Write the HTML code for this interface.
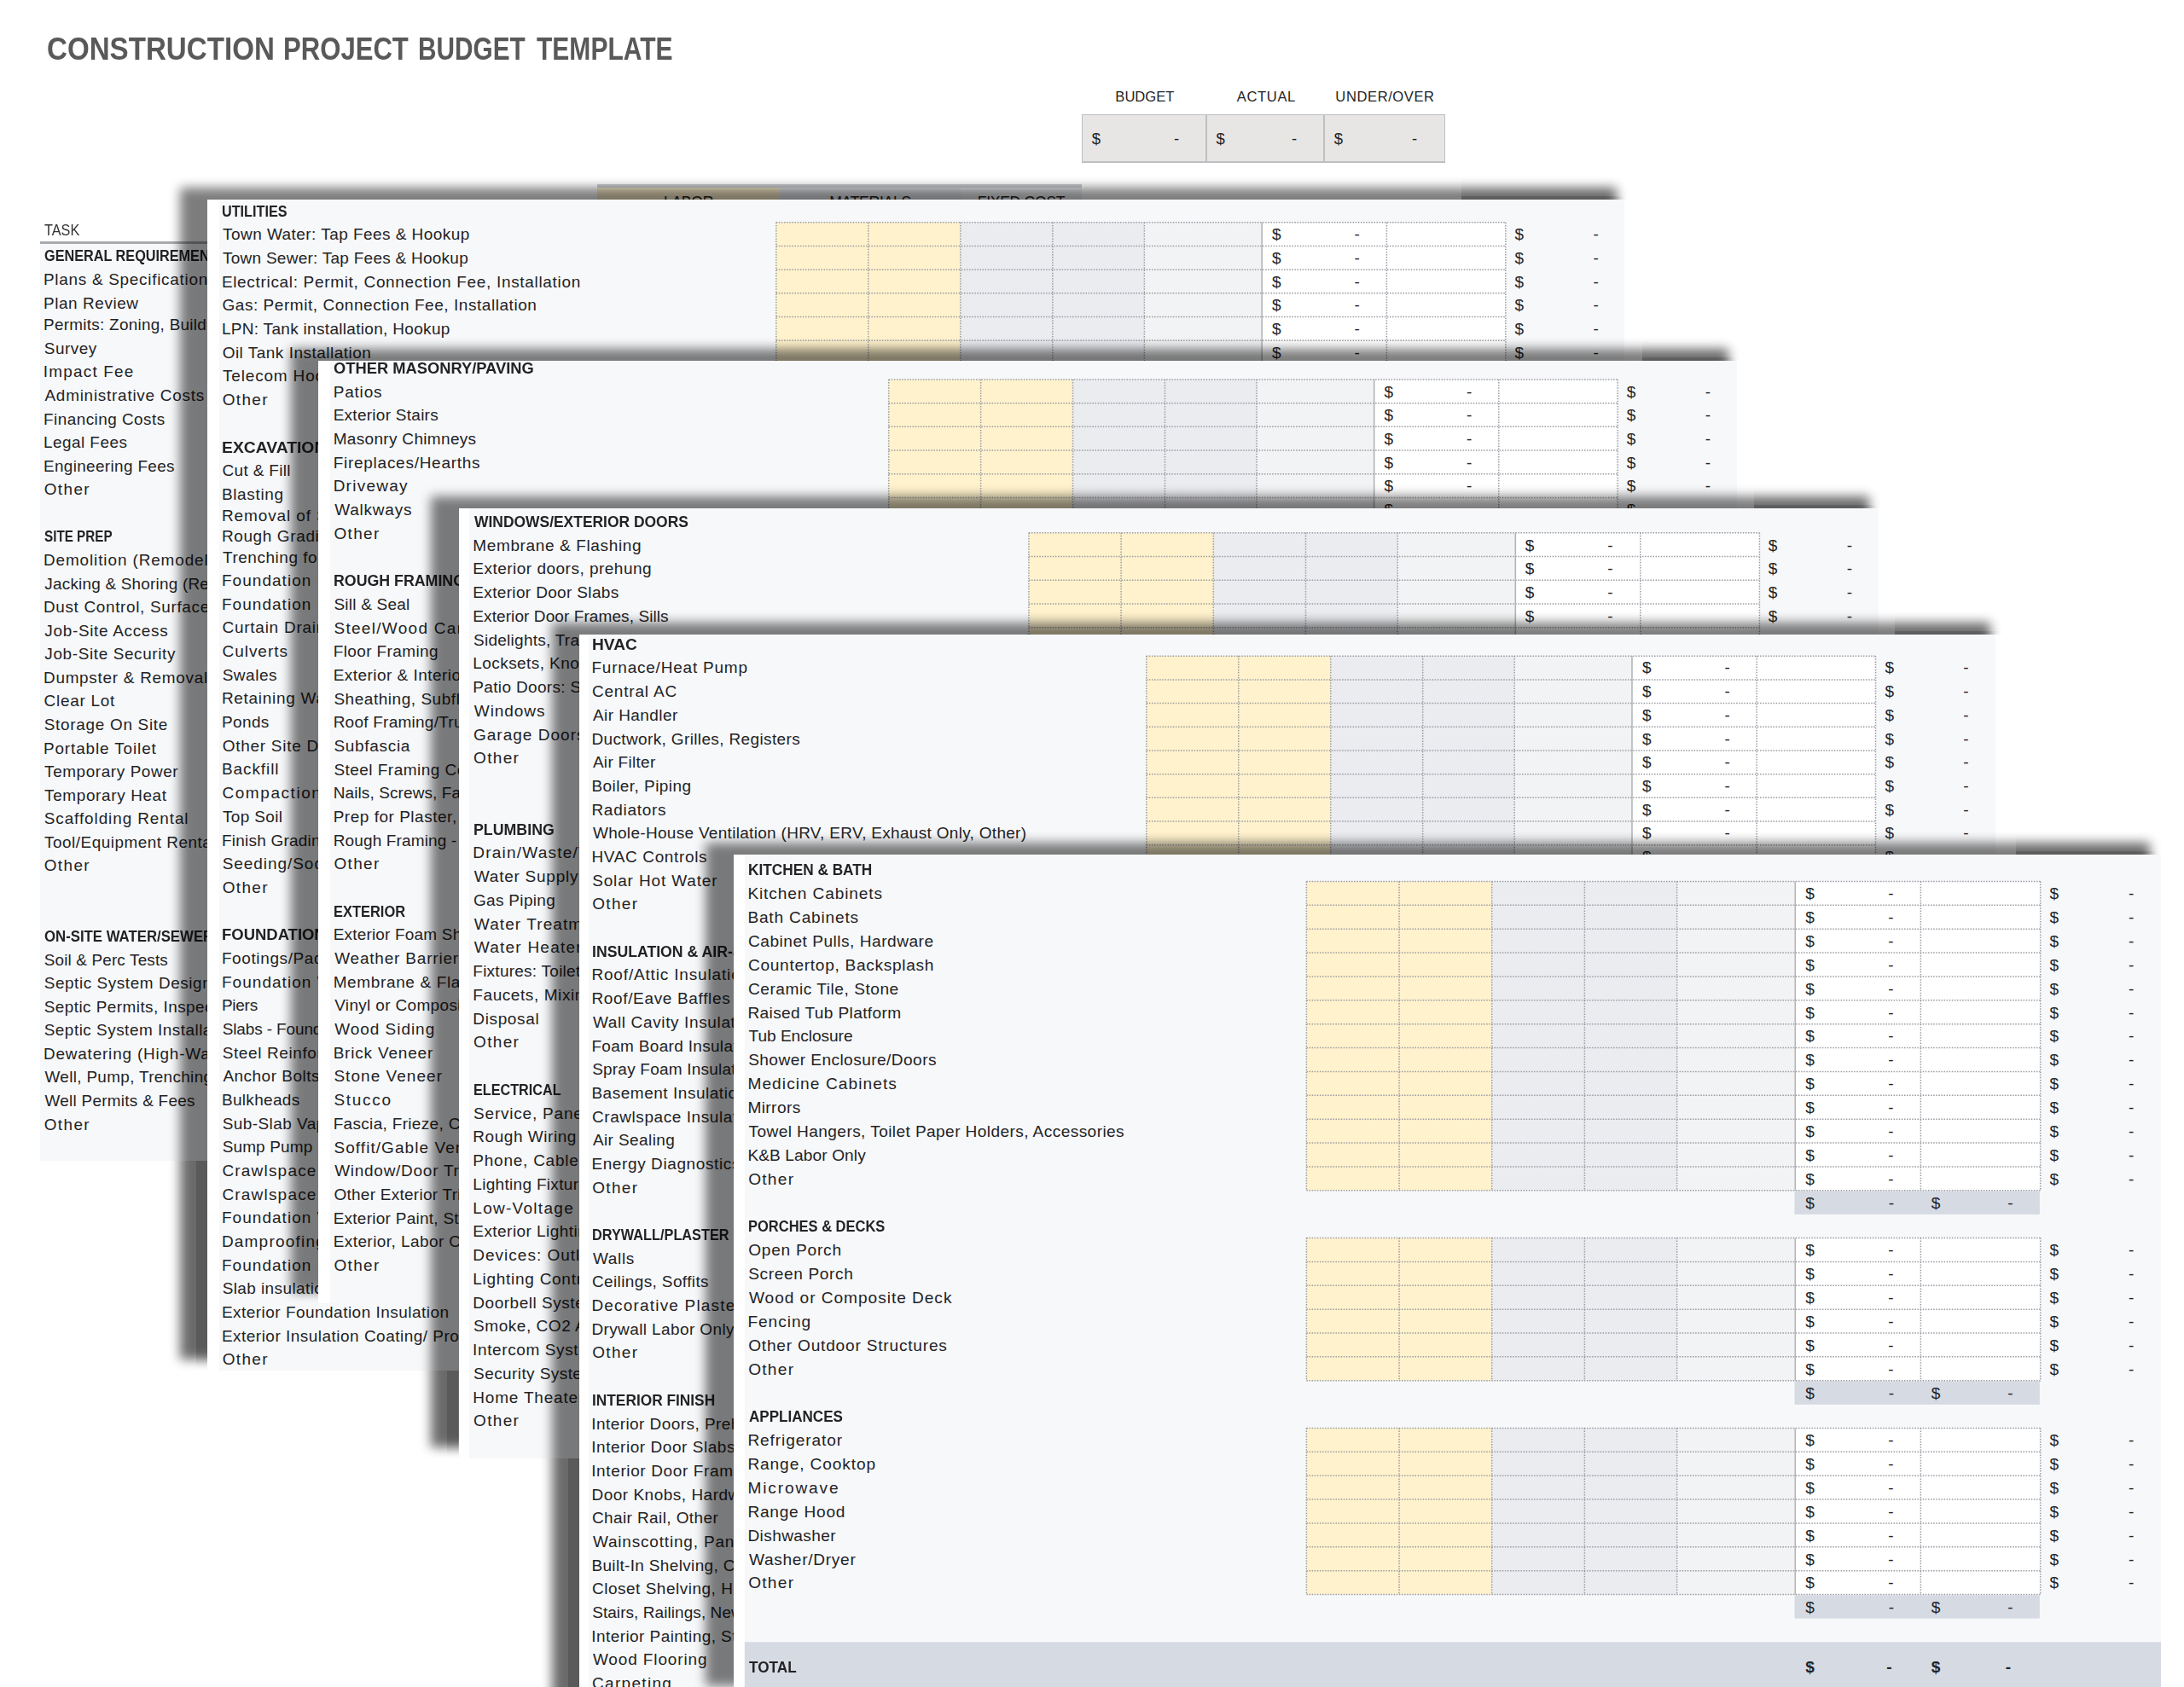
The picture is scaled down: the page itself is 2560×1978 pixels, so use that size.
<!DOCTYPE html><html><head><meta charset="utf-8"><title>Construction Project Budget Template</title><style>
html,body{margin:0;padding:0;background:#fff}
#root{width:2560px;height:1978px;position:relative;overflow:hidden;font-family:"Liberation Sans", sans-serif;color:#232325;background:#fff}
.abs,.sheet,.panel,.t,.h,.m,.g,.lay,.sh{position:absolute}
.sheet{background:#fff;overflow:hidden}
.panel{background:#f7f8fa}
.t,.h,.m{white-space:nowrap;letter-spacing:.45px}
.h{font-weight:700;letter-spacing:0;transform:scaleX(.92);transform-origin:0 50%}
.m{text-align:center;letter-spacing:0}
.m.b{font-weight:700}
.g{left:0;top:0}
.g .d{stroke:#9a9ba3;stroke-width:1.5;stroke-dasharray:1.5 1.6;fill:none}
.g .sl{stroke:#b4b5b8;stroke-width:1.6;fill:none}
.lay{left:0;top:0;width:2560px;height:1978px;overflow:hidden;pointer-events:none}
.sh{background:#000;filter:blur(6.6px)}
</style></head><body><div id="root"><div class="lay"><div class="sh" style="left:210.5px;top:220px;width:1684.5px;height:1373.5px;opacity:0.58"></div><div class="sh" style="left:340.5px;top:409.2px;width:1685.5px;height:1106.3px;opacity:0.58"></div><div class="sh" style="left:505px;top:582.3px;width:1686px;height:1115.1px;opacity:0.58"></div><div class="sh" style="left:646.7px;top:729.7px;width:1686.3px;height:1297.3px;opacity:0.58"></div><div class="sh" style="left:827.5px;top:988.2px;width:1692.5px;height:988.8px;opacity:0.58"></div><div class="abs" style="left:229.6px;top:229.8px;width:13.4px;height:1376.7px;overflow:hidden"><div class="sh" style="left:-19.1px;top:-9.8px;width:1684.5px;height:1373.5px;opacity:0.145"></div></div><div class="abs" style="left:243px;top:229.8px;width:1682px;height:4.2px;overflow:hidden"><div class="sh" style="left:-32.5px;top:-9.8px;width:1684.5px;height:1373.5px;opacity:0.145"></div></div><div class="abs" style="left:359.6px;top:419px;width:13.4px;height:1109.5px;overflow:hidden"><div class="sh" style="left:-19.1px;top:-9.8px;width:1685.5px;height:1106.3px;opacity:0.145"></div></div><div class="abs" style="left:373px;top:419px;width:1683px;height:4.2px;overflow:hidden"><div class="sh" style="left:-32.5px;top:-9.8px;width:1685.5px;height:1106.3px;opacity:0.145"></div></div><div class="abs" style="left:524.1px;top:592.1px;width:13.4px;height:1118.3px;overflow:hidden"><div class="sh" style="left:-19.1px;top:-9.8px;width:1686px;height:1115.1px;opacity:0.145"></div></div><div class="abs" style="left:537.5px;top:592.1px;width:1683.5px;height:4.2px;overflow:hidden"><div class="sh" style="left:-32.5px;top:-9.8px;width:1686px;height:1115.1px;opacity:0.145"></div></div><div class="abs" style="left:665.8px;top:739.5px;width:13.4px;height:1300.5px;overflow:hidden"><div class="sh" style="left:-19.1px;top:-9.8px;width:1686.3px;height:1297.3px;opacity:0.145"></div></div><div class="abs" style="left:679.2px;top:739.5px;width:1683.8px;height:4.2px;overflow:hidden"><div class="sh" style="left:-32.5px;top:-9.8px;width:1686.3px;height:1297.3px;opacity:0.145"></div></div><div class="abs" style="left:846.6px;top:998px;width:13.4px;height:992px;overflow:hidden"><div class="sh" style="left:-19.1px;top:-9.8px;width:1692.5px;height:988.8px;opacity:0.145"></div></div><div class="abs" style="left:860px;top:998px;width:1690px;height:4.2px;overflow:hidden"><div class="sh" style="left:-32.5px;top:-9.8px;width:1692.5px;height:988.8px;opacity:0.145"></div></div></div><div class="sheet" style="left:0;top:0;width:1713px;height:1360.6px"><div class="panel" style="left:47px;top:286.3px;width:1646px;height:1074.3px"></div><svg class="g" width="1753" height="1400.6" viewBox="0 0 1753 1400.6"><rect x="699.9" y="313.87" width="214.99" height="273.33" fill="#fff2cc"/><rect x="914.89" y="313.87" width="214.59" height="273.33" fill="#ebecf0"/><rect x="1129.47" y="313.87" width="137.15" height="273.33" fill="#f2f3f4"/><rect x="1266.63" y="313.87" width="284.26" height="273.33" fill="#ffffff"/><rect x="1265.83" y="588" width="284.26" height="26.97" fill="#d6dae3"/><line class="d" x1="699.9" y1="313.87" x2="1550.89" y2="313.87"/><line class="d" x1="699.9" y1="341.44" x2="1550.89" y2="341.44"/><line class="d" x1="699.9" y1="369.01" x2="1550.89" y2="369.01"/><line class="d" x1="699.9" y1="394.21" x2="1550.89" y2="394.21"/><line class="d" x1="699.9" y1="421.78" x2="1550.89" y2="421.78"/><line class="d" x1="699.9" y1="449.35" x2="1550.89" y2="449.35"/><line class="d" x1="699.9" y1="476.92" x2="1550.89" y2="476.92"/><line class="d" x1="699.9" y1="504.49" x2="1550.89" y2="504.49"/><line class="d" x1="699.9" y1="532.06" x2="1550.89" y2="532.06"/><line class="d" x1="699.9" y1="559.63" x2="1550.89" y2="559.63"/><line class="d" x1="699.9" y1="587.2" x2="1550.89" y2="587.2"/><line class="d" x1="699.9" y1="313.87" x2="699.9" y2="587.2"/><line class="d" x1="807.39" y1="313.87" x2="807.39" y2="587.2"/><line class="d" x1="914.89" y1="313.87" x2="914.89" y2="587.2"/><line class="d" x1="1022.38" y1="313.87" x2="1022.38" y2="587.2"/><line class="d" x1="1129.47" y1="313.87" x2="1129.47" y2="587.2"/><line class="sl" x1="1266.63" y1="313.87" x2="1266.63" y2="587.2"/><line class="d" x1="1412.14" y1="313.87" x2="1412.14" y2="587.2"/><line class="d" x1="1550.89" y1="313.87" x2="1550.89" y2="587.2"/><rect x="699.9" y="642.34" width="214.99" height="385.98" fill="#fff2cc"/><rect x="914.89" y="642.34" width="214.59" height="385.98" fill="#ebecf0"/><rect x="1129.47" y="642.34" width="137.15" height="385.98" fill="#f2f3f4"/><rect x="1266.63" y="642.34" width="284.26" height="385.98" fill="#ffffff"/><rect x="1265.83" y="1029.12" width="284.26" height="26.97" fill="#d6dae3"/><line class="d" x1="699.9" y1="642.34" x2="1550.89" y2="642.34"/><line class="d" x1="699.9" y1="669.91" x2="1550.89" y2="669.91"/><line class="d" x1="699.9" y1="697.48" x2="1550.89" y2="697.48"/><line class="d" x1="699.9" y1="725.05" x2="1550.89" y2="725.05"/><line class="d" x1="699.9" y1="752.62" x2="1550.89" y2="752.62"/><line class="d" x1="699.9" y1="780.19" x2="1550.89" y2="780.19"/><line class="d" x1="699.9" y1="807.76" x2="1550.89" y2="807.76"/><line class="d" x1="699.9" y1="835.33" x2="1550.89" y2="835.33"/><line class="d" x1="699.9" y1="862.9" x2="1550.89" y2="862.9"/><line class="d" x1="699.9" y1="890.47" x2="1550.89" y2="890.47"/><line class="d" x1="699.9" y1="918.04" x2="1550.89" y2="918.04"/><line class="d" x1="699.9" y1="945.61" x2="1550.89" y2="945.61"/><line class="d" x1="699.9" y1="973.18" x2="1550.89" y2="973.18"/><line class="d" x1="699.9" y1="1000.75" x2="1550.89" y2="1000.75"/><line class="d" x1="699.9" y1="1028.32" x2="1550.89" y2="1028.32"/><line class="d" x1="699.9" y1="642.34" x2="699.9" y2="1028.32"/><line class="d" x1="807.39" y1="642.34" x2="807.39" y2="1028.32"/><line class="d" x1="914.89" y1="642.34" x2="914.89" y2="1028.32"/><line class="d" x1="1022.38" y1="642.34" x2="1022.38" y2="1028.32"/><line class="d" x1="1129.47" y1="642.34" x2="1129.47" y2="1028.32"/><line class="sl" x1="1266.63" y1="642.34" x2="1266.63" y2="1028.32"/><line class="d" x1="1412.14" y1="642.34" x2="1412.14" y2="1028.32"/><line class="d" x1="1550.89" y1="642.34" x2="1550.89" y2="1028.32"/><rect x="699.9" y="1111.03" width="214.99" height="220.56" fill="#fff2cc"/><rect x="914.89" y="1111.03" width="214.59" height="220.56" fill="#ebecf0"/><rect x="1129.47" y="1111.03" width="137.15" height="220.56" fill="#f2f3f4"/><rect x="1266.63" y="1111.03" width="284.26" height="220.56" fill="#ffffff"/><rect x="1265.83" y="1332.39" width="284.26" height="26.97" fill="#d6dae3"/><line class="d" x1="699.9" y1="1111.03" x2="1550.89" y2="1111.03"/><line class="d" x1="699.9" y1="1138.6" x2="1550.89" y2="1138.6"/><line class="d" x1="699.9" y1="1166.17" x2="1550.89" y2="1166.17"/><line class="d" x1="699.9" y1="1193.74" x2="1550.89" y2="1193.74"/><line class="d" x1="699.9" y1="1221.31" x2="1550.89" y2="1221.31"/><line class="d" x1="699.9" y1="1248.88" x2="1550.89" y2="1248.88"/><line class="d" x1="699.9" y1="1276.45" x2="1550.89" y2="1276.45"/><line class="d" x1="699.9" y1="1304.02" x2="1550.89" y2="1304.02"/><line class="d" x1="699.9" y1="1331.59" x2="1550.89" y2="1331.59"/><line class="d" x1="699.9" y1="1111.03" x2="699.9" y2="1331.59"/><line class="d" x1="807.39" y1="1111.03" x2="807.39" y2="1331.59"/><line class="d" x1="914.89" y1="1111.03" x2="914.89" y2="1331.59"/><line class="d" x1="1022.38" y1="1111.03" x2="1022.38" y2="1331.59"/><line class="d" x1="1129.47" y1="1111.03" x2="1129.47" y2="1331.59"/><line class="sl" x1="1266.63" y1="1111.03" x2="1266.63" y2="1331.59"/><line class="d" x1="1412.14" y1="1111.03" x2="1412.14" y2="1331.59"/><line class="d" x1="1550.89" y1="1111.03" x2="1550.89" y2="1331.59"/></svg><div class="h" style="left:51.85px;top:285.7px;line-height:27.57px;font-size:18.91px;transform:scaleX(0.8586)">GENERAL REQUIREMENTS</div><div class="t" style="left:50.99px;top:314.47px;line-height:27.57px;font-size:18.91px;letter-spacing:0.729px">Plans &amp; Specifications</div><span class="m" style="left:1273.75px;top:314.47px;width:20px;line-height:27.57px;font-size:18.91px">$</span><span class="m" style="left:1367.6px;top:314.47px;width:20px;line-height:27.57px;font-size:18.91px">-</span><span class="m" style="left:1556.81px;top:314.47px;width:20px;line-height:27.57px;font-size:18.91px">$</span><span class="m" style="left:1646.19px;top:314.47px;width:20px;line-height:27.57px;font-size:18.91px">-</span><div class="t" style="left:50.99px;top:342.04px;line-height:27.57px;font-size:18.91px;letter-spacing:0.596px">Plan Review</div><span class="m" style="left:1273.75px;top:342.04px;width:20px;line-height:27.57px;font-size:18.91px">$</span><span class="m" style="left:1367.6px;top:342.04px;width:20px;line-height:27.57px;font-size:18.91px">-</span><span class="m" style="left:1556.81px;top:342.04px;width:20px;line-height:27.57px;font-size:18.91px">$</span><span class="m" style="left:1646.19px;top:342.04px;width:20px;line-height:27.57px;font-size:18.91px">-</span><div class="t" style="left:50.99px;top:368.41px;line-height:25.2px;font-size:18.91px;letter-spacing:0.281px">Permits: Zoning, Building, Environmental, Other</div><span class="m" style="left:1273.75px;top:369.61px;width:20px;line-height:25.2px;font-size:18.91px">$</span><span class="m" style="left:1367.6px;top:369.61px;width:20px;line-height:25.2px;font-size:18.91px">-</span><span class="m" style="left:1556.81px;top:369.61px;width:20px;line-height:25.2px;font-size:18.91px">$</span><span class="m" style="left:1646.19px;top:369.61px;width:20px;line-height:25.2px;font-size:18.91px">-</span><div class="t" style="left:51.74px;top:394.81px;line-height:27.57px;font-size:18.91px;letter-spacing:0.540px">Survey</div><span class="m" style="left:1273.75px;top:394.81px;width:20px;line-height:27.57px;font-size:18.91px">$</span><span class="m" style="left:1367.6px;top:394.81px;width:20px;line-height:27.57px;font-size:18.91px">-</span><span class="m" style="left:1556.81px;top:394.81px;width:20px;line-height:27.57px;font-size:18.91px">$</span><span class="m" style="left:1646.19px;top:394.81px;width:20px;line-height:27.57px;font-size:18.91px">-</span><div class="t" style="left:50.8px;top:422.38px;line-height:27.57px;font-size:18.91px;letter-spacing:1.222px">Impact Fee</div><span class="m" style="left:1273.75px;top:422.38px;width:20px;line-height:27.57px;font-size:18.91px">$</span><span class="m" style="left:1367.6px;top:422.38px;width:20px;line-height:27.57px;font-size:18.91px">-</span><span class="m" style="left:1556.81px;top:422.38px;width:20px;line-height:27.57px;font-size:18.91px">$</span><span class="m" style="left:1646.19px;top:422.38px;width:20px;line-height:27.57px;font-size:18.91px">-</span><div class="t" style="left:52.5px;top:449.95px;line-height:27.57px;font-size:18.91px;letter-spacing:0.759px">Administrative Costs</div><span class="m" style="left:1273.75px;top:449.95px;width:20px;line-height:27.57px;font-size:18.91px">$</span><span class="m" style="left:1367.6px;top:449.95px;width:20px;line-height:27.57px;font-size:18.91px">-</span><span class="m" style="left:1556.81px;top:449.95px;width:20px;line-height:27.57px;font-size:18.91px">$</span><span class="m" style="left:1646.19px;top:449.95px;width:20px;line-height:27.57px;font-size:18.91px">-</span><div class="t" style="left:50.99px;top:477.52px;line-height:27.57px;font-size:18.91px;letter-spacing:0.478px">Financing Costs</div><span class="m" style="left:1273.75px;top:477.52px;width:20px;line-height:27.57px;font-size:18.91px">$</span><span class="m" style="left:1367.6px;top:477.52px;width:20px;line-height:27.57px;font-size:18.91px">-</span><span class="m" style="left:1556.81px;top:477.52px;width:20px;line-height:27.57px;font-size:18.91px">$</span><span class="m" style="left:1646.19px;top:477.52px;width:20px;line-height:27.57px;font-size:18.91px">-</span><div class="t" style="left:50.99px;top:505.09px;line-height:27.57px;font-size:18.91px;letter-spacing:0.479px">Legal Fees</div><span class="m" style="left:1273.75px;top:505.09px;width:20px;line-height:27.57px;font-size:18.91px">$</span><span class="m" style="left:1367.6px;top:505.09px;width:20px;line-height:27.57px;font-size:18.91px">-</span><span class="m" style="left:1556.81px;top:505.09px;width:20px;line-height:27.57px;font-size:18.91px">$</span><span class="m" style="left:1646.19px;top:505.09px;width:20px;line-height:27.57px;font-size:18.91px">-</span><div class="t" style="left:50.99px;top:532.66px;line-height:27.57px;font-size:18.91px;letter-spacing:0.357px">Engineering Fees</div><span class="m" style="left:1273.75px;top:532.66px;width:20px;line-height:27.57px;font-size:18.91px">$</span><span class="m" style="left:1367.6px;top:532.66px;width:20px;line-height:27.57px;font-size:18.91px">-</span><span class="m" style="left:1556.81px;top:532.66px;width:20px;line-height:27.57px;font-size:18.91px">$</span><span class="m" style="left:1646.19px;top:532.66px;width:20px;line-height:27.57px;font-size:18.91px">-</span><div class="t" style="left:51.74px;top:560.23px;line-height:27.57px;font-size:18.91px;letter-spacing:1.402px">Other</div><span class="m" style="left:1273.75px;top:560.23px;width:20px;line-height:27.57px;font-size:18.91px">$</span><span class="m" style="left:1367.6px;top:560.23px;width:20px;line-height:27.57px;font-size:18.91px">-</span><span class="m" style="left:1556.81px;top:560.23px;width:20px;line-height:27.57px;font-size:18.91px">$</span><span class="m" style="left:1646.19px;top:560.23px;width:20px;line-height:27.57px;font-size:18.91px">-</span><span class="m" style="left:1273.75px;top:588.1px;width:20px;line-height:27.57px;font-size:18.91px">$</span><span class="m" style="left:1368.1px;top:588.1px;width:20px;line-height:27.57px;font-size:18.91px">-</span><span class="m" style="left:1419.56px;top:588.1px;width:20px;line-height:27.57px;font-size:18.91px">$</span><span class="m" style="left:1505.95px;top:588.1px;width:20px;line-height:27.57px;font-size:18.91px">-</span><div class="h" style="left:52.2px;top:615.37px;line-height:27.57px;font-size:18.91px;transform:scaleX(0.8060)">SITE PREP</div><div class="t" style="left:50.99px;top:642.94px;line-height:27.57px;font-size:18.91px;letter-spacing:0.899px">Demolition (Remodel)</div><span class="m" style="left:1273.75px;top:642.94px;width:20px;line-height:27.57px;font-size:18.91px">$</span><span class="m" style="left:1367.6px;top:642.94px;width:20px;line-height:27.57px;font-size:18.91px">-</span><span class="m" style="left:1556.81px;top:642.94px;width:20px;line-height:27.57px;font-size:18.91px">$</span><span class="m" style="left:1646.19px;top:642.94px;width:20px;line-height:27.57px;font-size:18.91px">-</span><div class="t" style="left:52.31px;top:670.51px;line-height:27.57px;font-size:18.91px;letter-spacing:0.224px">Jacking &amp; Shoring (Remodel)</div><span class="m" style="left:1273.75px;top:670.51px;width:20px;line-height:27.57px;font-size:18.91px">$</span><span class="m" style="left:1367.6px;top:670.51px;width:20px;line-height:27.57px;font-size:18.91px">-</span><span class="m" style="left:1556.81px;top:670.51px;width:20px;line-height:27.57px;font-size:18.91px">$</span><span class="m" style="left:1646.19px;top:670.51px;width:20px;line-height:27.57px;font-size:18.91px">-</span><div class="t" style="left:50.99px;top:698.08px;line-height:27.57px;font-size:18.91px;letter-spacing:0.672px">Dust Control, Surface Protection</div><span class="m" style="left:1273.75px;top:698.08px;width:20px;line-height:27.57px;font-size:18.91px">$</span><span class="m" style="left:1367.6px;top:698.08px;width:20px;line-height:27.57px;font-size:18.91px">-</span><span class="m" style="left:1556.81px;top:698.08px;width:20px;line-height:27.57px;font-size:18.91px">$</span><span class="m" style="left:1646.19px;top:698.08px;width:20px;line-height:27.57px;font-size:18.91px">-</span><div class="t" style="left:52.31px;top:725.65px;line-height:27.57px;font-size:18.91px;letter-spacing:0.705px">Job-Site Access</div><span class="m" style="left:1273.75px;top:725.65px;width:20px;line-height:27.57px;font-size:18.91px">$</span><span class="m" style="left:1367.6px;top:725.65px;width:20px;line-height:27.57px;font-size:18.91px">-</span><span class="m" style="left:1556.81px;top:725.65px;width:20px;line-height:27.57px;font-size:18.91px">$</span><span class="m" style="left:1646.19px;top:725.65px;width:20px;line-height:27.57px;font-size:18.91px">-</span><div class="t" style="left:52.31px;top:753.22px;line-height:27.57px;font-size:18.91px;letter-spacing:0.641px">Job-Site Security</div><span class="m" style="left:1273.75px;top:753.22px;width:20px;line-height:27.57px;font-size:18.91px">$</span><span class="m" style="left:1367.6px;top:753.22px;width:20px;line-height:27.57px;font-size:18.91px">-</span><span class="m" style="left:1556.81px;top:753.22px;width:20px;line-height:27.57px;font-size:18.91px">$</span><span class="m" style="left:1646.19px;top:753.22px;width:20px;line-height:27.57px;font-size:18.91px">-</span><div class="t" style="left:50.99px;top:780.79px;line-height:27.57px;font-size:18.91px;letter-spacing:0.739px">Dumpster &amp; Removal</div><span class="m" style="left:1273.75px;top:780.79px;width:20px;line-height:27.57px;font-size:18.91px">$</span><span class="m" style="left:1367.6px;top:780.79px;width:20px;line-height:27.57px;font-size:18.91px">-</span><span class="m" style="left:1556.81px;top:780.79px;width:20px;line-height:27.57px;font-size:18.91px">$</span><span class="m" style="left:1646.19px;top:780.79px;width:20px;line-height:27.57px;font-size:18.91px">-</span><div class="t" style="left:51.55px;top:808.36px;line-height:27.57px;font-size:18.91px;letter-spacing:0.746px">Clear Lot</div><span class="m" style="left:1273.75px;top:808.36px;width:20px;line-height:27.57px;font-size:18.91px">$</span><span class="m" style="left:1367.6px;top:808.36px;width:20px;line-height:27.57px;font-size:18.91px">-</span><span class="m" style="left:1556.81px;top:808.36px;width:20px;line-height:27.57px;font-size:18.91px">$</span><span class="m" style="left:1646.19px;top:808.36px;width:20px;line-height:27.57px;font-size:18.91px">-</span><div class="t" style="left:51.74px;top:835.93px;line-height:27.57px;font-size:18.91px;letter-spacing:0.720px">Storage On Site</div><span class="m" style="left:1273.75px;top:835.93px;width:20px;line-height:27.57px;font-size:18.91px">$</span><span class="m" style="left:1367.6px;top:835.93px;width:20px;line-height:27.57px;font-size:18.91px">-</span><span class="m" style="left:1556.81px;top:835.93px;width:20px;line-height:27.57px;font-size:18.91px">$</span><span class="m" style="left:1646.19px;top:835.93px;width:20px;line-height:27.57px;font-size:18.91px">-</span><div class="t" style="left:50.99px;top:863.5px;line-height:27.57px;font-size:18.91px;letter-spacing:0.881px">Portable Toilet</div><span class="m" style="left:1273.75px;top:863.5px;width:20px;line-height:27.57px;font-size:18.91px">$</span><span class="m" style="left:1367.6px;top:863.5px;width:20px;line-height:27.57px;font-size:18.91px">-</span><span class="m" style="left:1556.81px;top:863.5px;width:20px;line-height:27.57px;font-size:18.91px">$</span><span class="m" style="left:1646.19px;top:863.5px;width:20px;line-height:27.57px;font-size:18.91px">-</span><div class="t" style="left:52.12px;top:891.07px;line-height:27.57px;font-size:18.91px;letter-spacing:0.596px">Temporary Power</div><span class="m" style="left:1273.75px;top:891.07px;width:20px;line-height:27.57px;font-size:18.91px">$</span><span class="m" style="left:1367.6px;top:891.07px;width:20px;line-height:27.57px;font-size:18.91px">-</span><span class="m" style="left:1556.81px;top:891.07px;width:20px;line-height:27.57px;font-size:18.91px">$</span><span class="m" style="left:1646.19px;top:891.07px;width:20px;line-height:27.57px;font-size:18.91px">-</span><div class="t" style="left:52.12px;top:918.64px;line-height:27.57px;font-size:18.91px;letter-spacing:0.647px">Temporary Heat</div><span class="m" style="left:1273.75px;top:918.64px;width:20px;line-height:27.57px;font-size:18.91px">$</span><span class="m" style="left:1367.6px;top:918.64px;width:20px;line-height:27.57px;font-size:18.91px">-</span><span class="m" style="left:1556.81px;top:918.64px;width:20px;line-height:27.57px;font-size:18.91px">$</span><span class="m" style="left:1646.19px;top:918.64px;width:20px;line-height:27.57px;font-size:18.91px">-</span><div class="t" style="left:51.74px;top:946.21px;line-height:27.57px;font-size:18.91px;letter-spacing:0.923px">Scaffolding Rental</div><span class="m" style="left:1273.75px;top:946.21px;width:20px;line-height:27.57px;font-size:18.91px">$</span><span class="m" style="left:1367.6px;top:946.21px;width:20px;line-height:27.57px;font-size:18.91px">-</span><span class="m" style="left:1556.81px;top:946.21px;width:20px;line-height:27.57px;font-size:18.91px">$</span><span class="m" style="left:1646.19px;top:946.21px;width:20px;line-height:27.57px;font-size:18.91px">-</span><div class="t" style="left:52.12px;top:973.78px;line-height:27.57px;font-size:18.91px;letter-spacing:0.503px">Tool/Equipment Rental</div><span class="m" style="left:1273.75px;top:973.78px;width:20px;line-height:27.57px;font-size:18.91px">$</span><span class="m" style="left:1367.6px;top:973.78px;width:20px;line-height:27.57px;font-size:18.91px">-</span><span class="m" style="left:1556.81px;top:973.78px;width:20px;line-height:27.57px;font-size:18.91px">$</span><span class="m" style="left:1646.19px;top:973.78px;width:20px;line-height:27.57px;font-size:18.91px">-</span><div class="t" style="left:51.74px;top:1001.35px;line-height:27.57px;font-size:18.91px;letter-spacing:1.402px">Other</div><span class="m" style="left:1273.75px;top:1001.35px;width:20px;line-height:27.57px;font-size:18.91px">$</span><span class="m" style="left:1367.6px;top:1001.35px;width:20px;line-height:27.57px;font-size:18.91px">-</span><span class="m" style="left:1556.81px;top:1001.35px;width:20px;line-height:27.57px;font-size:18.91px">$</span><span class="m" style="left:1646.19px;top:1001.35px;width:20px;line-height:27.57px;font-size:18.91px">-</span><span class="m" style="left:1273.75px;top:1029.22px;width:20px;line-height:27.57px;font-size:18.91px">$</span><span class="m" style="left:1368.1px;top:1029.22px;width:20px;line-height:27.57px;font-size:18.91px">-</span><span class="m" style="left:1419.56px;top:1029.22px;width:20px;line-height:27.57px;font-size:18.91px">$</span><span class="m" style="left:1505.95px;top:1029.22px;width:20px;line-height:27.57px;font-size:18.91px">-</span><div class="h" style="left:51.83px;top:1084.06px;line-height:27.57px;font-size:18.91px;transform:scaleX(0.8873)">ON-SITE WATER/SEWER</div><div class="t" style="left:51.74px;top:1111.63px;line-height:27.57px;font-size:18.91px;letter-spacing:0.156px">Soil &amp; Perc Tests</div><span class="m" style="left:1273.75px;top:1111.63px;width:20px;line-height:27.57px;font-size:18.91px">$</span><span class="m" style="left:1367.6px;top:1111.63px;width:20px;line-height:27.57px;font-size:18.91px">-</span><span class="m" style="left:1556.81px;top:1111.63px;width:20px;line-height:27.57px;font-size:18.91px">$</span><span class="m" style="left:1646.19px;top:1111.63px;width:20px;line-height:27.57px;font-size:18.91px">-</span><div class="t" style="left:51.74px;top:1139.2px;line-height:27.57px;font-size:18.91px;letter-spacing:0.582px">Septic System Design</div><span class="m" style="left:1273.75px;top:1139.2px;width:20px;line-height:27.57px;font-size:18.91px">$</span><span class="m" style="left:1367.6px;top:1139.2px;width:20px;line-height:27.57px;font-size:18.91px">-</span><span class="m" style="left:1556.81px;top:1139.2px;width:20px;line-height:27.57px;font-size:18.91px">$</span><span class="m" style="left:1646.19px;top:1139.2px;width:20px;line-height:27.57px;font-size:18.91px">-</span><div class="t" style="left:51.74px;top:1166.77px;line-height:27.57px;font-size:18.91px;letter-spacing:0.458px">Septic Permits, Inspections, Fees</div><span class="m" style="left:1273.75px;top:1166.77px;width:20px;line-height:27.57px;font-size:18.91px">$</span><span class="m" style="left:1367.6px;top:1166.77px;width:20px;line-height:27.57px;font-size:18.91px">-</span><span class="m" style="left:1556.81px;top:1166.77px;width:20px;line-height:27.57px;font-size:18.91px">$</span><span class="m" style="left:1646.19px;top:1166.77px;width:20px;line-height:27.57px;font-size:18.91px">-</span><div class="t" style="left:51.74px;top:1194.34px;line-height:27.57px;font-size:18.91px;letter-spacing:0.507px">Septic System Installation, Tie In to House</div><span class="m" style="left:1273.75px;top:1194.34px;width:20px;line-height:27.57px;font-size:18.91px">$</span><span class="m" style="left:1367.6px;top:1194.34px;width:20px;line-height:27.57px;font-size:18.91px">-</span><span class="m" style="left:1556.81px;top:1194.34px;width:20px;line-height:27.57px;font-size:18.91px">$</span><span class="m" style="left:1646.19px;top:1194.34px;width:20px;line-height:27.57px;font-size:18.91px">-</span><div class="t" style="left:50.99px;top:1221.91px;line-height:27.57px;font-size:18.91px;letter-spacing:0.819px">Dewatering (High-Water Table)</div><span class="m" style="left:1273.75px;top:1221.91px;width:20px;line-height:27.57px;font-size:18.91px">$</span><span class="m" style="left:1367.6px;top:1221.91px;width:20px;line-height:27.57px;font-size:18.91px">-</span><span class="m" style="left:1556.81px;top:1221.91px;width:20px;line-height:27.57px;font-size:18.91px">$</span><span class="m" style="left:1646.19px;top:1221.91px;width:20px;line-height:27.57px;font-size:18.91px">-</span><div class="t" style="left:52.5px;top:1249.48px;line-height:27.57px;font-size:18.91px;letter-spacing:0.332px">Well, Pump, Trenching, Plumbing</div><span class="m" style="left:1273.75px;top:1249.48px;width:20px;line-height:27.57px;font-size:18.91px">$</span><span class="m" style="left:1367.6px;top:1249.48px;width:20px;line-height:27.57px;font-size:18.91px">-</span><span class="m" style="left:1556.81px;top:1249.48px;width:20px;line-height:27.57px;font-size:18.91px">$</span><span class="m" style="left:1646.19px;top:1249.48px;width:20px;line-height:27.57px;font-size:18.91px">-</span><div class="t" style="left:52.5px;top:1277.05px;line-height:27.57px;font-size:18.91px;letter-spacing:0.280px">Well Permits &amp; Fees</div><span class="m" style="left:1273.75px;top:1277.05px;width:20px;line-height:27.57px;font-size:18.91px">$</span><span class="m" style="left:1367.6px;top:1277.05px;width:20px;line-height:27.57px;font-size:18.91px">-</span><span class="m" style="left:1556.81px;top:1277.05px;width:20px;line-height:27.57px;font-size:18.91px">$</span><span class="m" style="left:1646.19px;top:1277.05px;width:20px;line-height:27.57px;font-size:18.91px">-</span><div class="t" style="left:51.74px;top:1304.62px;line-height:27.57px;font-size:18.91px;letter-spacing:1.402px">Other</div><span class="m" style="left:1273.75px;top:1304.62px;width:20px;line-height:27.57px;font-size:18.91px">$</span><span class="m" style="left:1367.6px;top:1304.62px;width:20px;line-height:27.57px;font-size:18.91px">-</span><span class="m" style="left:1556.81px;top:1304.62px;width:20px;line-height:27.57px;font-size:18.91px">$</span><span class="m" style="left:1646.19px;top:1304.62px;width:20px;line-height:27.57px;font-size:18.91px">-</span><span class="m" style="left:1273.75px;top:1332.49px;width:20px;line-height:27.57px;font-size:18.91px">$</span><span class="m" style="left:1368.1px;top:1332.49px;width:20px;line-height:27.57px;font-size:18.91px">-</span><span class="m" style="left:1419.56px;top:1332.49px;width:20px;line-height:27.57px;font-size:18.91px">$</span><span class="m" style="left:1505.95px;top:1332.49px;width:20px;line-height:27.57px;font-size:18.91px">-</span><div class="abs" style="left:54.77px;top:35.7px;font-size:36.4px;font-weight:700;color:#595959;white-space:nowrap;line-height:44px;transform:scaleX(0.9102);transform-origin:0 50%">CONSTRUCTION</div><div class="abs" style="left:331.73px;top:35.7px;font-size:36.4px;font-weight:700;color:#595959;white-space:nowrap;line-height:44px;transform:scaleX(0.8544);transform-origin:0 50%">PROJECT</div><div class="abs" style="left:490.01px;top:35.7px;font-size:36.4px;font-weight:700;color:#595959;white-space:nowrap;line-height:44px;transform:scaleX(0.8180);transform-origin:0 50%">BUDGET</div><div class="abs" style="left:629px;top:35.7px;font-size:36.4px;font-weight:700;color:#595959;white-space:nowrap;line-height:44px;transform:scaleX(0.8251);transform-origin:0 50%">TEMPLATE</div><div class="abs" style="left:1267.5px;top:133.5px;width:426px;height:57px;background:#e7e6e5;box-sizing:border-box;border:1.5px solid #bdbfc3;border-bottom-width:2.5px"></div><div class="abs" style="left:1413.2px;top:134px;width:1.6px;height:55px;background:#bdbfc3"></div><div class="abs" style="left:1551.1px;top:134px;width:1.6px;height:55px;background:#bdbfc3"></div><div class="abs" style="left:1241.9px;top:101.2px;width:200px;text-align:center;font-size:16.6px;line-height:25px;letter-spacing:0.0px;white-space:nowrap">BUDGET</div><div class="abs" style="left:1384.4px;top:101.2px;width:200px;text-align:center;font-size:16.6px;line-height:25px;letter-spacing:0.6px;white-space:nowrap">ACTUAL</div><div class="abs" style="left:1523.5px;top:101.2px;width:200px;text-align:center;font-size:16.6px;line-height:25px;letter-spacing:0.57px;white-space:nowrap">UNDER/OVER</div><span class="m" style="left:1274.8px;top:148.5px;width:20px;line-height:28px;font-size:18.5px">$</span><span class="m" style="left:1369.1px;top:148.5px;width:20px;line-height:28px;font-size:18.5px">-</span><span class="m" style="left:1420.7px;top:148.5px;width:20px;line-height:28px;font-size:18.5px">$</span><span class="m" style="left:1507px;top:148.5px;width:20px;line-height:28px;font-size:18.5px">-</span><span class="m" style="left:1559px;top:148.5px;width:20px;line-height:28px;font-size:18.5px">$</span><span class="m" style="left:1648.2px;top:148.5px;width:20px;line-height:28px;font-size:18.5px">-</span><div class="abs" style="left:51.8px;top:257.3px;font-size:18.4px;line-height:25px;color:#333;transform:scaleX(.885);transform-origin:0 50%">TASK</div><div class="abs" style="left:47px;top:283.4px;width:1646px;height:2.4px;background:#a9aaad"></div><div class="abs" style="left:699.9px;top:216.3px;width:568.6px;height:67px;background:#f0f1f3"></div><div class="abs" style="left:699.9px;top:216.3px;width:214.3px;height:67px;background:#fbeecb"></div><div class="abs" style="left:914.2px;top:216.3px;width:212px;height:67px;background:#e9ebf0"></div><div class="abs" style="left:699.9px;top:216.3px;width:568.6px;height:3.8px;background:#cbccd0"></div><div class="abs" style="left:707px;top:225px;width:200px;text-align:center;font-size:17.6px;line-height:25px;letter-spacing:-.3px;white-space:nowrap">LABOR</div><div class="abs" style="left:920px;top:225px;width:200px;text-align:center;font-size:17.6px;line-height:25px;letter-spacing:-.3px;white-space:nowrap">MATERIALS</div><div class="abs" style="left:1097px;top:225px;width:200px;text-align:center;font-size:17.6px;line-height:25px;letter-spacing:-.3px;white-space:nowrap">FIXED COST</div><div class="sh" style="left:210.5px;top:220px;width:1684.5px;height:1373.5px;opacity:0.51"></div><div class="sh" style="left:340.5px;top:409.2px;width:1685.5px;height:1106.3px;opacity:0.51"></div><div class="sh" style="left:505px;top:582.3px;width:1686px;height:1115.1px;opacity:0.51"></div><div class="sh" style="left:646.7px;top:729.7px;width:1686.3px;height:1297.3px;opacity:0.51"></div><div class="sh" style="left:827.5px;top:988.2px;width:1692.5px;height:988.8px;opacity:0.51"></div></div><div class="sheet" style="left:243px;top:234px;width:1682px;height:1372.5px"><div class="panel" style="left:14px;top:0px;width:1646.7px;height:1372.5px"></div><svg class="g" width="1722" height="1412.5" viewBox="0 0 1722 1412.5"><rect x="666.8" y="26.78" width="216" height="221.44" fill="#fff2cc"/><rect x="882.8" y="26.78" width="215.6" height="221.44" fill="#ebecf0"/><rect x="1098.4" y="26.78" width="137.8" height="221.44" fill="#f2f3f4"/><rect x="1236.2" y="26.78" width="285.6" height="221.44" fill="#ffffff"/><rect x="1235.4" y="249.02" width="285.6" height="27.08" fill="#d6dae3"/><line class="d" x1="666.8" y1="26.78" x2="1521.8" y2="26.78"/><line class="d" x1="666.8" y1="54.46" x2="1521.8" y2="54.46"/><line class="d" x1="666.8" y1="82.14" x2="1521.8" y2="82.14"/><line class="d" x1="666.8" y1="109.82" x2="1521.8" y2="109.82"/><line class="d" x1="666.8" y1="137.5" x2="1521.8" y2="137.5"/><line class="d" x1="666.8" y1="165.18" x2="1521.8" y2="165.18"/><line class="d" x1="666.8" y1="192.86" x2="1521.8" y2="192.86"/><line class="d" x1="666.8" y1="220.54" x2="1521.8" y2="220.54"/><line class="d" x1="666.8" y1="248.22" x2="1521.8" y2="248.22"/><line class="d" x1="666.8" y1="26.78" x2="666.8" y2="248.22"/><line class="d" x1="774.8" y1="26.78" x2="774.8" y2="248.22"/><line class="d" x1="882.8" y1="26.78" x2="882.8" y2="248.22"/><line class="d" x1="990.8" y1="26.78" x2="990.8" y2="248.22"/><line class="d" x1="1098.4" y1="26.78" x2="1098.4" y2="248.22"/><line class="sl" x1="1236.2" y1="26.78" x2="1236.2" y2="248.22"/><line class="d" x1="1382.4" y1="26.78" x2="1382.4" y2="248.22"/><line class="d" x1="1521.8" y1="26.78" x2="1521.8" y2="248.22"/><rect x="666.8" y="303.58" width="216" height="516.36" fill="#fff2cc"/><rect x="882.8" y="303.58" width="215.6" height="516.36" fill="#ebecf0"/><rect x="1098.4" y="303.58" width="137.8" height="516.36" fill="#f2f3f4"/><rect x="1236.2" y="303.58" width="285.6" height="516.36" fill="#ffffff"/><rect x="1235.4" y="820.74" width="285.6" height="27.08" fill="#d6dae3"/><line class="d" x1="666.8" y1="303.58" x2="1521.8" y2="303.58"/><line class="d" x1="666.8" y1="331.26" x2="1521.8" y2="331.26"/><line class="d" x1="666.8" y1="358.94" x2="1521.8" y2="358.94"/><line class="d" x1="666.8" y1="380.44" x2="1521.8" y2="380.44"/><line class="d" x1="666.8" y1="408.12" x2="1521.8" y2="408.12"/><line class="d" x1="666.8" y1="432.42" x2="1521.8" y2="432.42"/><line class="d" x1="666.8" y1="460.1" x2="1521.8" y2="460.1"/><line class="d" x1="666.8" y1="487.78" x2="1521.8" y2="487.78"/><line class="d" x1="666.8" y1="515.46" x2="1521.8" y2="515.46"/><line class="d" x1="666.8" y1="543.14" x2="1521.8" y2="543.14"/><line class="d" x1="666.8" y1="570.82" x2="1521.8" y2="570.82"/><line class="d" x1="666.8" y1="598.5" x2="1521.8" y2="598.5"/><line class="d" x1="666.8" y1="626.18" x2="1521.8" y2="626.18"/><line class="d" x1="666.8" y1="653.86" x2="1521.8" y2="653.86"/><line class="d" x1="666.8" y1="681.54" x2="1521.8" y2="681.54"/><line class="d" x1="666.8" y1="709.22" x2="1521.8" y2="709.22"/><line class="d" x1="666.8" y1="736.9" x2="1521.8" y2="736.9"/><line class="d" x1="666.8" y1="764.58" x2="1521.8" y2="764.58"/><line class="d" x1="666.8" y1="792.26" x2="1521.8" y2="792.26"/><line class="d" x1="666.8" y1="819.94" x2="1521.8" y2="819.94"/><line class="d" x1="666.8" y1="303.58" x2="666.8" y2="819.94"/><line class="d" x1="774.8" y1="303.58" x2="774.8" y2="819.94"/><line class="d" x1="882.8" y1="303.58" x2="882.8" y2="819.94"/><line class="d" x1="990.8" y1="303.58" x2="990.8" y2="819.94"/><line class="d" x1="1098.4" y1="303.58" x2="1098.4" y2="819.94"/><line class="sl" x1="1236.2" y1="303.58" x2="1236.2" y2="819.94"/><line class="d" x1="1382.4" y1="303.58" x2="1382.4" y2="819.94"/><line class="d" x1="1521.8" y1="303.58" x2="1521.8" y2="819.94"/><rect x="666.8" y="875.3" width="216" height="498.24" fill="#fff2cc"/><rect x="882.8" y="875.3" width="215.6" height="498.24" fill="#ebecf0"/><rect x="1098.4" y="875.3" width="137.8" height="498.24" fill="#f2f3f4"/><rect x="1236.2" y="875.3" width="285.6" height="498.24" fill="#ffffff"/><rect x="1235.4" y="1374.34" width="285.6" height="27.08" fill="#d6dae3"/><line class="d" x1="666.8" y1="875.3" x2="1521.8" y2="875.3"/><line class="d" x1="666.8" y1="902.98" x2="1521.8" y2="902.98"/><line class="d" x1="666.8" y1="930.66" x2="1521.8" y2="930.66"/><line class="d" x1="666.8" y1="958.34" x2="1521.8" y2="958.34"/><line class="d" x1="666.8" y1="986.02" x2="1521.8" y2="986.02"/><line class="d" x1="666.8" y1="1013.7" x2="1521.8" y2="1013.7"/><line class="d" x1="666.8" y1="1041.38" x2="1521.8" y2="1041.38"/><line class="d" x1="666.8" y1="1069.06" x2="1521.8" y2="1069.06"/><line class="d" x1="666.8" y1="1096.74" x2="1521.8" y2="1096.74"/><line class="d" x1="666.8" y1="1124.42" x2="1521.8" y2="1124.42"/><line class="d" x1="666.8" y1="1152.1" x2="1521.8" y2="1152.1"/><line class="d" x1="666.8" y1="1179.78" x2="1521.8" y2="1179.78"/><line class="d" x1="666.8" y1="1207.46" x2="1521.8" y2="1207.46"/><line class="d" x1="666.8" y1="1235.14" x2="1521.8" y2="1235.14"/><line class="d" x1="666.8" y1="1262.82" x2="1521.8" y2="1262.82"/><line class="d" x1="666.8" y1="1290.5" x2="1521.8" y2="1290.5"/><line class="d" x1="666.8" y1="1318.18" x2="1521.8" y2="1318.18"/><line class="d" x1="666.8" y1="1345.86" x2="1521.8" y2="1345.86"/><line class="d" x1="666.8" y1="1373.54" x2="1521.8" y2="1373.54"/><line class="d" x1="666.8" y1="875.3" x2="666.8" y2="1373.54"/><line class="d" x1="774.8" y1="875.3" x2="774.8" y2="1373.54"/><line class="d" x1="882.8" y1="875.3" x2="882.8" y2="1373.54"/><line class="d" x1="990.8" y1="875.3" x2="990.8" y2="1373.54"/><line class="d" x1="1098.4" y1="875.3" x2="1098.4" y2="1373.54"/><line class="sl" x1="1236.2" y1="875.3" x2="1236.2" y2="1373.54"/><line class="d" x1="1382.4" y1="875.3" x2="1382.4" y2="1373.54"/><line class="d" x1="1521.8" y1="875.3" x2="1521.8" y2="1373.54"/></svg><div class="h" style="left:17.43px;top:-0.3px;line-height:27.68px;font-size:19px;transform:scaleX(0.8535)">UTILITIES</div><div class="t" style="left:18.02px;top:27.38px;line-height:27.68px;font-size:19px;letter-spacing:0.448px">Town Water: Tap Fees &amp; Hookup</div><span class="m" style="left:1243.4px;top:27.38px;width:20px;line-height:27.68px;font-size:19px">$</span><span class="m" style="left:1337.7px;top:27.38px;width:20px;line-height:27.68px;font-size:19px">-</span><span class="m" style="left:1527.8px;top:27.38px;width:20px;line-height:27.68px;font-size:19px">$</span><span class="m" style="left:1617.6px;top:27.38px;width:20px;line-height:27.68px;font-size:19px">-</span><div class="t" style="left:18.02px;top:55.06px;line-height:27.68px;font-size:19px;letter-spacing:0.255px">Town Sewer: Tap Fees &amp; Hookup</div><span class="m" style="left:1243.4px;top:55.06px;width:20px;line-height:27.68px;font-size:19px">$</span><span class="m" style="left:1337.7px;top:55.06px;width:20px;line-height:27.68px;font-size:19px">-</span><span class="m" style="left:1527.8px;top:55.06px;width:20px;line-height:27.68px;font-size:19px">$</span><span class="m" style="left:1617.6px;top:55.06px;width:20px;line-height:27.68px;font-size:19px">-</span><div class="t" style="left:16.88px;top:82.74px;line-height:27.68px;font-size:19px;letter-spacing:0.676px">Electrical: Permit, Connection Fee, Installation</div><span class="m" style="left:1243.4px;top:82.74px;width:20px;line-height:27.68px;font-size:19px">$</span><span class="m" style="left:1337.7px;top:82.74px;width:20px;line-height:27.68px;font-size:19px">-</span><span class="m" style="left:1527.8px;top:82.74px;width:20px;line-height:27.68px;font-size:19px">$</span><span class="m" style="left:1617.6px;top:82.74px;width:20px;line-height:27.68px;font-size:19px">-</span><div class="t" style="left:17.45px;top:110.42px;line-height:27.68px;font-size:19px;letter-spacing:0.551px">Gas: Permit, Connection Fee, Installation</div><span class="m" style="left:1243.4px;top:110.42px;width:20px;line-height:27.68px;font-size:19px">$</span><span class="m" style="left:1337.7px;top:110.42px;width:20px;line-height:27.68px;font-size:19px">-</span><span class="m" style="left:1527.8px;top:110.42px;width:20px;line-height:27.68px;font-size:19px">$</span><span class="m" style="left:1617.6px;top:110.42px;width:20px;line-height:27.68px;font-size:19px">-</span><div class="t" style="left:16.88px;top:138.1px;line-height:27.68px;font-size:19px;letter-spacing:0.312px">LPN: Tank installation, Hookup</div><span class="m" style="left:1243.4px;top:138.1px;width:20px;line-height:27.68px;font-size:19px">$</span><span class="m" style="left:1337.7px;top:138.1px;width:20px;line-height:27.68px;font-size:19px">-</span><span class="m" style="left:1527.8px;top:138.1px;width:20px;line-height:27.68px;font-size:19px">$</span><span class="m" style="left:1617.6px;top:138.1px;width:20px;line-height:27.68px;font-size:19px">-</span><div class="t" style="left:17.64px;top:165.78px;line-height:27.68px;font-size:19px;letter-spacing:0.494px">Oil Tank Installation</div><span class="m" style="left:1243.4px;top:165.78px;width:20px;line-height:27.68px;font-size:19px">$</span><span class="m" style="left:1337.7px;top:165.78px;width:20px;line-height:27.68px;font-size:19px">-</span><span class="m" style="left:1527.8px;top:165.78px;width:20px;line-height:27.68px;font-size:19px">$</span><span class="m" style="left:1617.6px;top:165.78px;width:20px;line-height:27.68px;font-size:19px">-</span><div class="t" style="left:18.02px;top:193.46px;line-height:27.68px;font-size:19px;letter-spacing:0.821px">Telecom Hookup</div><span class="m" style="left:1243.4px;top:193.46px;width:20px;line-height:27.68px;font-size:19px">$</span><span class="m" style="left:1337.7px;top:193.46px;width:20px;line-height:27.68px;font-size:19px">-</span><span class="m" style="left:1527.8px;top:193.46px;width:20px;line-height:27.68px;font-size:19px">$</span><span class="m" style="left:1617.6px;top:193.46px;width:20px;line-height:27.68px;font-size:19px">-</span><div class="t" style="left:17.64px;top:221.14px;line-height:27.68px;font-size:19px;letter-spacing:1.347px">Other</div><span class="m" style="left:1243.4px;top:221.14px;width:20px;line-height:27.68px;font-size:19px">$</span><span class="m" style="left:1337.7px;top:221.14px;width:20px;line-height:27.68px;font-size:19px">-</span><span class="m" style="left:1527.8px;top:221.14px;width:20px;line-height:27.68px;font-size:19px">$</span><span class="m" style="left:1617.6px;top:221.14px;width:20px;line-height:27.68px;font-size:19px">-</span><span class="m" style="left:1243.4px;top:249.12px;width:20px;line-height:27.68px;font-size:19px">$</span><span class="m" style="left:1338.2px;top:249.12px;width:20px;line-height:27.68px;font-size:19px">-</span><span class="m" style="left:1389.9px;top:249.12px;width:20px;line-height:27.68px;font-size:19px">$</span><span class="m" style="left:1476.7px;top:249.12px;width:20px;line-height:27.68px;font-size:19px">-</span><div class="h" style="left:17.24px;top:276.5px;line-height:27.68px;font-size:19px;transform:scaleX(1.0166)">EXCAVATION &amp; EARTHWORK</div><div class="t" style="left:17.45px;top:304.18px;line-height:27.68px;font-size:19px;letter-spacing:0.340px">Cut &amp; Fill</div><span class="m" style="left:1243.4px;top:304.18px;width:20px;line-height:27.68px;font-size:19px">$</span><span class="m" style="left:1337.7px;top:304.18px;width:20px;line-height:27.68px;font-size:19px">-</span><span class="m" style="left:1527.8px;top:304.18px;width:20px;line-height:27.68px;font-size:19px">$</span><span class="m" style="left:1617.6px;top:304.18px;width:20px;line-height:27.68px;font-size:19px">-</span><div class="t" style="left:16.88px;top:331.86px;line-height:27.68px;font-size:19px;letter-spacing:0.670px">Blasting</div><span class="m" style="left:1243.4px;top:331.86px;width:20px;line-height:27.68px;font-size:19px">$</span><span class="m" style="left:1337.7px;top:331.86px;width:20px;line-height:27.68px;font-size:19px">-</span><span class="m" style="left:1527.8px;top:331.86px;width:20px;line-height:27.68px;font-size:19px">$</span><span class="m" style="left:1617.6px;top:331.86px;width:20px;line-height:27.68px;font-size:19px">-</span><div class="t" style="left:16.88px;top:359.54px;line-height:21.5px;font-size:19px;letter-spacing:0.893px">Removal of Stumps, Rocks, Debris</div><span class="m" style="left:1243.4px;top:359.54px;width:20px;line-height:21.5px;font-size:19px">$</span><span class="m" style="left:1337.7px;top:359.54px;width:20px;line-height:21.5px;font-size:19px">-</span><span class="m" style="left:1527.8px;top:359.54px;width:20px;line-height:21.5px;font-size:19px">$</span><span class="m" style="left:1617.6px;top:359.54px;width:20px;line-height:21.5px;font-size:19px">-</span><div class="t" style="left:16.88px;top:381.04px;line-height:27.68px;font-size:19px;letter-spacing:0.621px">Rough Grading</div><span class="m" style="left:1243.4px;top:381.04px;width:20px;line-height:27.68px;font-size:19px">$</span><span class="m" style="left:1337.7px;top:381.04px;width:20px;line-height:27.68px;font-size:19px">-</span><span class="m" style="left:1527.8px;top:381.04px;width:20px;line-height:27.68px;font-size:19px">$</span><span class="m" style="left:1617.6px;top:381.04px;width:20px;line-height:27.68px;font-size:19px">-</span><div class="t" style="left:18.02px;top:407.72px;line-height:24.3px;font-size:19px;letter-spacing:0.520px">Trenching for Utility Hookups</div><span class="m" style="left:1243.4px;top:408.72px;width:20px;line-height:24.3px;font-size:19px">$</span><span class="m" style="left:1337.7px;top:408.72px;width:20px;line-height:24.3px;font-size:19px">-</span><span class="m" style="left:1527.8px;top:408.72px;width:20px;line-height:24.3px;font-size:19px">$</span><span class="m" style="left:1617.6px;top:408.72px;width:20px;line-height:24.3px;font-size:19px">-</span><div class="t" style="left:16.88px;top:433.02px;line-height:27.68px;font-size:19px;letter-spacing:1.050px">Foundation Excavation</div><span class="m" style="left:1243.4px;top:433.02px;width:20px;line-height:27.68px;font-size:19px">$</span><span class="m" style="left:1337.7px;top:433.02px;width:20px;line-height:27.68px;font-size:19px">-</span><span class="m" style="left:1527.8px;top:433.02px;width:20px;line-height:27.68px;font-size:19px">$</span><span class="m" style="left:1617.6px;top:433.02px;width:20px;line-height:27.68px;font-size:19px">-</span><div class="t" style="left:16.88px;top:460.7px;line-height:27.68px;font-size:19px;letter-spacing:1.050px">Foundation Footing Drains</div><span class="m" style="left:1243.4px;top:460.7px;width:20px;line-height:27.68px;font-size:19px">$</span><span class="m" style="left:1337.7px;top:460.7px;width:20px;line-height:27.68px;font-size:19px">-</span><span class="m" style="left:1527.8px;top:460.7px;width:20px;line-height:27.68px;font-size:19px">$</span><span class="m" style="left:1617.6px;top:460.7px;width:20px;line-height:27.68px;font-size:19px">-</span><div class="t" style="left:17.45px;top:488.38px;line-height:27.68px;font-size:19px;letter-spacing:0.750px">Curtain Drains</div><span class="m" style="left:1243.4px;top:488.38px;width:20px;line-height:27.68px;font-size:19px">$</span><span class="m" style="left:1337.7px;top:488.38px;width:20px;line-height:27.68px;font-size:19px">-</span><span class="m" style="left:1527.8px;top:488.38px;width:20px;line-height:27.68px;font-size:19px">$</span><span class="m" style="left:1617.6px;top:488.38px;width:20px;line-height:27.68px;font-size:19px">-</span><div class="t" style="left:17.45px;top:516.06px;line-height:27.68px;font-size:19px;letter-spacing:0.977px">Culverts</div><span class="m" style="left:1243.4px;top:516.06px;width:20px;line-height:27.68px;font-size:19px">$</span><span class="m" style="left:1337.7px;top:516.06px;width:20px;line-height:27.68px;font-size:19px">-</span><span class="m" style="left:1527.8px;top:516.06px;width:20px;line-height:27.68px;font-size:19px">$</span><span class="m" style="left:1617.6px;top:516.06px;width:20px;line-height:27.68px;font-size:19px">-</span><div class="t" style="left:17.64px;top:543.74px;line-height:27.68px;font-size:19px;letter-spacing:0.536px">Swales</div><span class="m" style="left:1243.4px;top:543.74px;width:20px;line-height:27.68px;font-size:19px">$</span><span class="m" style="left:1337.7px;top:543.74px;width:20px;line-height:27.68px;font-size:19px">-</span><span class="m" style="left:1527.8px;top:543.74px;width:20px;line-height:27.68px;font-size:19px">$</span><span class="m" style="left:1617.6px;top:543.74px;width:20px;line-height:27.68px;font-size:19px">-</span><div class="t" style="left:16.88px;top:571.42px;line-height:27.68px;font-size:19px;letter-spacing:0.716px">Retaining Walls</div><span class="m" style="left:1243.4px;top:571.42px;width:20px;line-height:27.68px;font-size:19px">$</span><span class="m" style="left:1337.7px;top:571.42px;width:20px;line-height:27.68px;font-size:19px">-</span><span class="m" style="left:1527.8px;top:571.42px;width:20px;line-height:27.68px;font-size:19px">$</span><span class="m" style="left:1617.6px;top:571.42px;width:20px;line-height:27.68px;font-size:19px">-</span><div class="t" style="left:16.88px;top:599.1px;line-height:27.68px;font-size:19px;letter-spacing:0.404px">Ponds</div><span class="m" style="left:1243.4px;top:599.1px;width:20px;line-height:27.68px;font-size:19px">$</span><span class="m" style="left:1337.7px;top:599.1px;width:20px;line-height:27.68px;font-size:19px">-</span><span class="m" style="left:1527.8px;top:599.1px;width:20px;line-height:27.68px;font-size:19px">$</span><span class="m" style="left:1617.6px;top:599.1px;width:20px;line-height:27.68px;font-size:19px">-</span><div class="t" style="left:17.64px;top:626.78px;line-height:27.68px;font-size:19px;letter-spacing:0.735px">Other Site Drainage</div><span class="m" style="left:1243.4px;top:626.78px;width:20px;line-height:27.68px;font-size:19px">$</span><span class="m" style="left:1337.7px;top:626.78px;width:20px;line-height:27.68px;font-size:19px">-</span><span class="m" style="left:1527.8px;top:626.78px;width:20px;line-height:27.68px;font-size:19px">$</span><span class="m" style="left:1617.6px;top:626.78px;width:20px;line-height:27.68px;font-size:19px">-</span><div class="t" style="left:16.88px;top:654.46px;line-height:27.68px;font-size:19px;letter-spacing:0.931px">Backfill</div><span class="m" style="left:1243.4px;top:654.46px;width:20px;line-height:27.68px;font-size:19px">$</span><span class="m" style="left:1337.7px;top:654.46px;width:20px;line-height:27.68px;font-size:19px">-</span><span class="m" style="left:1527.8px;top:654.46px;width:20px;line-height:27.68px;font-size:19px">$</span><span class="m" style="left:1617.6px;top:654.46px;width:20px;line-height:27.68px;font-size:19px">-</span><div class="t" style="left:17.45px;top:682.14px;line-height:27.68px;font-size:19px;letter-spacing:1.568px">Compaction</div><span class="m" style="left:1243.4px;top:682.14px;width:20px;line-height:27.68px;font-size:19px">$</span><span class="m" style="left:1337.7px;top:682.14px;width:20px;line-height:27.68px;font-size:19px">-</span><span class="m" style="left:1527.8px;top:682.14px;width:20px;line-height:27.68px;font-size:19px">$</span><span class="m" style="left:1617.6px;top:682.14px;width:20px;line-height:27.68px;font-size:19px">-</span><div class="t" style="left:18.02px;top:709.82px;line-height:27.68px;font-size:19px;letter-spacing:0.352px">Top Soil</div><span class="m" style="left:1243.4px;top:709.82px;width:20px;line-height:27.68px;font-size:19px">$</span><span class="m" style="left:1337.7px;top:709.82px;width:20px;line-height:27.68px;font-size:19px">-</span><span class="m" style="left:1527.8px;top:709.82px;width:20px;line-height:27.68px;font-size:19px">$</span><span class="m" style="left:1617.6px;top:709.82px;width:20px;line-height:27.68px;font-size:19px">-</span><div class="t" style="left:16.88px;top:737.5px;line-height:27.68px;font-size:19px;letter-spacing:0.227px">Finish Grading</div><span class="m" style="left:1243.4px;top:737.5px;width:20px;line-height:27.68px;font-size:19px">$</span><span class="m" style="left:1337.7px;top:737.5px;width:20px;line-height:27.68px;font-size:19px">-</span><span class="m" style="left:1527.8px;top:737.5px;width:20px;line-height:27.68px;font-size:19px">$</span><span class="m" style="left:1617.6px;top:737.5px;width:20px;line-height:27.68px;font-size:19px">-</span><div class="t" style="left:17.64px;top:765.18px;line-height:27.68px;font-size:19px;letter-spacing:0.952px">Seeding/Sod</div><span class="m" style="left:1243.4px;top:765.18px;width:20px;line-height:27.68px;font-size:19px">$</span><span class="m" style="left:1337.7px;top:765.18px;width:20px;line-height:27.68px;font-size:19px">-</span><span class="m" style="left:1527.8px;top:765.18px;width:20px;line-height:27.68px;font-size:19px">$</span><span class="m" style="left:1617.6px;top:765.18px;width:20px;line-height:27.68px;font-size:19px">-</span><div class="t" style="left:17.64px;top:792.86px;line-height:27.68px;font-size:19px;letter-spacing:1.347px">Other</div><span class="m" style="left:1243.4px;top:792.86px;width:20px;line-height:27.68px;font-size:19px">$</span><span class="m" style="left:1337.7px;top:792.86px;width:20px;line-height:27.68px;font-size:19px">-</span><span class="m" style="left:1527.8px;top:792.86px;width:20px;line-height:27.68px;font-size:19px">$</span><span class="m" style="left:1617.6px;top:792.86px;width:20px;line-height:27.68px;font-size:19px">-</span><span class="m" style="left:1243.4px;top:820.84px;width:20px;line-height:27.68px;font-size:19px">$</span><span class="m" style="left:1338.2px;top:820.84px;width:20px;line-height:27.68px;font-size:19px">-</span><span class="m" style="left:1389.9px;top:820.84px;width:20px;line-height:27.68px;font-size:19px">$</span><span class="m" style="left:1476.7px;top:820.84px;width:20px;line-height:27.68px;font-size:19px">-</span><div class="h" style="left:17.29px;top:848.22px;line-height:27.68px;font-size:19px;transform:scaleX(0.9717)">FOUNDATION</div><div class="t" style="left:16.88px;top:875.9px;line-height:27.68px;font-size:19px;letter-spacing:0.616px">Footings/Pads</div><span class="m" style="left:1243.4px;top:875.9px;width:20px;line-height:27.68px;font-size:19px">$</span><span class="m" style="left:1337.7px;top:875.9px;width:20px;line-height:27.68px;font-size:19px">-</span><span class="m" style="left:1527.8px;top:875.9px;width:20px;line-height:27.68px;font-size:19px">$</span><span class="m" style="left:1617.6px;top:875.9px;width:20px;line-height:27.68px;font-size:19px">-</span><div class="t" style="left:16.88px;top:903.58px;line-height:27.68px;font-size:19px;letter-spacing:1.050px">Foundation Walls/Stem Walls/Grade Beams</div><span class="m" style="left:1243.4px;top:903.58px;width:20px;line-height:27.68px;font-size:19px">$</span><span class="m" style="left:1337.7px;top:903.58px;width:20px;line-height:27.68px;font-size:19px">-</span><span class="m" style="left:1527.8px;top:903.58px;width:20px;line-height:27.68px;font-size:19px">$</span><span class="m" style="left:1617.6px;top:903.58px;width:20px;line-height:27.68px;font-size:19px">-</span><div class="t" style="left:16.88px;top:931.26px;line-height:27.68px;font-size:19px;letter-spacing:-0.250px">Piers</div><span class="m" style="left:1243.4px;top:931.26px;width:20px;line-height:27.68px;font-size:19px">$</span><span class="m" style="left:1337.7px;top:931.26px;width:20px;line-height:27.68px;font-size:19px">-</span><span class="m" style="left:1527.8px;top:931.26px;width:20px;line-height:27.68px;font-size:19px">$</span><span class="m" style="left:1617.6px;top:931.26px;width:20px;line-height:27.68px;font-size:19px">-</span><div class="t" style="left:17.64px;top:958.94px;line-height:27.68px;font-size:19px;letter-spacing:-0.123px">Slabs - Foundation, Basement, Garage</div><span class="m" style="left:1243.4px;top:958.94px;width:20px;line-height:27.68px;font-size:19px">$</span><span class="m" style="left:1337.7px;top:958.94px;width:20px;line-height:27.68px;font-size:19px">-</span><span class="m" style="left:1527.8px;top:958.94px;width:20px;line-height:27.68px;font-size:19px">$</span><span class="m" style="left:1617.6px;top:958.94px;width:20px;line-height:27.68px;font-size:19px">-</span><div class="t" style="left:17.64px;top:986.62px;line-height:27.68px;font-size:19px;letter-spacing:0.612px">Steel Reinforcing</div><span class="m" style="left:1243.4px;top:986.62px;width:20px;line-height:27.68px;font-size:19px">$</span><span class="m" style="left:1337.7px;top:986.62px;width:20px;line-height:27.68px;font-size:19px">-</span><span class="m" style="left:1527.8px;top:986.62px;width:20px;line-height:27.68px;font-size:19px">$</span><span class="m" style="left:1617.6px;top:986.62px;width:20px;line-height:27.68px;font-size:19px">-</span><div class="t" style="left:18.4px;top:1014.3px;line-height:27.68px;font-size:19px;letter-spacing:0.481px">Anchor Bolts, Hold Downs</div><span class="m" style="left:1243.4px;top:1014.3px;width:20px;line-height:27.68px;font-size:19px">$</span><span class="m" style="left:1337.7px;top:1014.3px;width:20px;line-height:27.68px;font-size:19px">-</span><span class="m" style="left:1527.8px;top:1014.3px;width:20px;line-height:27.68px;font-size:19px">$</span><span class="m" style="left:1617.6px;top:1014.3px;width:20px;line-height:27.68px;font-size:19px">-</span><div class="t" style="left:16.88px;top:1041.98px;line-height:27.68px;font-size:19px;letter-spacing:0.333px">Bulkheads</div><span class="m" style="left:1243.4px;top:1041.98px;width:20px;line-height:27.68px;font-size:19px">$</span><span class="m" style="left:1337.7px;top:1041.98px;width:20px;line-height:27.68px;font-size:19px">-</span><span class="m" style="left:1527.8px;top:1041.98px;width:20px;line-height:27.68px;font-size:19px">$</span><span class="m" style="left:1617.6px;top:1041.98px;width:20px;line-height:27.68px;font-size:19px">-</span><div class="t" style="left:17.64px;top:1069.66px;line-height:27.68px;font-size:19px;letter-spacing:0.437px">Sub-Slab Vapor Barrier</div><span class="m" style="left:1243.4px;top:1069.66px;width:20px;line-height:27.68px;font-size:19px">$</span><span class="m" style="left:1337.7px;top:1069.66px;width:20px;line-height:27.68px;font-size:19px">-</span><span class="m" style="left:1527.8px;top:1069.66px;width:20px;line-height:27.68px;font-size:19px">$</span><span class="m" style="left:1617.6px;top:1069.66px;width:20px;line-height:27.68px;font-size:19px">-</span><div class="t" style="left:17.64px;top:1097.34px;line-height:27.68px;font-size:19px;letter-spacing:0.138px">Sump Pump</div><span class="m" style="left:1243.4px;top:1097.34px;width:20px;line-height:27.68px;font-size:19px">$</span><span class="m" style="left:1337.7px;top:1097.34px;width:20px;line-height:27.68px;font-size:19px">-</span><span class="m" style="left:1527.8px;top:1097.34px;width:20px;line-height:27.68px;font-size:19px">$</span><span class="m" style="left:1617.6px;top:1097.34px;width:20px;line-height:27.68px;font-size:19px">-</span><div class="t" style="left:17.45px;top:1125.02px;line-height:27.68px;font-size:19px;letter-spacing:1.188px">Crawlspace Vapor Barrier</div><span class="m" style="left:1243.4px;top:1125.02px;width:20px;line-height:27.68px;font-size:19px">$</span><span class="m" style="left:1337.7px;top:1125.02px;width:20px;line-height:27.68px;font-size:19px">-</span><span class="m" style="left:1527.8px;top:1125.02px;width:20px;line-height:27.68px;font-size:19px">$</span><span class="m" style="left:1617.6px;top:1125.02px;width:20px;line-height:27.68px;font-size:19px">-</span><div class="t" style="left:17.45px;top:1152.7px;line-height:27.68px;font-size:19px;letter-spacing:1.188px">Crawlspace Vents</div><span class="m" style="left:1243.4px;top:1152.7px;width:20px;line-height:27.68px;font-size:19px">$</span><span class="m" style="left:1337.7px;top:1152.7px;width:20px;line-height:27.68px;font-size:19px">-</span><span class="m" style="left:1527.8px;top:1152.7px;width:20px;line-height:27.68px;font-size:19px">$</span><span class="m" style="left:1617.6px;top:1152.7px;width:20px;line-height:27.68px;font-size:19px">-</span><div class="t" style="left:16.88px;top:1180.38px;line-height:27.68px;font-size:19px;letter-spacing:1.050px">Foundation Windows</div><span class="m" style="left:1243.4px;top:1180.38px;width:20px;line-height:27.68px;font-size:19px">$</span><span class="m" style="left:1337.7px;top:1180.38px;width:20px;line-height:27.68px;font-size:19px">-</span><span class="m" style="left:1527.8px;top:1180.38px;width:20px;line-height:27.68px;font-size:19px">$</span><span class="m" style="left:1617.6px;top:1180.38px;width:20px;line-height:27.68px;font-size:19px">-</span><div class="t" style="left:16.88px;top:1208.06px;line-height:27.68px;font-size:19px;letter-spacing:1.209px">Damproofing, Waterproofing</div><span class="m" style="left:1243.4px;top:1208.06px;width:20px;line-height:27.68px;font-size:19px">$</span><span class="m" style="left:1337.7px;top:1208.06px;width:20px;line-height:27.68px;font-size:19px">-</span><span class="m" style="left:1527.8px;top:1208.06px;width:20px;line-height:27.68px;font-size:19px">$</span><span class="m" style="left:1617.6px;top:1208.06px;width:20px;line-height:27.68px;font-size:19px">-</span><div class="t" style="left:16.88px;top:1235.74px;line-height:27.68px;font-size:19px;letter-spacing:1.050px">Foundation Drain Board</div><span class="m" style="left:1243.4px;top:1235.74px;width:20px;line-height:27.68px;font-size:19px">$</span><span class="m" style="left:1337.7px;top:1235.74px;width:20px;line-height:27.68px;font-size:19px">-</span><span class="m" style="left:1527.8px;top:1235.74px;width:20px;line-height:27.68px;font-size:19px">$</span><span class="m" style="left:1617.6px;top:1235.74px;width:20px;line-height:27.68px;font-size:19px">-</span><div class="t" style="left:17.64px;top:1263.42px;line-height:27.68px;font-size:19px;letter-spacing:0.402px">Slab insulation: Edge/Below</div><span class="m" style="left:1243.4px;top:1263.42px;width:20px;line-height:27.68px;font-size:19px">$</span><span class="m" style="left:1337.7px;top:1263.42px;width:20px;line-height:27.68px;font-size:19px">-</span><span class="m" style="left:1527.8px;top:1263.42px;width:20px;line-height:27.68px;font-size:19px">$</span><span class="m" style="left:1617.6px;top:1263.42px;width:20px;line-height:27.68px;font-size:19px">-</span><div class="t" style="left:16.88px;top:1291.1px;line-height:27.68px;font-size:19px;letter-spacing:0.474px">Exterior Foundation Insulation</div><span class="m" style="left:1243.4px;top:1291.1px;width:20px;line-height:27.68px;font-size:19px">$</span><span class="m" style="left:1337.7px;top:1291.1px;width:20px;line-height:27.68px;font-size:19px">-</span><span class="m" style="left:1527.8px;top:1291.1px;width:20px;line-height:27.68px;font-size:19px">$</span><span class="m" style="left:1617.6px;top:1291.1px;width:20px;line-height:27.68px;font-size:19px">-</span><div class="t" style="left:16.88px;top:1318.78px;line-height:27.68px;font-size:19px;letter-spacing:0.483px">Exterior Insulation Coating/ Protection</div><span class="m" style="left:1243.4px;top:1318.78px;width:20px;line-height:27.68px;font-size:19px">$</span><span class="m" style="left:1337.7px;top:1318.78px;width:20px;line-height:27.68px;font-size:19px">-</span><span class="m" style="left:1527.8px;top:1318.78px;width:20px;line-height:27.68px;font-size:19px">$</span><span class="m" style="left:1617.6px;top:1318.78px;width:20px;line-height:27.68px;font-size:19px">-</span><div class="t" style="left:17.64px;top:1346.46px;line-height:27.68px;font-size:19px;letter-spacing:1.347px">Other</div><span class="m" style="left:1243.4px;top:1346.46px;width:20px;line-height:27.68px;font-size:19px">$</span><span class="m" style="left:1337.7px;top:1346.46px;width:20px;line-height:27.68px;font-size:19px">-</span><span class="m" style="left:1527.8px;top:1346.46px;width:20px;line-height:27.68px;font-size:19px">$</span><span class="m" style="left:1617.6px;top:1346.46px;width:20px;line-height:27.68px;font-size:19px">-</span><span class="m" style="left:1243.4px;top:1374.44px;width:20px;line-height:27.68px;font-size:19px">$</span><span class="m" style="left:1338.2px;top:1374.44px;width:20px;line-height:27.68px;font-size:19px">-</span><span class="m" style="left:1389.9px;top:1374.44px;width:20px;line-height:27.68px;font-size:19px">$</span><span class="m" style="left:1476.7px;top:1374.44px;width:20px;line-height:27.68px;font-size:19px">-</span><div class="sh" style="left:97.5px;top:175.2px;width:1685.5px;height:1106.3px;opacity:0.51"></div><div class="sh" style="left:262px;top:348.3px;width:1686px;height:1115.1px;opacity:0.51"></div><div class="sh" style="left:403.7px;top:495.7px;width:1686.3px;height:1297.3px;opacity:0.51"></div><div class="sh" style="left:584.5px;top:754.2px;width:1692.5px;height:988.8px;opacity:0.51"></div></div><div class="sheet" style="left:373px;top:423.2px;width:1683px;height:1105.3px"><div class="panel" style="left:13.8px;top:0px;width:1649px;height:1105.3px"></div><svg class="g" width="1723" height="1145.3" viewBox="0 0 1723 1145.3"><rect x="668.7" y="21.98" width="215.84" height="193.76" fill="#fff2cc"/><rect x="884.54" y="21.98" width="215.44" height="193.76" fill="#ebecf0"/><rect x="1099.99" y="21.98" width="137.7" height="193.76" fill="#f2f3f4"/><rect x="1237.69" y="21.98" width="285.39" height="193.76" fill="#ffffff"/><rect x="1236.89" y="216.54" width="285.39" height="27.08" fill="#d6dae3"/><line class="d" x1="668.7" y1="21.98" x2="1523.08" y2="21.98"/><line class="d" x1="668.7" y1="49.66" x2="1523.08" y2="49.66"/><line class="d" x1="668.7" y1="77.34" x2="1523.08" y2="77.34"/><line class="d" x1="668.7" y1="105.02" x2="1523.08" y2="105.02"/><line class="d" x1="668.7" y1="132.7" x2="1523.08" y2="132.7"/><line class="d" x1="668.7" y1="160.38" x2="1523.08" y2="160.38"/><line class="d" x1="668.7" y1="188.06" x2="1523.08" y2="188.06"/><line class="d" x1="668.7" y1="215.74" x2="1523.08" y2="215.74"/><line class="d" x1="668.7" y1="21.98" x2="668.7" y2="215.74"/><line class="d" x1="776.62" y1="21.98" x2="776.62" y2="215.74"/><line class="d" x1="884.54" y1="21.98" x2="884.54" y2="215.74"/><line class="d" x1="992.47" y1="21.98" x2="992.47" y2="215.74"/><line class="d" x1="1099.99" y1="21.98" x2="1099.99" y2="215.74"/><line class="sl" x1="1237.69" y1="21.98" x2="1237.69" y2="215.74"/><line class="d" x1="1383.78" y1="21.98" x2="1383.78" y2="215.74"/><line class="d" x1="1523.08" y1="21.98" x2="1523.08" y2="215.74"/><rect x="668.7" y="271.1" width="215.84" height="332.16" fill="#fff2cc"/><rect x="884.54" y="271.1" width="215.44" height="332.16" fill="#ebecf0"/><rect x="1099.99" y="271.1" width="137.7" height="332.16" fill="#f2f3f4"/><rect x="1237.69" y="271.1" width="285.39" height="332.16" fill="#ffffff"/><rect x="1236.89" y="604.06" width="285.39" height="27.08" fill="#d6dae3"/><line class="d" x1="668.7" y1="271.1" x2="1523.08" y2="271.1"/><line class="d" x1="668.7" y1="298.78" x2="1523.08" y2="298.78"/><line class="d" x1="668.7" y1="326.46" x2="1523.08" y2="326.46"/><line class="d" x1="668.7" y1="354.14" x2="1523.08" y2="354.14"/><line class="d" x1="668.7" y1="381.82" x2="1523.08" y2="381.82"/><line class="d" x1="668.7" y1="409.5" x2="1523.08" y2="409.5"/><line class="d" x1="668.7" y1="437.18" x2="1523.08" y2="437.18"/><line class="d" x1="668.7" y1="464.86" x2="1523.08" y2="464.86"/><line class="d" x1="668.7" y1="492.54" x2="1523.08" y2="492.54"/><line class="d" x1="668.7" y1="520.22" x2="1523.08" y2="520.22"/><line class="d" x1="668.7" y1="547.9" x2="1523.08" y2="547.9"/><line class="d" x1="668.7" y1="575.58" x2="1523.08" y2="575.58"/><line class="d" x1="668.7" y1="603.26" x2="1523.08" y2="603.26"/><line class="d" x1="668.7" y1="271.1" x2="668.7" y2="603.26"/><line class="d" x1="776.62" y1="271.1" x2="776.62" y2="603.26"/><line class="d" x1="884.54" y1="271.1" x2="884.54" y2="603.26"/><line class="d" x1="992.47" y1="271.1" x2="992.47" y2="603.26"/><line class="d" x1="1099.99" y1="271.1" x2="1099.99" y2="603.26"/><line class="sl" x1="1237.69" y1="271.1" x2="1237.69" y2="603.26"/><line class="d" x1="1383.78" y1="271.1" x2="1383.78" y2="603.26"/><line class="d" x1="1523.08" y1="271.1" x2="1523.08" y2="603.26"/><rect x="668.7" y="658.62" width="215.84" height="415.2" fill="#fff2cc"/><rect x="884.54" y="658.62" width="215.44" height="415.2" fill="#ebecf0"/><rect x="1099.99" y="658.62" width="137.7" height="415.2" fill="#f2f3f4"/><rect x="1237.69" y="658.62" width="285.39" height="415.2" fill="#ffffff"/><rect x="1236.89" y="1074.62" width="285.39" height="27.08" fill="#d6dae3"/><line class="d" x1="668.7" y1="658.62" x2="1523.08" y2="658.62"/><line class="d" x1="668.7" y1="686.3" x2="1523.08" y2="686.3"/><line class="d" x1="668.7" y1="713.98" x2="1523.08" y2="713.98"/><line class="d" x1="668.7" y1="741.66" x2="1523.08" y2="741.66"/><line class="d" x1="668.7" y1="769.34" x2="1523.08" y2="769.34"/><line class="d" x1="668.7" y1="797.02" x2="1523.08" y2="797.02"/><line class="d" x1="668.7" y1="824.7" x2="1523.08" y2="824.7"/><line class="d" x1="668.7" y1="852.38" x2="1523.08" y2="852.38"/><line class="d" x1="668.7" y1="880.06" x2="1523.08" y2="880.06"/><line class="d" x1="668.7" y1="907.74" x2="1523.08" y2="907.74"/><line class="d" x1="668.7" y1="935.42" x2="1523.08" y2="935.42"/><line class="d" x1="668.7" y1="963.1" x2="1523.08" y2="963.1"/><line class="d" x1="668.7" y1="990.78" x2="1523.08" y2="990.78"/><line class="d" x1="668.7" y1="1018.46" x2="1523.08" y2="1018.46"/><line class="d" x1="668.7" y1="1046.14" x2="1523.08" y2="1046.14"/><line class="d" x1="668.7" y1="1073.82" x2="1523.08" y2="1073.82"/><line class="d" x1="668.7" y1="658.62" x2="668.7" y2="1073.82"/><line class="d" x1="776.62" y1="658.62" x2="776.62" y2="1073.82"/><line class="d" x1="884.54" y1="658.62" x2="884.54" y2="1073.82"/><line class="d" x1="992.47" y1="658.62" x2="992.47" y2="1073.82"/><line class="d" x1="1099.99" y1="658.62" x2="1099.99" y2="1073.82"/><line class="sl" x1="1237.69" y1="658.62" x2="1237.69" y2="1073.82"/><line class="d" x1="1383.78" y1="658.62" x2="1383.78" y2="1073.82"/><line class="d" x1="1523.08" y1="658.62" x2="1523.08" y2="1073.82"/></svg><div class="h" style="left:18.44px;top:-5.1px;line-height:27.68px;font-size:18.99px;transform:scaleX(0.9650)">OTHER MASONRY/PAVING</div><div class="t" style="left:17.65px;top:22.58px;line-height:27.68px;font-size:18.99px;letter-spacing:0.824px">Patios</div><span class="m" style="left:1244.88px;top:22.58px;width:20px;line-height:27.68px;font-size:18.99px">$</span><span class="m" style="left:1339.11px;top:22.58px;width:20px;line-height:27.68px;font-size:18.99px">-</span><span class="m" style="left:1529.07px;top:22.58px;width:20px;line-height:27.68px;font-size:18.99px">$</span><span class="m" style="left:1618.81px;top:22.58px;width:20px;line-height:27.68px;font-size:18.99px">-</span><div class="t" style="left:17.65px;top:50.26px;line-height:27.68px;font-size:18.99px;letter-spacing:0.276px">Exterior Stairs</div><span class="m" style="left:1244.88px;top:50.26px;width:20px;line-height:27.68px;font-size:18.99px">$</span><span class="m" style="left:1339.11px;top:50.26px;width:20px;line-height:27.68px;font-size:18.99px">-</span><span class="m" style="left:1529.07px;top:50.26px;width:20px;line-height:27.68px;font-size:18.99px">$</span><span class="m" style="left:1618.81px;top:50.26px;width:20px;line-height:27.68px;font-size:18.99px">-</span><div class="t" style="left:17.65px;top:77.94px;line-height:27.68px;font-size:18.99px;letter-spacing:0.333px">Masonry Chimneys</div><span class="m" style="left:1244.88px;top:77.94px;width:20px;line-height:27.68px;font-size:18.99px">$</span><span class="m" style="left:1339.11px;top:77.94px;width:20px;line-height:27.68px;font-size:18.99px">-</span><span class="m" style="left:1529.07px;top:77.94px;width:20px;line-height:27.68px;font-size:18.99px">$</span><span class="m" style="left:1618.81px;top:77.94px;width:20px;line-height:27.68px;font-size:18.99px">-</span><div class="t" style="left:17.65px;top:105.62px;line-height:27.68px;font-size:18.99px;letter-spacing:0.744px">Fireplaces/Hearths</div><span class="m" style="left:1244.88px;top:105.62px;width:20px;line-height:27.68px;font-size:18.99px">$</span><span class="m" style="left:1339.11px;top:105.62px;width:20px;line-height:27.68px;font-size:18.99px">-</span><span class="m" style="left:1529.07px;top:105.62px;width:20px;line-height:27.68px;font-size:18.99px">$</span><span class="m" style="left:1618.81px;top:105.62px;width:20px;line-height:27.68px;font-size:18.99px">-</span><div class="t" style="left:17.65px;top:133.3px;line-height:27.68px;font-size:18.99px;letter-spacing:1.264px">Driveway</div><span class="m" style="left:1244.88px;top:133.3px;width:20px;line-height:27.68px;font-size:18.99px">$</span><span class="m" style="left:1339.11px;top:133.3px;width:20px;line-height:27.68px;font-size:18.99px">-</span><span class="m" style="left:1529.07px;top:133.3px;width:20px;line-height:27.68px;font-size:18.99px">$</span><span class="m" style="left:1618.81px;top:133.3px;width:20px;line-height:27.68px;font-size:18.99px">-</span><div class="t" style="left:19.17px;top:160.98px;line-height:27.68px;font-size:18.99px;letter-spacing:0.804px">Walkways</div><span class="m" style="left:1244.88px;top:160.98px;width:20px;line-height:27.68px;font-size:18.99px">$</span><span class="m" style="left:1339.11px;top:160.98px;width:20px;line-height:27.68px;font-size:18.99px">-</span><span class="m" style="left:1529.07px;top:160.98px;width:20px;line-height:27.68px;font-size:18.99px">$</span><span class="m" style="left:1618.81px;top:160.98px;width:20px;line-height:27.68px;font-size:18.99px">-</span><div class="t" style="left:18.41px;top:188.66px;line-height:27.68px;font-size:18.99px;letter-spacing:1.356px">Other</div><span class="m" style="left:1244.88px;top:188.66px;width:20px;line-height:27.68px;font-size:18.99px">$</span><span class="m" style="left:1339.11px;top:188.66px;width:20px;line-height:27.68px;font-size:18.99px">-</span><span class="m" style="left:1529.07px;top:188.66px;width:20px;line-height:27.68px;font-size:18.99px">$</span><span class="m" style="left:1618.81px;top:188.66px;width:20px;line-height:27.68px;font-size:18.99px">-</span><span class="m" style="left:1244.88px;top:216.64px;width:20px;line-height:27.68px;font-size:18.99px">$</span><span class="m" style="left:1339.61px;top:216.64px;width:20px;line-height:27.68px;font-size:18.99px">-</span><span class="m" style="left:1391.27px;top:216.64px;width:20px;line-height:27.68px;font-size:18.99px">$</span><span class="m" style="left:1478.01px;top:216.64px;width:20px;line-height:27.68px;font-size:18.99px">-</span><div class="h" style="left:18.1px;top:244.02px;line-height:27.68px;font-size:18.99px;transform:scaleX(0.9361)">ROUGH FRAMING</div><div class="t" style="left:18.41px;top:271.7px;line-height:27.68px;font-size:18.99px;letter-spacing:0.231px">Sill &amp; Seal</div><span class="m" style="left:1244.88px;top:271.7px;width:20px;line-height:27.68px;font-size:18.99px">$</span><span class="m" style="left:1339.11px;top:271.7px;width:20px;line-height:27.68px;font-size:18.99px">-</span><span class="m" style="left:1529.07px;top:271.7px;width:20px;line-height:27.68px;font-size:18.99px">$</span><span class="m" style="left:1618.81px;top:271.7px;width:20px;line-height:27.68px;font-size:18.99px">-</span><div class="t" style="left:18.41px;top:299.38px;line-height:27.68px;font-size:18.99px;letter-spacing:1.307px">Steel/Wood Carrying Beam, Lally Columns</div><span class="m" style="left:1244.88px;top:299.38px;width:20px;line-height:27.68px;font-size:18.99px">$</span><span class="m" style="left:1339.11px;top:299.38px;width:20px;line-height:27.68px;font-size:18.99px">-</span><span class="m" style="left:1529.07px;top:299.38px;width:20px;line-height:27.68px;font-size:18.99px">$</span><span class="m" style="left:1618.81px;top:299.38px;width:20px;line-height:27.68px;font-size:18.99px">-</span><div class="t" style="left:17.65px;top:327.06px;line-height:27.68px;font-size:18.99px;letter-spacing:0.402px">Floor Framing</div><span class="m" style="left:1244.88px;top:327.06px;width:20px;line-height:27.68px;font-size:18.99px">$</span><span class="m" style="left:1339.11px;top:327.06px;width:20px;line-height:27.68px;font-size:18.99px">-</span><span class="m" style="left:1529.07px;top:327.06px;width:20px;line-height:27.68px;font-size:18.99px">$</span><span class="m" style="left:1618.81px;top:327.06px;width:20px;line-height:27.68px;font-size:18.99px">-</span><div class="t" style="left:17.65px;top:354.74px;line-height:27.68px;font-size:18.99px;letter-spacing:0.469px">Exterior &amp; Interior Walls, Rough Stairs</div><span class="m" style="left:1244.88px;top:354.74px;width:20px;line-height:27.68px;font-size:18.99px">$</span><span class="m" style="left:1339.11px;top:354.74px;width:20px;line-height:27.68px;font-size:18.99px">-</span><span class="m" style="left:1529.07px;top:354.74px;width:20px;line-height:27.68px;font-size:18.99px">$</span><span class="m" style="left:1618.81px;top:354.74px;width:20px;line-height:27.68px;font-size:18.99px">-</span><div class="t" style="left:18.41px;top:382.42px;line-height:27.68px;font-size:18.99px;letter-spacing:0.541px">Sheathing, Subflooring</div><span class="m" style="left:1244.88px;top:382.42px;width:20px;line-height:27.68px;font-size:18.99px">$</span><span class="m" style="left:1339.11px;top:382.42px;width:20px;line-height:27.68px;font-size:18.99px">-</span><span class="m" style="left:1529.07px;top:382.42px;width:20px;line-height:27.68px;font-size:18.99px">$</span><span class="m" style="left:1618.81px;top:382.42px;width:20px;line-height:27.68px;font-size:18.99px">-</span><div class="t" style="left:17.65px;top:410.1px;line-height:27.68px;font-size:18.99px;letter-spacing:0.251px">Roof Framing/Trusses</div><span class="m" style="left:1244.88px;top:410.1px;width:20px;line-height:27.68px;font-size:18.99px">$</span><span class="m" style="left:1339.11px;top:410.1px;width:20px;line-height:27.68px;font-size:18.99px">-</span><span class="m" style="left:1529.07px;top:410.1px;width:20px;line-height:27.68px;font-size:18.99px">$</span><span class="m" style="left:1618.81px;top:410.1px;width:20px;line-height:27.68px;font-size:18.99px">-</span><div class="t" style="left:18.41px;top:437.78px;line-height:27.68px;font-size:18.99px;letter-spacing:0.701px">Subfascia</div><span class="m" style="left:1244.88px;top:437.78px;width:20px;line-height:27.68px;font-size:18.99px">$</span><span class="m" style="left:1339.11px;top:437.78px;width:20px;line-height:27.68px;font-size:18.99px">-</span><span class="m" style="left:1529.07px;top:437.78px;width:20px;line-height:27.68px;font-size:18.99px">$</span><span class="m" style="left:1618.81px;top:437.78px;width:20px;line-height:27.68px;font-size:18.99px">-</span><div class="t" style="left:18.41px;top:465.46px;line-height:27.68px;font-size:18.99px;letter-spacing:0.472px">Steel Framing Connectors</div><span class="m" style="left:1244.88px;top:465.46px;width:20px;line-height:27.68px;font-size:18.99px">$</span><span class="m" style="left:1339.11px;top:465.46px;width:20px;line-height:27.68px;font-size:18.99px">-</span><span class="m" style="left:1529.07px;top:465.46px;width:20px;line-height:27.68px;font-size:18.99px">$</span><span class="m" style="left:1618.81px;top:465.46px;width:20px;line-height:27.68px;font-size:18.99px">-</span><div class="t" style="left:17.65px;top:493.14px;line-height:27.68px;font-size:18.99px;letter-spacing:0.112px">Nails, Screws, Fasteners</div><span class="m" style="left:1244.88px;top:493.14px;width:20px;line-height:27.68px;font-size:18.99px">$</span><span class="m" style="left:1339.11px;top:493.14px;width:20px;line-height:27.68px;font-size:18.99px">-</span><span class="m" style="left:1529.07px;top:493.14px;width:20px;line-height:27.68px;font-size:18.99px">$</span><span class="m" style="left:1618.81px;top:493.14px;width:20px;line-height:27.68px;font-size:18.99px">-</span><div class="t" style="left:17.65px;top:520.82px;line-height:27.68px;font-size:18.99px;letter-spacing:0.526px">Prep for Plaster, Drywall</div><span class="m" style="left:1244.88px;top:520.82px;width:20px;line-height:27.68px;font-size:18.99px">$</span><span class="m" style="left:1339.11px;top:520.82px;width:20px;line-height:27.68px;font-size:18.99px">-</span><span class="m" style="left:1529.07px;top:520.82px;width:20px;line-height:27.68px;font-size:18.99px">$</span><span class="m" style="left:1618.81px;top:520.82px;width:20px;line-height:27.68px;font-size:18.99px">-</span><div class="t" style="left:17.65px;top:548.5px;line-height:27.68px;font-size:18.99px;letter-spacing:0.157px">Rough Framing - Labor Only</div><span class="m" style="left:1244.88px;top:548.5px;width:20px;line-height:27.68px;font-size:18.99px">$</span><span class="m" style="left:1339.11px;top:548.5px;width:20px;line-height:27.68px;font-size:18.99px">-</span><span class="m" style="left:1529.07px;top:548.5px;width:20px;line-height:27.68px;font-size:18.99px">$</span><span class="m" style="left:1618.81px;top:548.5px;width:20px;line-height:27.68px;font-size:18.99px">-</span><div class="t" style="left:18.41px;top:576.18px;line-height:27.68px;font-size:18.99px;letter-spacing:1.356px">Other</div><span class="m" style="left:1244.88px;top:576.18px;width:20px;line-height:27.68px;font-size:18.99px">$</span><span class="m" style="left:1339.11px;top:576.18px;width:20px;line-height:27.68px;font-size:18.99px">-</span><span class="m" style="left:1529.07px;top:576.18px;width:20px;line-height:27.68px;font-size:18.99px">$</span><span class="m" style="left:1618.81px;top:576.18px;width:20px;line-height:27.68px;font-size:18.99px">-</span><span class="m" style="left:1244.88px;top:604.16px;width:20px;line-height:27.68px;font-size:18.99px">$</span><span class="m" style="left:1339.61px;top:604.16px;width:20px;line-height:27.68px;font-size:18.99px">-</span><span class="m" style="left:1391.27px;top:604.16px;width:20px;line-height:27.68px;font-size:18.99px">$</span><span class="m" style="left:1478.01px;top:604.16px;width:20px;line-height:27.68px;font-size:18.99px">-</span><div class="h" style="left:18.18px;top:631.54px;line-height:27.68px;font-size:18.99px;transform:scaleX(0.8664)">EXTERIOR</div><div class="t" style="left:17.65px;top:659.22px;line-height:27.68px;font-size:18.99px;letter-spacing:0.190px">Exterior Foam Sheathing</div><span class="m" style="left:1244.88px;top:659.22px;width:20px;line-height:27.68px;font-size:18.99px">$</span><span class="m" style="left:1339.11px;top:659.22px;width:20px;line-height:27.68px;font-size:18.99px">-</span><span class="m" style="left:1529.07px;top:659.22px;width:20px;line-height:27.68px;font-size:18.99px">$</span><span class="m" style="left:1618.81px;top:659.22px;width:20px;line-height:27.68px;font-size:18.99px">-</span><div class="t" style="left:19.17px;top:686.9px;line-height:27.68px;font-size:18.99px;letter-spacing:0.809px">Weather Barrier (Tyvek, etc.)</div><span class="m" style="left:1244.88px;top:686.9px;width:20px;line-height:27.68px;font-size:18.99px">$</span><span class="m" style="left:1339.11px;top:686.9px;width:20px;line-height:27.68px;font-size:18.99px">-</span><span class="m" style="left:1529.07px;top:686.9px;width:20px;line-height:27.68px;font-size:18.99px">$</span><span class="m" style="left:1618.81px;top:686.9px;width:20px;line-height:27.68px;font-size:18.99px">-</span><div class="t" style="left:17.65px;top:714.58px;line-height:27.68px;font-size:18.99px;letter-spacing:0.648px">Membrane &amp; Flashing</div><span class="m" style="left:1244.88px;top:714.58px;width:20px;line-height:27.68px;font-size:18.99px">$</span><span class="m" style="left:1339.11px;top:714.58px;width:20px;line-height:27.68px;font-size:18.99px">-</span><span class="m" style="left:1529.07px;top:714.58px;width:20px;line-height:27.68px;font-size:18.99px">$</span><span class="m" style="left:1618.81px;top:714.58px;width:20px;line-height:27.68px;font-size:18.99px">-</span><div class="t" style="left:19.17px;top:742.26px;line-height:27.68px;font-size:18.99px;letter-spacing:0.342px">Vinyl or Composite Siding</div><span class="m" style="left:1244.88px;top:742.26px;width:20px;line-height:27.68px;font-size:18.99px">$</span><span class="m" style="left:1339.11px;top:742.26px;width:20px;line-height:27.68px;font-size:18.99px">-</span><span class="m" style="left:1529.07px;top:742.26px;width:20px;line-height:27.68px;font-size:18.99px">$</span><span class="m" style="left:1618.81px;top:742.26px;width:20px;line-height:27.68px;font-size:18.99px">-</span><div class="t" style="left:19.17px;top:769.94px;line-height:27.68px;font-size:18.99px;letter-spacing:0.976px">Wood Siding</div><span class="m" style="left:1244.88px;top:769.94px;width:20px;line-height:27.68px;font-size:18.99px">$</span><span class="m" style="left:1339.11px;top:769.94px;width:20px;line-height:27.68px;font-size:18.99px">-</span><span class="m" style="left:1529.07px;top:769.94px;width:20px;line-height:27.68px;font-size:18.99px">$</span><span class="m" style="left:1618.81px;top:769.94px;width:20px;line-height:27.68px;font-size:18.99px">-</span><div class="t" style="left:17.65px;top:797.62px;line-height:27.68px;font-size:18.99px;letter-spacing:0.820px">Brick Veneer</div><span class="m" style="left:1244.88px;top:797.62px;width:20px;line-height:27.68px;font-size:18.99px">$</span><span class="m" style="left:1339.11px;top:797.62px;width:20px;line-height:27.68px;font-size:18.99px">-</span><span class="m" style="left:1529.07px;top:797.62px;width:20px;line-height:27.68px;font-size:18.99px">$</span><span class="m" style="left:1618.81px;top:797.62px;width:20px;line-height:27.68px;font-size:18.99px">-</span><div class="t" style="left:18.41px;top:825.3px;line-height:27.68px;font-size:18.99px;letter-spacing:1.049px">Stone Veneer</div><span class="m" style="left:1244.88px;top:825.3px;width:20px;line-height:27.68px;font-size:18.99px">$</span><span class="m" style="left:1339.11px;top:825.3px;width:20px;line-height:27.68px;font-size:18.99px">-</span><span class="m" style="left:1529.07px;top:825.3px;width:20px;line-height:27.68px;font-size:18.99px">$</span><span class="m" style="left:1618.81px;top:825.3px;width:20px;line-height:27.68px;font-size:18.99px">-</span><div class="t" style="left:18.41px;top:852.98px;line-height:27.68px;font-size:18.99px;letter-spacing:1.700px">Stucco</div><span class="m" style="left:1244.88px;top:852.98px;width:20px;line-height:27.68px;font-size:18.99px">$</span><span class="m" style="left:1339.11px;top:852.98px;width:20px;line-height:27.68px;font-size:18.99px">-</span><span class="m" style="left:1529.07px;top:852.98px;width:20px;line-height:27.68px;font-size:18.99px">$</span><span class="m" style="left:1618.81px;top:852.98px;width:20px;line-height:27.68px;font-size:18.99px">-</span><div class="t" style="left:17.65px;top:880.66px;line-height:27.68px;font-size:18.99px;letter-spacing:0.330px">Fascia, Frieze, Corner Boards, Water Table</div><span class="m" style="left:1244.88px;top:880.66px;width:20px;line-height:27.68px;font-size:18.99px">$</span><span class="m" style="left:1339.11px;top:880.66px;width:20px;line-height:27.68px;font-size:18.99px">-</span><span class="m" style="left:1529.07px;top:880.66px;width:20px;line-height:27.68px;font-size:18.99px">$</span><span class="m" style="left:1618.81px;top:880.66px;width:20px;line-height:27.68px;font-size:18.99px">-</span><div class="t" style="left:18.41px;top:908.34px;line-height:27.68px;font-size:18.99px;letter-spacing:1.074px">Soffit/Gable Vents</div><span class="m" style="left:1244.88px;top:908.34px;width:20px;line-height:27.68px;font-size:18.99px">$</span><span class="m" style="left:1339.11px;top:908.34px;width:20px;line-height:27.68px;font-size:18.99px">-</span><span class="m" style="left:1529.07px;top:908.34px;width:20px;line-height:27.68px;font-size:18.99px">$</span><span class="m" style="left:1618.81px;top:908.34px;width:20px;line-height:27.68px;font-size:18.99px">-</span><div class="t" style="left:19.17px;top:936.02px;line-height:27.68px;font-size:18.99px;letter-spacing:0.738px">Window/Door Trim</div><span class="m" style="left:1244.88px;top:936.02px;width:20px;line-height:27.68px;font-size:18.99px">$</span><span class="m" style="left:1339.11px;top:936.02px;width:20px;line-height:27.68px;font-size:18.99px">-</span><span class="m" style="left:1529.07px;top:936.02px;width:20px;line-height:27.68px;font-size:18.99px">$</span><span class="m" style="left:1618.81px;top:936.02px;width:20px;line-height:27.68px;font-size:18.99px">-</span><div class="t" style="left:18.41px;top:963.7px;line-height:27.68px;font-size:18.99px;letter-spacing:0.272px">Other Exterior Trim</div><span class="m" style="left:1244.88px;top:963.7px;width:20px;line-height:27.68px;font-size:18.99px">$</span><span class="m" style="left:1339.11px;top:963.7px;width:20px;line-height:27.68px;font-size:18.99px">-</span><span class="m" style="left:1529.07px;top:963.7px;width:20px;line-height:27.68px;font-size:18.99px">$</span><span class="m" style="left:1618.81px;top:963.7px;width:20px;line-height:27.68px;font-size:18.99px">-</span><div class="t" style="left:17.65px;top:991.38px;line-height:27.68px;font-size:18.99px;letter-spacing:0.266px">Exterior Paint, Stain, Caulk</div><span class="m" style="left:1244.88px;top:991.38px;width:20px;line-height:27.68px;font-size:18.99px">$</span><span class="m" style="left:1339.11px;top:991.38px;width:20px;line-height:27.68px;font-size:18.99px">-</span><span class="m" style="left:1529.07px;top:991.38px;width:20px;line-height:27.68px;font-size:18.99px">$</span><span class="m" style="left:1618.81px;top:991.38px;width:20px;line-height:27.68px;font-size:18.99px">-</span><div class="t" style="left:17.65px;top:1019.06px;line-height:27.68px;font-size:18.99px;letter-spacing:0.436px">Exterior, Labor Only</div><span class="m" style="left:1244.88px;top:1019.06px;width:20px;line-height:27.68px;font-size:18.99px">$</span><span class="m" style="left:1339.11px;top:1019.06px;width:20px;line-height:27.68px;font-size:18.99px">-</span><span class="m" style="left:1529.07px;top:1019.06px;width:20px;line-height:27.68px;font-size:18.99px">$</span><span class="m" style="left:1618.81px;top:1019.06px;width:20px;line-height:27.68px;font-size:18.99px">-</span><div class="t" style="left:18.41px;top:1046.74px;line-height:27.68px;font-size:18.99px;letter-spacing:1.356px">Other</div><span class="m" style="left:1244.88px;top:1046.74px;width:20px;line-height:27.68px;font-size:18.99px">$</span><span class="m" style="left:1339.11px;top:1046.74px;width:20px;line-height:27.68px;font-size:18.99px">-</span><span class="m" style="left:1529.07px;top:1046.74px;width:20px;line-height:27.68px;font-size:18.99px">$</span><span class="m" style="left:1618.81px;top:1046.74px;width:20px;line-height:27.68px;font-size:18.99px">-</span><span class="m" style="left:1244.88px;top:1074.72px;width:20px;line-height:27.68px;font-size:18.99px">$</span><span class="m" style="left:1339.61px;top:1074.72px;width:20px;line-height:27.68px;font-size:18.99px">-</span><span class="m" style="left:1391.27px;top:1074.72px;width:20px;line-height:27.68px;font-size:18.99px">$</span><span class="m" style="left:1478.01px;top:1074.72px;width:20px;line-height:27.68px;font-size:18.99px">-</span><div class="sh" style="left:132px;top:159.1px;width:1686px;height:1115.1px;opacity:0.51"></div><div class="sh" style="left:273.7px;top:306.5px;width:1686.3px;height:1297.3px;opacity:0.51"></div><div class="sh" style="left:454.5px;top:565px;width:1692.5px;height:988.8px;opacity:0.51"></div></div><div class="sheet" style="left:537.5px;top:596.3px;width:1683.5px;height:1114.1px"><div class="panel" style="left:12px;top:0px;width:1652.1px;height:1114.1px"></div><svg class="g" width="1723.5" height="1154.1" viewBox="0 0 1723.5 1154.1"><rect x="667.9" y="28.75" width="216.39" height="277.5" fill="#fff2cc"/><rect x="884.29" y="28.75" width="215.99" height="277.5" fill="#ebecf0"/><rect x="1100.28" y="28.75" width="138.05" height="277.5" fill="#f2f3f4"/><rect x="1238.33" y="28.75" width="286.12" height="277.5" fill="#ffffff"/><rect x="1237.53" y="307.05" width="286.12" height="27.15" fill="#d6dae3"/><line class="d" x1="667.9" y1="28.75" x2="1524.44" y2="28.75"/><line class="d" x1="667.9" y1="56.5" x2="1524.44" y2="56.5"/><line class="d" x1="667.9" y1="84.25" x2="1524.44" y2="84.25"/><line class="d" x1="667.9" y1="112" x2="1524.44" y2="112"/><line class="d" x1="667.9" y1="139.75" x2="1524.44" y2="139.75"/><line class="d" x1="667.9" y1="167.5" x2="1524.44" y2="167.5"/><line class="d" x1="667.9" y1="195.25" x2="1524.44" y2="195.25"/><line class="d" x1="667.9" y1="223" x2="1524.44" y2="223"/><line class="d" x1="667.9" y1="250.75" x2="1524.44" y2="250.75"/><line class="d" x1="667.9" y1="278.5" x2="1524.44" y2="278.5"/><line class="d" x1="667.9" y1="306.25" x2="1524.44" y2="306.25"/><line class="d" x1="667.9" y1="28.75" x2="667.9" y2="306.25"/><line class="d" x1="776.09" y1="28.75" x2="776.09" y2="306.25"/><line class="d" x1="884.29" y1="28.75" x2="884.29" y2="306.25"/><line class="d" x1="992.48" y1="28.75" x2="992.48" y2="306.25"/><line class="d" x1="1100.28" y1="28.75" x2="1100.28" y2="306.25"/><line class="sl" x1="1238.33" y1="28.75" x2="1238.33" y2="306.25"/><line class="d" x1="1384.79" y1="28.75" x2="1384.79" y2="306.25"/><line class="d" x1="1524.44" y1="28.75" x2="1524.44" y2="306.25"/><rect x="667.9" y="389.5" width="216.39" height="249.75" fill="#fff2cc"/><rect x="884.29" y="389.5" width="215.99" height="249.75" fill="#ebecf0"/><rect x="1100.28" y="389.5" width="138.05" height="249.75" fill="#f2f3f4"/><rect x="1238.33" y="389.5" width="286.12" height="249.75" fill="#ffffff"/><rect x="1237.53" y="640.05" width="286.12" height="27.15" fill="#d6dae3"/><line class="d" x1="667.9" y1="389.5" x2="1524.44" y2="389.5"/><line class="d" x1="667.9" y1="417.25" x2="1524.44" y2="417.25"/><line class="d" x1="667.9" y1="445" x2="1524.44" y2="445"/><line class="d" x1="667.9" y1="472.75" x2="1524.44" y2="472.75"/><line class="d" x1="667.9" y1="500.5" x2="1524.44" y2="500.5"/><line class="d" x1="667.9" y1="528.25" x2="1524.44" y2="528.25"/><line class="d" x1="667.9" y1="556" x2="1524.44" y2="556"/><line class="d" x1="667.9" y1="583.75" x2="1524.44" y2="583.75"/><line class="d" x1="667.9" y1="611.5" x2="1524.44" y2="611.5"/><line class="d" x1="667.9" y1="639.25" x2="1524.44" y2="639.25"/><line class="d" x1="667.9" y1="389.5" x2="667.9" y2="639.25"/><line class="d" x1="776.09" y1="389.5" x2="776.09" y2="639.25"/><line class="d" x1="884.29" y1="389.5" x2="884.29" y2="639.25"/><line class="d" x1="992.48" y1="389.5" x2="992.48" y2="639.25"/><line class="d" x1="1100.28" y1="389.5" x2="1100.28" y2="639.25"/><line class="sl" x1="1238.33" y1="389.5" x2="1238.33" y2="639.25"/><line class="d" x1="1384.79" y1="389.5" x2="1384.79" y2="639.25"/><line class="d" x1="1524.44" y1="389.5" x2="1524.44" y2="639.25"/><rect x="667.9" y="694.75" width="216.39" height="388.5" fill="#fff2cc"/><rect x="884.29" y="694.75" width="215.99" height="388.5" fill="#ebecf0"/><rect x="1100.28" y="694.75" width="138.05" height="388.5" fill="#f2f3f4"/><rect x="1238.33" y="694.75" width="286.12" height="388.5" fill="#ffffff"/><rect x="1237.53" y="1084.05" width="286.12" height="27.15" fill="#d6dae3"/><line class="d" x1="667.9" y1="694.75" x2="1524.44" y2="694.75"/><line class="d" x1="667.9" y1="722.5" x2="1524.44" y2="722.5"/><line class="d" x1="667.9" y1="750.25" x2="1524.44" y2="750.25"/><line class="d" x1="667.9" y1="778" x2="1524.44" y2="778"/><line class="d" x1="667.9" y1="805.75" x2="1524.44" y2="805.75"/><line class="d" x1="667.9" y1="833.5" x2="1524.44" y2="833.5"/><line class="d" x1="667.9" y1="861.25" x2="1524.44" y2="861.25"/><line class="d" x1="667.9" y1="889" x2="1524.44" y2="889"/><line class="d" x1="667.9" y1="916.75" x2="1524.44" y2="916.75"/><line class="d" x1="667.9" y1="944.5" x2="1524.44" y2="944.5"/><line class="d" x1="667.9" y1="972.25" x2="1524.44" y2="972.25"/><line class="d" x1="667.9" y1="1000" x2="1524.44" y2="1000"/><line class="d" x1="667.9" y1="1027.75" x2="1524.44" y2="1027.75"/><line class="d" x1="667.9" y1="1055.5" x2="1524.44" y2="1055.5"/><line class="d" x1="667.9" y1="1083.25" x2="1524.44" y2="1083.25"/><line class="d" x1="667.9" y1="694.75" x2="667.9" y2="1083.25"/><line class="d" x1="776.09" y1="694.75" x2="776.09" y2="1083.25"/><line class="d" x1="884.29" y1="694.75" x2="884.29" y2="1083.25"/><line class="d" x1="992.48" y1="694.75" x2="992.48" y2="1083.25"/><line class="d" x1="1100.28" y1="694.75" x2="1100.28" y2="1083.25"/><line class="sl" x1="1238.33" y1="694.75" x2="1238.33" y2="1083.25"/><line class="d" x1="1384.79" y1="694.75" x2="1384.79" y2="1083.25"/><line class="d" x1="1524.44" y1="694.75" x2="1524.44" y2="1083.25"/></svg><div class="h" style="left:18.33px;top:1.6px;line-height:27.75px;font-size:19.03px;transform:scaleX(0.9170)">WINDOWS/EXTERIOR DOORS</div><div class="t" style="left:16.8px;top:29.35px;line-height:27.75px;font-size:19.03px;letter-spacing:0.622px">Membrane &amp; Flashing</div><span class="m" style="left:1245.56px;top:29.35px;width:20px;line-height:27.75px;font-size:19.03px">$</span><span class="m" style="left:1340.03px;top:29.35px;width:20px;line-height:27.75px;font-size:19.03px">-</span><span class="m" style="left:1530.47px;top:29.35px;width:20px;line-height:27.75px;font-size:19.03px">$</span><span class="m" style="left:1620.43px;top:29.35px;width:20px;line-height:27.75px;font-size:19.03px">-</span><div class="t" style="left:16.8px;top:57.1px;line-height:27.75px;font-size:19.03px;letter-spacing:0.481px">Exterior doors, prehung</div><span class="m" style="left:1245.56px;top:57.1px;width:20px;line-height:27.75px;font-size:19.03px">$</span><span class="m" style="left:1340.03px;top:57.1px;width:20px;line-height:27.75px;font-size:19.03px">-</span><span class="m" style="left:1530.47px;top:57.1px;width:20px;line-height:27.75px;font-size:19.03px">$</span><span class="m" style="left:1620.43px;top:57.1px;width:20px;line-height:27.75px;font-size:19.03px">-</span><div class="t" style="left:16.8px;top:84.85px;line-height:27.75px;font-size:19.03px;letter-spacing:0.337px">Exterior Door Slabs</div><span class="m" style="left:1245.56px;top:84.85px;width:20px;line-height:27.75px;font-size:19.03px">$</span><span class="m" style="left:1340.03px;top:84.85px;width:20px;line-height:27.75px;font-size:19.03px">-</span><span class="m" style="left:1530.47px;top:84.85px;width:20px;line-height:27.75px;font-size:19.03px">$</span><span class="m" style="left:1620.43px;top:84.85px;width:20px;line-height:27.75px;font-size:19.03px">-</span><div class="t" style="left:16.8px;top:112.6px;line-height:27.75px;font-size:19.03px;letter-spacing:0.081px">Exterior Door Frames, Sills</div><span class="m" style="left:1245.56px;top:112.6px;width:20px;line-height:27.75px;font-size:19.03px">$</span><span class="m" style="left:1340.03px;top:112.6px;width:20px;line-height:27.75px;font-size:19.03px">-</span><span class="m" style="left:1530.47px;top:112.6px;width:20px;line-height:27.75px;font-size:19.03px">$</span><span class="m" style="left:1620.43px;top:112.6px;width:20px;line-height:27.75px;font-size:19.03px">-</span><div class="t" style="left:17.57px;top:140.35px;line-height:27.75px;font-size:19.03px;letter-spacing:0.248px">Sidelights, Transoms</div><span class="m" style="left:1245.56px;top:140.35px;width:20px;line-height:27.75px;font-size:19.03px">$</span><span class="m" style="left:1340.03px;top:140.35px;width:20px;line-height:27.75px;font-size:19.03px">-</span><span class="m" style="left:1530.47px;top:140.35px;width:20px;line-height:27.75px;font-size:19.03px">$</span><span class="m" style="left:1620.43px;top:140.35px;width:20px;line-height:27.75px;font-size:19.03px">-</span><div class="t" style="left:16.8px;top:168.1px;line-height:27.75px;font-size:19.03px;letter-spacing:0.420px">Locksets, Knobs, Door Hardware</div><span class="m" style="left:1245.56px;top:168.1px;width:20px;line-height:27.75px;font-size:19.03px">$</span><span class="m" style="left:1340.03px;top:168.1px;width:20px;line-height:27.75px;font-size:19.03px">-</span><span class="m" style="left:1530.47px;top:168.1px;width:20px;line-height:27.75px;font-size:19.03px">$</span><span class="m" style="left:1620.43px;top:168.1px;width:20px;line-height:27.75px;font-size:19.03px">-</span><div class="t" style="left:16.8px;top:195.85px;line-height:27.75px;font-size:19.03px;letter-spacing:0.337px">Patio Doors: Sliding or Hinged</div><span class="m" style="left:1245.56px;top:195.85px;width:20px;line-height:27.75px;font-size:19.03px">$</span><span class="m" style="left:1340.03px;top:195.85px;width:20px;line-height:27.75px;font-size:19.03px">-</span><span class="m" style="left:1530.47px;top:195.85px;width:20px;line-height:27.75px;font-size:19.03px">$</span><span class="m" style="left:1620.43px;top:195.85px;width:20px;line-height:27.75px;font-size:19.03px">-</span><div class="t" style="left:18.33px;top:223.6px;line-height:27.75px;font-size:19.03px;letter-spacing:0.909px">Windows</div><span class="m" style="left:1245.56px;top:223.6px;width:20px;line-height:27.75px;font-size:19.03px">$</span><span class="m" style="left:1340.03px;top:223.6px;width:20px;line-height:27.75px;font-size:19.03px">-</span><span class="m" style="left:1530.47px;top:223.6px;width:20px;line-height:27.75px;font-size:19.03px">$</span><span class="m" style="left:1620.43px;top:223.6px;width:20px;line-height:27.75px;font-size:19.03px">-</span><div class="t" style="left:17.38px;top:251.35px;line-height:27.75px;font-size:19.03px;letter-spacing:1.021px">Garage Doors</div><span class="m" style="left:1245.56px;top:251.35px;width:20px;line-height:27.75px;font-size:19.03px">$</span><span class="m" style="left:1340.03px;top:251.35px;width:20px;line-height:27.75px;font-size:19.03px">-</span><span class="m" style="left:1530.47px;top:251.35px;width:20px;line-height:27.75px;font-size:19.03px">$</span><span class="m" style="left:1620.43px;top:251.35px;width:20px;line-height:27.75px;font-size:19.03px">-</span><div class="t" style="left:17.57px;top:279.1px;line-height:27.75px;font-size:19.03px;letter-spacing:1.326px">Other</div><span class="m" style="left:1245.56px;top:279.1px;width:20px;line-height:27.75px;font-size:19.03px">$</span><span class="m" style="left:1340.03px;top:279.1px;width:20px;line-height:27.75px;font-size:19.03px">-</span><span class="m" style="left:1530.47px;top:279.1px;width:20px;line-height:27.75px;font-size:19.03px">$</span><span class="m" style="left:1620.43px;top:279.1px;width:20px;line-height:27.75px;font-size:19.03px">-</span><span class="m" style="left:1245.56px;top:307.15px;width:20px;line-height:27.75px;font-size:19.03px">$</span><span class="m" style="left:1340.53px;top:307.15px;width:20px;line-height:27.75px;font-size:19.03px">-</span><span class="m" style="left:1392.32px;top:307.15px;width:20px;line-height:27.75px;font-size:19.03px">$</span><span class="m" style="left:1479.28px;top:307.15px;width:20px;line-height:27.75px;font-size:19.03px">-</span><div class="h" style="left:17.26px;top:362.35px;line-height:27.75px;font-size:19.03px;transform:scaleX(0.9349)">PLUMBING</div><div class="t" style="left:16.8px;top:390.1px;line-height:27.75px;font-size:19.03px;letter-spacing:1.219px">Drain/Waste/Vent</div><span class="m" style="left:1245.56px;top:390.1px;width:20px;line-height:27.75px;font-size:19.03px">$</span><span class="m" style="left:1340.03px;top:390.1px;width:20px;line-height:27.75px;font-size:19.03px">-</span><span class="m" style="left:1530.47px;top:390.1px;width:20px;line-height:27.75px;font-size:19.03px">$</span><span class="m" style="left:1620.43px;top:390.1px;width:20px;line-height:27.75px;font-size:19.03px">-</span><div class="t" style="left:18.33px;top:417.85px;line-height:27.75px;font-size:19.03px;letter-spacing:0.745px">Water Supply Piping</div><span class="m" style="left:1245.56px;top:417.85px;width:20px;line-height:27.75px;font-size:19.03px">$</span><span class="m" style="left:1340.03px;top:417.85px;width:20px;line-height:27.75px;font-size:19.03px">-</span><span class="m" style="left:1530.47px;top:417.85px;width:20px;line-height:27.75px;font-size:19.03px">$</span><span class="m" style="left:1620.43px;top:417.85px;width:20px;line-height:27.75px;font-size:19.03px">-</span><div class="t" style="left:17.38px;top:445.6px;line-height:27.75px;font-size:19.03px;letter-spacing:0.324px">Gas Piping</div><span class="m" style="left:1245.56px;top:445.6px;width:20px;line-height:27.75px;font-size:19.03px">$</span><span class="m" style="left:1340.03px;top:445.6px;width:20px;line-height:27.75px;font-size:19.03px">-</span><span class="m" style="left:1530.47px;top:445.6px;width:20px;line-height:27.75px;font-size:19.03px">$</span><span class="m" style="left:1620.43px;top:445.6px;width:20px;line-height:27.75px;font-size:19.03px">-</span><div class="t" style="left:18.33px;top:473.35px;line-height:27.75px;font-size:19.03px;letter-spacing:1.076px">Water Treatment</div><span class="m" style="left:1245.56px;top:473.35px;width:20px;line-height:27.75px;font-size:19.03px">$</span><span class="m" style="left:1340.03px;top:473.35px;width:20px;line-height:27.75px;font-size:19.03px">-</span><span class="m" style="left:1530.47px;top:473.35px;width:20px;line-height:27.75px;font-size:19.03px">$</span><span class="m" style="left:1620.43px;top:473.35px;width:20px;line-height:27.75px;font-size:19.03px">-</span><div class="t" style="left:18.33px;top:501.1px;line-height:27.75px;font-size:19.03px;letter-spacing:1.217px">Water Heater</div><span class="m" style="left:1245.56px;top:501.1px;width:20px;line-height:27.75px;font-size:19.03px">$</span><span class="m" style="left:1340.03px;top:501.1px;width:20px;line-height:27.75px;font-size:19.03px">-</span><span class="m" style="left:1530.47px;top:501.1px;width:20px;line-height:27.75px;font-size:19.03px">$</span><span class="m" style="left:1620.43px;top:501.1px;width:20px;line-height:27.75px;font-size:19.03px">-</span><div class="t" style="left:16.8px;top:528.85px;line-height:27.75px;font-size:19.03px;letter-spacing:0.242px">Fixtures: Toilets, Tubs, Sinks, Showers</div><span class="m" style="left:1245.56px;top:528.85px;width:20px;line-height:27.75px;font-size:19.03px">$</span><span class="m" style="left:1340.03px;top:528.85px;width:20px;line-height:27.75px;font-size:19.03px">-</span><span class="m" style="left:1530.47px;top:528.85px;width:20px;line-height:27.75px;font-size:19.03px">$</span><span class="m" style="left:1620.43px;top:528.85px;width:20px;line-height:27.75px;font-size:19.03px">-</span><div class="t" style="left:16.8px;top:556.6px;line-height:27.75px;font-size:19.03px;letter-spacing:0.574px">Faucets, Mixing Valves, Shower Heads</div><span class="m" style="left:1245.56px;top:556.6px;width:20px;line-height:27.75px;font-size:19.03px">$</span><span class="m" style="left:1340.03px;top:556.6px;width:20px;line-height:27.75px;font-size:19.03px">-</span><span class="m" style="left:1530.47px;top:556.6px;width:20px;line-height:27.75px;font-size:19.03px">$</span><span class="m" style="left:1620.43px;top:556.6px;width:20px;line-height:27.75px;font-size:19.03px">-</span><div class="t" style="left:16.8px;top:584.35px;line-height:27.75px;font-size:19.03px;letter-spacing:0.630px">Disposal</div><span class="m" style="left:1245.56px;top:584.35px;width:20px;line-height:27.75px;font-size:19.03px">$</span><span class="m" style="left:1340.03px;top:584.35px;width:20px;line-height:27.75px;font-size:19.03px">-</span><span class="m" style="left:1530.47px;top:584.35px;width:20px;line-height:27.75px;font-size:19.03px">$</span><span class="m" style="left:1620.43px;top:584.35px;width:20px;line-height:27.75px;font-size:19.03px">-</span><div class="t" style="left:17.57px;top:612.1px;line-height:27.75px;font-size:19.03px;letter-spacing:1.326px">Other</div><span class="m" style="left:1245.56px;top:612.1px;width:20px;line-height:27.75px;font-size:19.03px">$</span><span class="m" style="left:1340.03px;top:612.1px;width:20px;line-height:27.75px;font-size:19.03px">-</span><span class="m" style="left:1530.47px;top:612.1px;width:20px;line-height:27.75px;font-size:19.03px">$</span><span class="m" style="left:1620.43px;top:612.1px;width:20px;line-height:27.75px;font-size:19.03px">-</span><span class="m" style="left:1245.56px;top:640.15px;width:20px;line-height:27.75px;font-size:19.03px">$</span><span class="m" style="left:1340.53px;top:640.15px;width:20px;line-height:27.75px;font-size:19.03px">-</span><span class="m" style="left:1392.32px;top:640.15px;width:20px;line-height:27.75px;font-size:19.03px">$</span><span class="m" style="left:1479.28px;top:640.15px;width:20px;line-height:27.75px;font-size:19.03px">-</span><div class="h" style="left:17.35px;top:667.6px;line-height:27.75px;font-size:19.03px;transform:scaleX(0.8521)">ELECTRICAL</div><div class="t" style="left:17.57px;top:695.35px;line-height:27.75px;font-size:19.03px;letter-spacing:0.785px">Service, Panel, Sub-Panels</div><span class="m" style="left:1245.56px;top:695.35px;width:20px;line-height:27.75px;font-size:19.03px">$</span><span class="m" style="left:1340.03px;top:695.35px;width:20px;line-height:27.75px;font-size:19.03px">-</span><span class="m" style="left:1530.47px;top:695.35px;width:20px;line-height:27.75px;font-size:19.03px">$</span><span class="m" style="left:1620.43px;top:695.35px;width:20px;line-height:27.75px;font-size:19.03px">-</span><div class="t" style="left:16.8px;top:723.1px;line-height:27.75px;font-size:19.03px;letter-spacing:0.535px">Rough Wiring</div><span class="m" style="left:1245.56px;top:723.1px;width:20px;line-height:27.75px;font-size:19.03px">$</span><span class="m" style="left:1340.03px;top:723.1px;width:20px;line-height:27.75px;font-size:19.03px">-</span><span class="m" style="left:1530.47px;top:723.1px;width:20px;line-height:27.75px;font-size:19.03px">$</span><span class="m" style="left:1620.43px;top:723.1px;width:20px;line-height:27.75px;font-size:19.03px">-</span><div class="t" style="left:16.8px;top:750.85px;line-height:27.75px;font-size:19.03px;letter-spacing:0.754px">Phone, Cable, Internet Wiring</div><span class="m" style="left:1245.56px;top:750.85px;width:20px;line-height:27.75px;font-size:19.03px">$</span><span class="m" style="left:1340.03px;top:750.85px;width:20px;line-height:27.75px;font-size:19.03px">-</span><span class="m" style="left:1530.47px;top:750.85px;width:20px;line-height:27.75px;font-size:19.03px">$</span><span class="m" style="left:1620.43px;top:750.85px;width:20px;line-height:27.75px;font-size:19.03px">-</span><div class="t" style="left:16.8px;top:778.6px;line-height:27.75px;font-size:19.03px;letter-spacing:0.302px">Lighting Fixtures</div><span class="m" style="left:1245.56px;top:778.6px;width:20px;line-height:27.75px;font-size:19.03px">$</span><span class="m" style="left:1340.03px;top:778.6px;width:20px;line-height:27.75px;font-size:19.03px">-</span><span class="m" style="left:1530.47px;top:778.6px;width:20px;line-height:27.75px;font-size:19.03px">$</span><span class="m" style="left:1620.43px;top:778.6px;width:20px;line-height:27.75px;font-size:19.03px">-</span><div class="t" style="left:16.8px;top:806.35px;line-height:27.75px;font-size:19.03px;letter-spacing:1.275px">Low-Voltage Lighting</div><span class="m" style="left:1245.56px;top:806.35px;width:20px;line-height:27.75px;font-size:19.03px">$</span><span class="m" style="left:1340.03px;top:806.35px;width:20px;line-height:27.75px;font-size:19.03px">-</span><span class="m" style="left:1530.47px;top:806.35px;width:20px;line-height:27.75px;font-size:19.03px">$</span><span class="m" style="left:1620.43px;top:806.35px;width:20px;line-height:27.75px;font-size:19.03px">-</span><div class="t" style="left:16.8px;top:834.1px;line-height:27.75px;font-size:19.03px;letter-spacing:0.443px">Exterior Lighting</div><span class="m" style="left:1245.56px;top:834.1px;width:20px;line-height:27.75px;font-size:19.03px">$</span><span class="m" style="left:1340.03px;top:834.1px;width:20px;line-height:27.75px;font-size:19.03px">-</span><span class="m" style="left:1530.47px;top:834.1px;width:20px;line-height:27.75px;font-size:19.03px">$</span><span class="m" style="left:1620.43px;top:834.1px;width:20px;line-height:27.75px;font-size:19.03px">-</span><div class="t" style="left:16.8px;top:861.85px;line-height:27.75px;font-size:19.03px;letter-spacing:0.994px">Devices: Outlets, Switches, Dimmers</div><span class="m" style="left:1245.56px;top:861.85px;width:20px;line-height:27.75px;font-size:19.03px">$</span><span class="m" style="left:1340.03px;top:861.85px;width:20px;line-height:27.75px;font-size:19.03px">-</span><span class="m" style="left:1530.47px;top:861.85px;width:20px;line-height:27.75px;font-size:19.03px">$</span><span class="m" style="left:1620.43px;top:861.85px;width:20px;line-height:27.75px;font-size:19.03px">-</span><div class="t" style="left:16.8px;top:889.6px;line-height:27.75px;font-size:19.03px;letter-spacing:0.716px">Lighting Controls</div><span class="m" style="left:1245.56px;top:889.6px;width:20px;line-height:27.75px;font-size:19.03px">$</span><span class="m" style="left:1340.03px;top:889.6px;width:20px;line-height:27.75px;font-size:19.03px">-</span><span class="m" style="left:1530.47px;top:889.6px;width:20px;line-height:27.75px;font-size:19.03px">$</span><span class="m" style="left:1620.43px;top:889.6px;width:20px;line-height:27.75px;font-size:19.03px">-</span><div class="t" style="left:16.8px;top:917.35px;line-height:27.75px;font-size:19.03px;letter-spacing:0.519px">Doorbell System</div><span class="m" style="left:1245.56px;top:917.35px;width:20px;line-height:27.75px;font-size:19.03px">$</span><span class="m" style="left:1340.03px;top:917.35px;width:20px;line-height:27.75px;font-size:19.03px">-</span><span class="m" style="left:1530.47px;top:917.35px;width:20px;line-height:27.75px;font-size:19.03px">$</span><span class="m" style="left:1620.43px;top:917.35px;width:20px;line-height:27.75px;font-size:19.03px">-</span><div class="t" style="left:17.57px;top:945.1px;line-height:27.75px;font-size:19.03px;letter-spacing:0.538px">Smoke, CO2 Alarms</div><span class="m" style="left:1245.56px;top:945.1px;width:20px;line-height:27.75px;font-size:19.03px">$</span><span class="m" style="left:1340.03px;top:945.1px;width:20px;line-height:27.75px;font-size:19.03px">-</span><span class="m" style="left:1530.47px;top:945.1px;width:20px;line-height:27.75px;font-size:19.03px">$</span><span class="m" style="left:1620.43px;top:945.1px;width:20px;line-height:27.75px;font-size:19.03px">-</span><div class="t" style="left:16.61px;top:972.85px;line-height:27.75px;font-size:19.03px;letter-spacing:0.603px">Intercom System</div><span class="m" style="left:1245.56px;top:972.85px;width:20px;line-height:27.75px;font-size:19.03px">$</span><span class="m" style="left:1340.03px;top:972.85px;width:20px;line-height:27.75px;font-size:19.03px">-</span><span class="m" style="left:1530.47px;top:972.85px;width:20px;line-height:27.75px;font-size:19.03px">$</span><span class="m" style="left:1620.43px;top:972.85px;width:20px;line-height:27.75px;font-size:19.03px">-</span><div class="t" style="left:17.57px;top:1000.6px;line-height:27.75px;font-size:19.03px;letter-spacing:0.409px">Security System</div><span class="m" style="left:1245.56px;top:1000.6px;width:20px;line-height:27.75px;font-size:19.03px">$</span><span class="m" style="left:1340.03px;top:1000.6px;width:20px;line-height:27.75px;font-size:19.03px">-</span><span class="m" style="left:1530.47px;top:1000.6px;width:20px;line-height:27.75px;font-size:19.03px">$</span><span class="m" style="left:1620.43px;top:1000.6px;width:20px;line-height:27.75px;font-size:19.03px">-</span><div class="t" style="left:16.8px;top:1028.35px;line-height:27.75px;font-size:19.03px;letter-spacing:0.791px">Home Theater/Entertainment</div><span class="m" style="left:1245.56px;top:1028.35px;width:20px;line-height:27.75px;font-size:19.03px">$</span><span class="m" style="left:1340.03px;top:1028.35px;width:20px;line-height:27.75px;font-size:19.03px">-</span><span class="m" style="left:1530.47px;top:1028.35px;width:20px;line-height:27.75px;font-size:19.03px">$</span><span class="m" style="left:1620.43px;top:1028.35px;width:20px;line-height:27.75px;font-size:19.03px">-</span><div class="t" style="left:17.57px;top:1056.1px;line-height:27.75px;font-size:19.03px;letter-spacing:1.326px">Other</div><span class="m" style="left:1245.56px;top:1056.1px;width:20px;line-height:27.75px;font-size:19.03px">$</span><span class="m" style="left:1340.03px;top:1056.1px;width:20px;line-height:27.75px;font-size:19.03px">-</span><span class="m" style="left:1530.47px;top:1056.1px;width:20px;line-height:27.75px;font-size:19.03px">$</span><span class="m" style="left:1620.43px;top:1056.1px;width:20px;line-height:27.75px;font-size:19.03px">-</span><span class="m" style="left:1245.56px;top:1084.15px;width:20px;line-height:27.75px;font-size:19.03px">$</span><span class="m" style="left:1340.53px;top:1084.15px;width:20px;line-height:27.75px;font-size:19.03px">-</span><span class="m" style="left:1392.32px;top:1084.15px;width:20px;line-height:27.75px;font-size:19.03px">$</span><span class="m" style="left:1479.28px;top:1084.15px;width:20px;line-height:27.75px;font-size:19.03px">-</span><div class="sh" style="left:109.2px;top:133.4px;width:1686.3px;height:1297.3px;opacity:0.51"></div><div class="sh" style="left:290px;top:391.9px;width:1692.5px;height:988.8px;opacity:0.51"></div></div><div class="sheet" style="left:679.2px;top:743.7px;width:1683.8px;height:1296.3px"><div class="panel" style="left:10.5px;top:0px;width:1648.9px;height:1296.3px"></div><svg class="g" width="1723.8" height="1336.3" viewBox="0 0 1723.8 1336.3"><rect x="664.8" y="25.19" width="215.92" height="304.59" fill="#fff2cc"/><rect x="880.72" y="25.19" width="215.52" height="304.59" fill="#ebecf0"/><rect x="1096.24" y="25.19" width="137.75" height="304.59" fill="#f2f3f4"/><rect x="1233.99" y="25.19" width="285.5" height="304.59" fill="#ffffff"/><rect x="1233.19" y="330.58" width="285.5" height="27.09" fill="#d6dae3"/><line class="d" x1="664.8" y1="25.19" x2="1519.49" y2="25.19"/><line class="d" x1="664.8" y1="52.88" x2="1519.49" y2="52.88"/><line class="d" x1="664.8" y1="80.57" x2="1519.49" y2="80.57"/><line class="d" x1="664.8" y1="108.26" x2="1519.49" y2="108.26"/><line class="d" x1="664.8" y1="135.95" x2="1519.49" y2="135.95"/><line class="d" x1="664.8" y1="163.64" x2="1519.49" y2="163.64"/><line class="d" x1="664.8" y1="191.33" x2="1519.49" y2="191.33"/><line class="d" x1="664.8" y1="219.02" x2="1519.49" y2="219.02"/><line class="d" x1="664.8" y1="246.71" x2="1519.49" y2="246.71"/><line class="d" x1="664.8" y1="274.4" x2="1519.49" y2="274.4"/><line class="d" x1="664.8" y1="302.09" x2="1519.49" y2="302.09"/><line class="d" x1="664.8" y1="329.78" x2="1519.49" y2="329.78"/><line class="d" x1="664.8" y1="25.19" x2="664.8" y2="329.78"/><line class="d" x1="772.76" y1="25.19" x2="772.76" y2="329.78"/><line class="d" x1="880.72" y1="25.19" x2="880.72" y2="329.78"/><line class="d" x1="988.68" y1="25.19" x2="988.68" y2="329.78"/><line class="d" x1="1096.24" y1="25.19" x2="1096.24" y2="329.78"/><line class="sl" x1="1233.99" y1="25.19" x2="1233.99" y2="329.78"/><line class="d" x1="1380.14" y1="25.19" x2="1380.14" y2="329.78"/><line class="d" x1="1519.49" y1="25.19" x2="1519.49" y2="329.78"/><rect x="664.8" y="385.16" width="215.92" height="276.9" fill="#fff2cc"/><rect x="880.72" y="385.16" width="215.52" height="276.9" fill="#ebecf0"/><rect x="1096.24" y="385.16" width="137.75" height="276.9" fill="#f2f3f4"/><rect x="1233.99" y="385.16" width="285.5" height="276.9" fill="#ffffff"/><rect x="1233.19" y="662.86" width="285.5" height="27.09" fill="#d6dae3"/><line class="d" x1="664.8" y1="385.16" x2="1519.49" y2="385.16"/><line class="d" x1="664.8" y1="412.85" x2="1519.49" y2="412.85"/><line class="d" x1="664.8" y1="440.54" x2="1519.49" y2="440.54"/><line class="d" x1="664.8" y1="468.23" x2="1519.49" y2="468.23"/><line class="d" x1="664.8" y1="495.92" x2="1519.49" y2="495.92"/><line class="d" x1="664.8" y1="523.61" x2="1519.49" y2="523.61"/><line class="d" x1="664.8" y1="551.3" x2="1519.49" y2="551.3"/><line class="d" x1="664.8" y1="578.99" x2="1519.49" y2="578.99"/><line class="d" x1="664.8" y1="606.68" x2="1519.49" y2="606.68"/><line class="d" x1="664.8" y1="634.37" x2="1519.49" y2="634.37"/><line class="d" x1="664.8" y1="662.06" x2="1519.49" y2="662.06"/><line class="d" x1="664.8" y1="385.16" x2="664.8" y2="662.06"/><line class="d" x1="772.76" y1="385.16" x2="772.76" y2="662.06"/><line class="d" x1="880.72" y1="385.16" x2="880.72" y2="662.06"/><line class="d" x1="988.68" y1="385.16" x2="988.68" y2="662.06"/><line class="d" x1="1096.24" y1="385.16" x2="1096.24" y2="662.06"/><line class="sl" x1="1233.99" y1="385.16" x2="1233.99" y2="662.06"/><line class="d" x1="1380.14" y1="385.16" x2="1380.14" y2="662.06"/><line class="d" x1="1519.49" y1="385.16" x2="1519.49" y2="662.06"/><rect x="664.8" y="717.44" width="215.92" height="138.45" fill="#fff2cc"/><rect x="880.72" y="717.44" width="215.52" height="138.45" fill="#ebecf0"/><rect x="1096.24" y="717.44" width="137.75" height="138.45" fill="#f2f3f4"/><rect x="1233.99" y="717.44" width="285.5" height="138.45" fill="#ffffff"/><rect x="1233.19" y="856.69" width="285.5" height="27.09" fill="#d6dae3"/><line class="d" x1="664.8" y1="717.44" x2="1519.49" y2="717.44"/><line class="d" x1="664.8" y1="745.13" x2="1519.49" y2="745.13"/><line class="d" x1="664.8" y1="772.82" x2="1519.49" y2="772.82"/><line class="d" x1="664.8" y1="800.51" x2="1519.49" y2="800.51"/><line class="d" x1="664.8" y1="828.2" x2="1519.49" y2="828.2"/><line class="d" x1="664.8" y1="855.89" x2="1519.49" y2="855.89"/><line class="d" x1="664.8" y1="717.44" x2="664.8" y2="855.89"/><line class="d" x1="772.76" y1="717.44" x2="772.76" y2="855.89"/><line class="d" x1="880.72" y1="717.44" x2="880.72" y2="855.89"/><line class="d" x1="988.68" y1="717.44" x2="988.68" y2="855.89"/><line class="d" x1="1096.24" y1="717.44" x2="1096.24" y2="855.89"/><line class="sl" x1="1233.99" y1="717.44" x2="1233.99" y2="855.89"/><line class="d" x1="1380.14" y1="717.44" x2="1380.14" y2="855.89"/><line class="d" x1="1519.49" y1="717.44" x2="1519.49" y2="855.89"/><rect x="664.8" y="911.27" width="215.92" height="359.97" fill="#fff2cc"/><rect x="880.72" y="911.27" width="215.52" height="359.97" fill="#ebecf0"/><rect x="1096.24" y="911.27" width="137.75" height="359.97" fill="#f2f3f4"/><rect x="1233.99" y="911.27" width="285.5" height="359.97" fill="#ffffff"/><rect x="1233.19" y="1272.04" width="285.5" height="27.09" fill="#d6dae3"/><line class="d" x1="664.8" y1="911.27" x2="1519.49" y2="911.27"/><line class="d" x1="664.8" y1="938.96" x2="1519.49" y2="938.96"/><line class="d" x1="664.8" y1="966.65" x2="1519.49" y2="966.65"/><line class="d" x1="664.8" y1="994.34" x2="1519.49" y2="994.34"/><line class="d" x1="664.8" y1="1022.03" x2="1519.49" y2="1022.03"/><line class="d" x1="664.8" y1="1049.72" x2="1519.49" y2="1049.72"/><line class="d" x1="664.8" y1="1077.41" x2="1519.49" y2="1077.41"/><line class="d" x1="664.8" y1="1105.1" x2="1519.49" y2="1105.1"/><line class="d" x1="664.8" y1="1132.79" x2="1519.49" y2="1132.79"/><line class="d" x1="664.8" y1="1160.48" x2="1519.49" y2="1160.48"/><line class="d" x1="664.8" y1="1188.17" x2="1519.49" y2="1188.17"/><line class="d" x1="664.8" y1="1215.86" x2="1519.49" y2="1215.86"/><line class="d" x1="664.8" y1="1243.55" x2="1519.49" y2="1243.55"/><line class="d" x1="664.8" y1="1271.24" x2="1519.49" y2="1271.24"/><line class="d" x1="664.8" y1="911.27" x2="664.8" y2="1271.24"/><line class="d" x1="772.76" y1="911.27" x2="772.76" y2="1271.24"/><line class="d" x1="880.72" y1="911.27" x2="880.72" y2="1271.24"/><line class="d" x1="988.68" y1="911.27" x2="988.68" y2="1271.24"/><line class="d" x1="1096.24" y1="911.27" x2="1096.24" y2="1271.24"/><line class="sl" x1="1233.99" y1="911.27" x2="1233.99" y2="1271.24"/><line class="d" x1="1380.14" y1="911.27" x2="1380.14" y2="1271.24"/><line class="d" x1="1519.49" y1="911.27" x2="1519.49" y2="1271.24"/></svg><div class="h" style="left:14.58px;top:-1.9px;line-height:27.69px;font-size:18.99px;transform:scaleX(1.0089)">HVAC</div><div class="t" style="left:14.22px;top:25.79px;line-height:27.69px;font-size:18.99px;letter-spacing:0.796px">Furnace/Heat Pump</div><span class="m" style="left:1241.19px;top:25.79px;width:20px;line-height:27.69px;font-size:18.99px">$</span><span class="m" style="left:1335.45px;top:25.79px;width:20px;line-height:27.69px;font-size:18.99px">-</span><span class="m" style="left:1525.49px;top:25.79px;width:20px;line-height:27.69px;font-size:18.99px">$</span><span class="m" style="left:1615.25px;top:25.79px;width:20px;line-height:27.69px;font-size:18.99px">-</span><div class="t" style="left:14.78px;top:53.48px;line-height:27.69px;font-size:18.99px;letter-spacing:0.819px">Central AC</div><span class="m" style="left:1241.19px;top:53.48px;width:20px;line-height:27.69px;font-size:18.99px">$</span><span class="m" style="left:1335.45px;top:53.48px;width:20px;line-height:27.69px;font-size:18.99px">-</span><span class="m" style="left:1525.49px;top:53.48px;width:20px;line-height:27.69px;font-size:18.99px">$</span><span class="m" style="left:1615.25px;top:53.48px;width:20px;line-height:27.69px;font-size:18.99px">-</span><div class="t" style="left:15.73px;top:81.17px;line-height:27.69px;font-size:18.99px;letter-spacing:0.444px">Air Handler</div><span class="m" style="left:1241.19px;top:81.17px;width:20px;line-height:27.69px;font-size:18.99px">$</span><span class="m" style="left:1335.45px;top:81.17px;width:20px;line-height:27.69px;font-size:18.99px">-</span><span class="m" style="left:1525.49px;top:81.17px;width:20px;line-height:27.69px;font-size:18.99px">$</span><span class="m" style="left:1615.25px;top:81.17px;width:20px;line-height:27.69px;font-size:18.99px">-</span><div class="t" style="left:14.22px;top:108.86px;line-height:27.69px;font-size:18.99px;letter-spacing:0.374px">Ductwork, Grilles, Registers</div><span class="m" style="left:1241.19px;top:108.86px;width:20px;line-height:27.69px;font-size:18.99px">$</span><span class="m" style="left:1335.45px;top:108.86px;width:20px;line-height:27.69px;font-size:18.99px">-</span><span class="m" style="left:1525.49px;top:108.86px;width:20px;line-height:27.69px;font-size:18.99px">$</span><span class="m" style="left:1615.25px;top:108.86px;width:20px;line-height:27.69px;font-size:18.99px">-</span><div class="t" style="left:15.73px;top:136.55px;line-height:27.69px;font-size:18.99px;letter-spacing:0.295px">Air Filter</div><span class="m" style="left:1241.19px;top:136.55px;width:20px;line-height:27.69px;font-size:18.99px">$</span><span class="m" style="left:1335.45px;top:136.55px;width:20px;line-height:27.69px;font-size:18.99px">-</span><span class="m" style="left:1525.49px;top:136.55px;width:20px;line-height:27.69px;font-size:18.99px">$</span><span class="m" style="left:1615.25px;top:136.55px;width:20px;line-height:27.69px;font-size:18.99px">-</span><div class="t" style="left:14.22px;top:164.24px;line-height:27.69px;font-size:18.99px;letter-spacing:0.448px">Boiler, Piping</div><span class="m" style="left:1241.19px;top:164.24px;width:20px;line-height:27.69px;font-size:18.99px">$</span><span class="m" style="left:1335.45px;top:164.24px;width:20px;line-height:27.69px;font-size:18.99px">-</span><span class="m" style="left:1525.49px;top:164.24px;width:20px;line-height:27.69px;font-size:18.99px">$</span><span class="m" style="left:1615.25px;top:164.24px;width:20px;line-height:27.69px;font-size:18.99px">-</span><div class="t" style="left:14.22px;top:191.93px;line-height:27.69px;font-size:18.99px;letter-spacing:0.738px">Radiators</div><span class="m" style="left:1241.19px;top:191.93px;width:20px;line-height:27.69px;font-size:18.99px">$</span><span class="m" style="left:1335.45px;top:191.93px;width:20px;line-height:27.69px;font-size:18.99px">-</span><span class="m" style="left:1525.49px;top:191.93px;width:20px;line-height:27.69px;font-size:18.99px">$</span><span class="m" style="left:1615.25px;top:191.93px;width:20px;line-height:27.69px;font-size:18.99px">-</span><div class="t" style="left:15.73px;top:219.62px;line-height:27.69px;font-size:18.99px;letter-spacing:0.311px">Whole-House Ventilation (HRV, ERV, Exhaust Only, Other)</div><span class="m" style="left:1241.19px;top:219.62px;width:20px;line-height:27.69px;font-size:18.99px">$</span><span class="m" style="left:1335.45px;top:219.62px;width:20px;line-height:27.69px;font-size:18.99px">-</span><span class="m" style="left:1525.49px;top:219.62px;width:20px;line-height:27.69px;font-size:18.99px">$</span><span class="m" style="left:1615.25px;top:219.62px;width:20px;line-height:27.69px;font-size:18.99px">-</span><div class="t" style="left:14.22px;top:247.31px;line-height:27.69px;font-size:18.99px;letter-spacing:0.652px">HVAC Controls</div><span class="m" style="left:1241.19px;top:247.31px;width:20px;line-height:27.69px;font-size:18.99px">$</span><span class="m" style="left:1335.45px;top:247.31px;width:20px;line-height:27.69px;font-size:18.99px">-</span><span class="m" style="left:1525.49px;top:247.31px;width:20px;line-height:27.69px;font-size:18.99px">$</span><span class="m" style="left:1615.25px;top:247.31px;width:20px;line-height:27.69px;font-size:18.99px">-</span><div class="t" style="left:14.97px;top:275px;line-height:27.69px;font-size:18.99px;letter-spacing:0.858px">Solar Hot Water</div><span class="m" style="left:1241.19px;top:275px;width:20px;line-height:27.69px;font-size:18.99px">$</span><span class="m" style="left:1335.45px;top:275px;width:20px;line-height:27.69px;font-size:18.99px">-</span><span class="m" style="left:1525.49px;top:275px;width:20px;line-height:27.69px;font-size:18.99px">$</span><span class="m" style="left:1615.25px;top:275px;width:20px;line-height:27.69px;font-size:18.99px">-</span><div class="t" style="left:14.97px;top:302.69px;line-height:27.69px;font-size:18.99px;letter-spacing:1.351px">Other</div><span class="m" style="left:1241.19px;top:302.69px;width:20px;line-height:27.69px;font-size:18.99px">$</span><span class="m" style="left:1335.45px;top:302.69px;width:20px;line-height:27.69px;font-size:18.99px">-</span><span class="m" style="left:1525.49px;top:302.69px;width:20px;line-height:27.69px;font-size:18.99px">$</span><span class="m" style="left:1615.25px;top:302.69px;width:20px;line-height:27.69px;font-size:18.99px">-</span><span class="m" style="left:1241.19px;top:330.68px;width:20px;line-height:27.69px;font-size:18.99px">$</span><span class="m" style="left:1335.95px;top:330.68px;width:20px;line-height:27.69px;font-size:18.99px">-</span><span class="m" style="left:1387.64px;top:330.68px;width:20px;line-height:27.69px;font-size:18.99px">$</span><span class="m" style="left:1474.4px;top:330.68px;width:20px;line-height:27.69px;font-size:18.99px">-</span><div class="h" style="left:14.67px;top:358.07px;line-height:27.69px;font-size:18.99px;transform:scaleX(0.9303)">INSULATION &amp; AIR-SEALING</div><div class="t" style="left:14.22px;top:385.76px;line-height:27.69px;font-size:18.99px;letter-spacing:0.842px">Roof/Attic Insulation</div><span class="m" style="left:1241.19px;top:385.76px;width:20px;line-height:27.69px;font-size:18.99px">$</span><span class="m" style="left:1335.45px;top:385.76px;width:20px;line-height:27.69px;font-size:18.99px">-</span><span class="m" style="left:1525.49px;top:385.76px;width:20px;line-height:27.69px;font-size:18.99px">$</span><span class="m" style="left:1615.25px;top:385.76px;width:20px;line-height:27.69px;font-size:18.99px">-</span><div class="t" style="left:14.22px;top:413.45px;line-height:27.69px;font-size:18.99px;letter-spacing:0.668px">Roof/Eave Baffles</div><span class="m" style="left:1241.19px;top:413.45px;width:20px;line-height:27.69px;font-size:18.99px">$</span><span class="m" style="left:1335.45px;top:413.45px;width:20px;line-height:27.69px;font-size:18.99px">-</span><span class="m" style="left:1525.49px;top:413.45px;width:20px;line-height:27.69px;font-size:18.99px">$</span><span class="m" style="left:1615.25px;top:413.45px;width:20px;line-height:27.69px;font-size:18.99px">-</span><div class="t" style="left:15.73px;top:441.14px;line-height:27.69px;font-size:18.99px;letter-spacing:0.642px">Wall Cavity Insulation</div><span class="m" style="left:1241.19px;top:441.14px;width:20px;line-height:27.69px;font-size:18.99px">$</span><span class="m" style="left:1335.45px;top:441.14px;width:20px;line-height:27.69px;font-size:18.99px">-</span><span class="m" style="left:1525.49px;top:441.14px;width:20px;line-height:27.69px;font-size:18.99px">$</span><span class="m" style="left:1615.25px;top:441.14px;width:20px;line-height:27.69px;font-size:18.99px">-</span><div class="t" style="left:14.22px;top:468.83px;line-height:27.69px;font-size:18.99px;letter-spacing:0.321px">Foam Board Insulation</div><span class="m" style="left:1241.19px;top:468.83px;width:20px;line-height:27.69px;font-size:18.99px">$</span><span class="m" style="left:1335.45px;top:468.83px;width:20px;line-height:27.69px;font-size:18.99px">-</span><span class="m" style="left:1525.49px;top:468.83px;width:20px;line-height:27.69px;font-size:18.99px">$</span><span class="m" style="left:1615.25px;top:468.83px;width:20px;line-height:27.69px;font-size:18.99px">-</span><div class="t" style="left:14.97px;top:496.52px;line-height:27.69px;font-size:18.99px;letter-spacing:0.223px">Spray Foam Insulation</div><span class="m" style="left:1241.19px;top:496.52px;width:20px;line-height:27.69px;font-size:18.99px">$</span><span class="m" style="left:1335.45px;top:496.52px;width:20px;line-height:27.69px;font-size:18.99px">-</span><span class="m" style="left:1525.49px;top:496.52px;width:20px;line-height:27.69px;font-size:18.99px">$</span><span class="m" style="left:1615.25px;top:496.52px;width:20px;line-height:27.69px;font-size:18.99px">-</span><div class="t" style="left:14.22px;top:524.21px;line-height:27.69px;font-size:18.99px;letter-spacing:0.536px">Basement Insulation</div><span class="m" style="left:1241.19px;top:524.21px;width:20px;line-height:27.69px;font-size:18.99px">$</span><span class="m" style="left:1335.45px;top:524.21px;width:20px;line-height:27.69px;font-size:18.99px">-</span><span class="m" style="left:1525.49px;top:524.21px;width:20px;line-height:27.69px;font-size:18.99px">$</span><span class="m" style="left:1615.25px;top:524.21px;width:20px;line-height:27.69px;font-size:18.99px">-</span><div class="t" style="left:14.78px;top:551.9px;line-height:27.69px;font-size:18.99px;letter-spacing:0.573px">Crawlspace Insulation</div><span class="m" style="left:1241.19px;top:551.9px;width:20px;line-height:27.69px;font-size:18.99px">$</span><span class="m" style="left:1335.45px;top:551.9px;width:20px;line-height:27.69px;font-size:18.99px">-</span><span class="m" style="left:1525.49px;top:551.9px;width:20px;line-height:27.69px;font-size:18.99px">$</span><span class="m" style="left:1615.25px;top:551.9px;width:20px;line-height:27.69px;font-size:18.99px">-</span><div class="t" style="left:15.73px;top:579.59px;line-height:27.69px;font-size:18.99px;letter-spacing:0.415px">Air Sealing</div><span class="m" style="left:1241.19px;top:579.59px;width:20px;line-height:27.69px;font-size:18.99px">$</span><span class="m" style="left:1335.45px;top:579.59px;width:20px;line-height:27.69px;font-size:18.99px">-</span><span class="m" style="left:1525.49px;top:579.59px;width:20px;line-height:27.69px;font-size:18.99px">$</span><span class="m" style="left:1615.25px;top:579.59px;width:20px;line-height:27.69px;font-size:18.99px">-</span><div class="t" style="left:14.22px;top:607.28px;line-height:27.69px;font-size:18.99px;letter-spacing:0.613px">Energy Diagnostics (Blower Door, Infrared)</div><span class="m" style="left:1241.19px;top:607.28px;width:20px;line-height:27.69px;font-size:18.99px">$</span><span class="m" style="left:1335.45px;top:607.28px;width:20px;line-height:27.69px;font-size:18.99px">-</span><span class="m" style="left:1525.49px;top:607.28px;width:20px;line-height:27.69px;font-size:18.99px">$</span><span class="m" style="left:1615.25px;top:607.28px;width:20px;line-height:27.69px;font-size:18.99px">-</span><div class="t" style="left:14.97px;top:634.97px;line-height:27.69px;font-size:18.99px;letter-spacing:1.351px">Other</div><span class="m" style="left:1241.19px;top:634.97px;width:20px;line-height:27.69px;font-size:18.99px">$</span><span class="m" style="left:1335.45px;top:634.97px;width:20px;line-height:27.69px;font-size:18.99px">-</span><span class="m" style="left:1525.49px;top:634.97px;width:20px;line-height:27.69px;font-size:18.99px">$</span><span class="m" style="left:1615.25px;top:634.97px;width:20px;line-height:27.69px;font-size:18.99px">-</span><span class="m" style="left:1241.19px;top:662.96px;width:20px;line-height:27.69px;font-size:18.99px">$</span><span class="m" style="left:1335.95px;top:662.96px;width:20px;line-height:27.69px;font-size:18.99px">-</span><span class="m" style="left:1387.64px;top:662.96px;width:20px;line-height:27.69px;font-size:18.99px">$</span><span class="m" style="left:1474.4px;top:662.96px;width:20px;line-height:27.69px;font-size:18.99px">-</span><div class="h" style="left:14.76px;top:690.35px;line-height:27.69px;font-size:18.99px;transform:scaleX(0.8587)">DRYWALL/PLASTER</div><div class="t" style="left:15.73px;top:718.04px;line-height:27.69px;font-size:18.99px;letter-spacing:0.667px">Walls</div><span class="m" style="left:1241.19px;top:718.04px;width:20px;line-height:27.69px;font-size:18.99px">$</span><span class="m" style="left:1335.45px;top:718.04px;width:20px;line-height:27.69px;font-size:18.99px">-</span><span class="m" style="left:1525.49px;top:718.04px;width:20px;line-height:27.69px;font-size:18.99px">$</span><span class="m" style="left:1615.25px;top:718.04px;width:20px;line-height:27.69px;font-size:18.99px">-</span><div class="t" style="left:14.78px;top:745.73px;line-height:27.69px;font-size:18.99px;letter-spacing:0.381px">Ceilings, Soffits</div><span class="m" style="left:1241.19px;top:745.73px;width:20px;line-height:27.69px;font-size:18.99px">$</span><span class="m" style="left:1335.45px;top:745.73px;width:20px;line-height:27.69px;font-size:18.99px">-</span><span class="m" style="left:1525.49px;top:745.73px;width:20px;line-height:27.69px;font-size:18.99px">$</span><span class="m" style="left:1615.25px;top:745.73px;width:20px;line-height:27.69px;font-size:18.99px">-</span><div class="t" style="left:14.22px;top:773.42px;line-height:27.69px;font-size:18.99px;letter-spacing:1.191px">Decorative Plaster</div><span class="m" style="left:1241.19px;top:773.42px;width:20px;line-height:27.69px;font-size:18.99px">$</span><span class="m" style="left:1335.45px;top:773.42px;width:20px;line-height:27.69px;font-size:18.99px">-</span><span class="m" style="left:1525.49px;top:773.42px;width:20px;line-height:27.69px;font-size:18.99px">$</span><span class="m" style="left:1615.25px;top:773.42px;width:20px;line-height:27.69px;font-size:18.99px">-</span><div class="t" style="left:14.22px;top:801.11px;line-height:27.69px;font-size:18.99px;letter-spacing:0.395px">Drywall Labor Only</div><span class="m" style="left:1241.19px;top:801.11px;width:20px;line-height:27.69px;font-size:18.99px">$</span><span class="m" style="left:1335.45px;top:801.11px;width:20px;line-height:27.69px;font-size:18.99px">-</span><span class="m" style="left:1525.49px;top:801.11px;width:20px;line-height:27.69px;font-size:18.99px">$</span><span class="m" style="left:1615.25px;top:801.11px;width:20px;line-height:27.69px;font-size:18.99px">-</span><div class="t" style="left:14.97px;top:828.8px;line-height:27.69px;font-size:18.99px;letter-spacing:1.351px">Other</div><span class="m" style="left:1241.19px;top:828.8px;width:20px;line-height:27.69px;font-size:18.99px">$</span><span class="m" style="left:1335.45px;top:828.8px;width:20px;line-height:27.69px;font-size:18.99px">-</span><span class="m" style="left:1525.49px;top:828.8px;width:20px;line-height:27.69px;font-size:18.99px">$</span><span class="m" style="left:1615.25px;top:828.8px;width:20px;line-height:27.69px;font-size:18.99px">-</span><span class="m" style="left:1241.19px;top:856.79px;width:20px;line-height:27.69px;font-size:18.99px">$</span><span class="m" style="left:1335.95px;top:856.79px;width:20px;line-height:27.69px;font-size:18.99px">-</span><span class="m" style="left:1387.64px;top:856.79px;width:20px;line-height:27.69px;font-size:18.99px">$</span><span class="m" style="left:1474.4px;top:856.79px;width:20px;line-height:27.69px;font-size:18.99px">-</span><div class="h" style="left:14.7px;top:884.18px;line-height:27.69px;font-size:18.99px;transform:scaleX(0.9111)">INTERIOR FINISH</div><div class="t" style="left:14.03px;top:911.87px;line-height:27.69px;font-size:18.99px;letter-spacing:0.447px">Interior Doors, Prehung</div><span class="m" style="left:1241.19px;top:911.87px;width:20px;line-height:27.69px;font-size:18.99px">$</span><span class="m" style="left:1335.45px;top:911.87px;width:20px;line-height:27.69px;font-size:18.99px">-</span><span class="m" style="left:1525.49px;top:911.87px;width:20px;line-height:27.69px;font-size:18.99px">$</span><span class="m" style="left:1615.25px;top:911.87px;width:20px;line-height:27.69px;font-size:18.99px">-</span><div class="t" style="left:14.03px;top:939.56px;line-height:27.69px;font-size:18.99px;letter-spacing:0.553px">Interior Door Slabs</div><span class="m" style="left:1241.19px;top:939.56px;width:20px;line-height:27.69px;font-size:18.99px">$</span><span class="m" style="left:1335.45px;top:939.56px;width:20px;line-height:27.69px;font-size:18.99px">-</span><span class="m" style="left:1525.49px;top:939.56px;width:20px;line-height:27.69px;font-size:18.99px">$</span><span class="m" style="left:1615.25px;top:939.56px;width:20px;line-height:27.69px;font-size:18.99px">-</span><div class="t" style="left:14.03px;top:967.25px;line-height:27.69px;font-size:18.99px;letter-spacing:0.629px">Interior Door Frames, Thresholds</div><span class="m" style="left:1241.19px;top:967.25px;width:20px;line-height:27.69px;font-size:18.99px">$</span><span class="m" style="left:1335.45px;top:967.25px;width:20px;line-height:27.69px;font-size:18.99px">-</span><span class="m" style="left:1525.49px;top:967.25px;width:20px;line-height:27.69px;font-size:18.99px">$</span><span class="m" style="left:1615.25px;top:967.25px;width:20px;line-height:27.69px;font-size:18.99px">-</span><div class="t" style="left:14.22px;top:994.94px;line-height:27.69px;font-size:18.99px;letter-spacing:0.514px">Door Knobs, Hardware</div><span class="m" style="left:1241.19px;top:994.94px;width:20px;line-height:27.69px;font-size:18.99px">$</span><span class="m" style="left:1335.45px;top:994.94px;width:20px;line-height:27.69px;font-size:18.99px">-</span><span class="m" style="left:1525.49px;top:994.94px;width:20px;line-height:27.69px;font-size:18.99px">$</span><span class="m" style="left:1615.25px;top:994.94px;width:20px;line-height:27.69px;font-size:18.99px">-</span><div class="t" style="left:14.78px;top:1022.63px;line-height:27.69px;font-size:18.99px;letter-spacing:0.401px">Chair Rail, Other</div><span class="m" style="left:1241.19px;top:1022.63px;width:20px;line-height:27.69px;font-size:18.99px">$</span><span class="m" style="left:1335.45px;top:1022.63px;width:20px;line-height:27.69px;font-size:18.99px">-</span><span class="m" style="left:1525.49px;top:1022.63px;width:20px;line-height:27.69px;font-size:18.99px">$</span><span class="m" style="left:1615.25px;top:1022.63px;width:20px;line-height:27.69px;font-size:18.99px">-</span><div class="t" style="left:15.73px;top:1050.32px;line-height:27.69px;font-size:18.99px;letter-spacing:0.821px">Wainscotting, Paneling</div><span class="m" style="left:1241.19px;top:1050.32px;width:20px;line-height:27.69px;font-size:18.99px">$</span><span class="m" style="left:1335.45px;top:1050.32px;width:20px;line-height:27.69px;font-size:18.99px">-</span><span class="m" style="left:1525.49px;top:1050.32px;width:20px;line-height:27.69px;font-size:18.99px">$</span><span class="m" style="left:1615.25px;top:1050.32px;width:20px;line-height:27.69px;font-size:18.99px">-</span><div class="t" style="left:14.22px;top:1078.01px;line-height:27.69px;font-size:18.99px;letter-spacing:0.344px">Built-In Shelving, Cabinets</div><span class="m" style="left:1241.19px;top:1078.01px;width:20px;line-height:27.69px;font-size:18.99px">$</span><span class="m" style="left:1335.45px;top:1078.01px;width:20px;line-height:27.69px;font-size:18.99px">-</span><span class="m" style="left:1525.49px;top:1078.01px;width:20px;line-height:27.69px;font-size:18.99px">$</span><span class="m" style="left:1615.25px;top:1078.01px;width:20px;line-height:27.69px;font-size:18.99px">-</span><div class="t" style="left:14.78px;top:1105.7px;line-height:27.69px;font-size:18.99px;letter-spacing:0.515px">Closet Shelving, Hardware</div><span class="m" style="left:1241.19px;top:1105.7px;width:20px;line-height:27.69px;font-size:18.99px">$</span><span class="m" style="left:1335.45px;top:1105.7px;width:20px;line-height:27.69px;font-size:18.99px">-</span><span class="m" style="left:1525.49px;top:1105.7px;width:20px;line-height:27.69px;font-size:18.99px">$</span><span class="m" style="left:1615.25px;top:1105.7px;width:20px;line-height:27.69px;font-size:18.99px">-</span><div class="t" style="left:14.97px;top:1133.39px;line-height:27.69px;font-size:18.99px;letter-spacing:0.072px">Stairs, Railings, Newels</div><span class="m" style="left:1241.19px;top:1133.39px;width:20px;line-height:27.69px;font-size:18.99px">$</span><span class="m" style="left:1335.45px;top:1133.39px;width:20px;line-height:27.69px;font-size:18.99px">-</span><span class="m" style="left:1525.49px;top:1133.39px;width:20px;line-height:27.69px;font-size:18.99px">$</span><span class="m" style="left:1615.25px;top:1133.39px;width:20px;line-height:27.69px;font-size:18.99px">-</span><div class="t" style="left:14.03px;top:1161.08px;line-height:27.69px;font-size:18.99px;letter-spacing:0.442px">Interior Painting, Staining</div><span class="m" style="left:1241.19px;top:1161.08px;width:20px;line-height:27.69px;font-size:18.99px">$</span><span class="m" style="left:1335.45px;top:1161.08px;width:20px;line-height:27.69px;font-size:18.99px">-</span><span class="m" style="left:1525.49px;top:1161.08px;width:20px;line-height:27.69px;font-size:18.99px">$</span><span class="m" style="left:1615.25px;top:1161.08px;width:20px;line-height:27.69px;font-size:18.99px">-</span><div class="t" style="left:15.73px;top:1188.77px;line-height:27.69px;font-size:18.99px;letter-spacing:0.881px">Wood Flooring</div><span class="m" style="left:1241.19px;top:1188.77px;width:20px;line-height:27.69px;font-size:18.99px">$</span><span class="m" style="left:1335.45px;top:1188.77px;width:20px;line-height:27.69px;font-size:18.99px">-</span><span class="m" style="left:1525.49px;top:1188.77px;width:20px;line-height:27.69px;font-size:18.99px">$</span><span class="m" style="left:1615.25px;top:1188.77px;width:20px;line-height:27.69px;font-size:18.99px">-</span><div class="t" style="left:14.78px;top:1216.46px;line-height:27.69px;font-size:18.99px;letter-spacing:1.332px">Carpeting</div><span class="m" style="left:1241.19px;top:1216.46px;width:20px;line-height:27.69px;font-size:18.99px">$</span><span class="m" style="left:1335.45px;top:1216.46px;width:20px;line-height:27.69px;font-size:18.99px">-</span><span class="m" style="left:1525.49px;top:1216.46px;width:20px;line-height:27.69px;font-size:18.99px">$</span><span class="m" style="left:1615.25px;top:1216.46px;width:20px;line-height:27.69px;font-size:18.99px">-</span><div class="t" style="left:14.97px;top:1244.15px;line-height:27.69px;font-size:18.99px;letter-spacing:1.351px">Other</div><span class="m" style="left:1241.19px;top:1244.15px;width:20px;line-height:27.69px;font-size:18.99px">$</span><span class="m" style="left:1335.45px;top:1244.15px;width:20px;line-height:27.69px;font-size:18.99px">-</span><span class="m" style="left:1525.49px;top:1244.15px;width:20px;line-height:27.69px;font-size:18.99px">$</span><span class="m" style="left:1615.25px;top:1244.15px;width:20px;line-height:27.69px;font-size:18.99px">-</span><span class="m" style="left:1241.19px;top:1272.14px;width:20px;line-height:27.69px;font-size:18.99px">$</span><span class="m" style="left:1335.95px;top:1272.14px;width:20px;line-height:27.69px;font-size:18.99px">-</span><span class="m" style="left:1387.64px;top:1272.14px;width:20px;line-height:27.69px;font-size:18.99px">$</span><span class="m" style="left:1474.4px;top:1272.14px;width:20px;line-height:27.69px;font-size:18.99px">-</span><div class="sh" style="left:148.3px;top:244.5px;width:1692.5px;height:988.8px;opacity:0.51"></div></div><div class="sheet" style="left:860px;top:1002.2px;width:1690px;height:987.8px"><div class="panel" style="left:12.8px;top:0px;width:1660.2px;height:987.8px"></div><svg class="g" width="1730" height="1027.8" viewBox="0 0 1730 1027.8"><rect x="671.4" y="31.47" width="217.33" height="362.31" fill="#fff2cc"/><rect x="888.73" y="31.47" width="216.92" height="362.31" fill="#ebecf0"/><rect x="1105.65" y="31.47" width="138.65" height="362.31" fill="#f2f3f4"/><rect x="1244.29" y="31.47" width="287.35" height="362.31" fill="#ffffff"/><rect x="1243.49" y="394.58" width="287.35" height="27.27" fill="#d6dae3"/><line class="d" x1="671.4" y1="31.47" x2="1531.65" y2="31.47"/><line class="d" x1="671.4" y1="59.34" x2="1531.65" y2="59.34"/><line class="d" x1="671.4" y1="87.21" x2="1531.65" y2="87.21"/><line class="d" x1="671.4" y1="115.08" x2="1531.65" y2="115.08"/><line class="d" x1="671.4" y1="142.95" x2="1531.65" y2="142.95"/><line class="d" x1="671.4" y1="170.82" x2="1531.65" y2="170.82"/><line class="d" x1="671.4" y1="198.69" x2="1531.65" y2="198.69"/><line class="d" x1="671.4" y1="226.56" x2="1531.65" y2="226.56"/><line class="d" x1="671.4" y1="254.43" x2="1531.65" y2="254.43"/><line class="d" x1="671.4" y1="282.3" x2="1531.65" y2="282.3"/><line class="d" x1="671.4" y1="310.17" x2="1531.65" y2="310.17"/><line class="d" x1="671.4" y1="338.04" x2="1531.65" y2="338.04"/><line class="d" x1="671.4" y1="365.91" x2="1531.65" y2="365.91"/><line class="d" x1="671.4" y1="393.78" x2="1531.65" y2="393.78"/><line class="d" x1="671.4" y1="31.47" x2="671.4" y2="393.78"/><line class="d" x1="780.06" y1="31.47" x2="780.06" y2="393.78"/><line class="d" x1="888.73" y1="31.47" x2="888.73" y2="393.78"/><line class="d" x1="997.39" y1="31.47" x2="997.39" y2="393.78"/><line class="d" x1="1105.65" y1="31.47" x2="1105.65" y2="393.78"/><line class="sl" x1="1244.29" y1="31.47" x2="1244.29" y2="393.78"/><line class="d" x1="1391.39" y1="31.47" x2="1391.39" y2="393.78"/><line class="d" x1="1531.65" y1="31.47" x2="1531.65" y2="393.78"/><rect x="671.4" y="449.52" width="217.33" height="167.22" fill="#fff2cc"/><rect x="888.73" y="449.52" width="216.92" height="167.22" fill="#ebecf0"/><rect x="1105.65" y="449.52" width="138.65" height="167.22" fill="#f2f3f4"/><rect x="1244.29" y="449.52" width="287.35" height="167.22" fill="#ffffff"/><rect x="1243.49" y="617.54" width="287.35" height="27.27" fill="#d6dae3"/><line class="d" x1="671.4" y1="449.52" x2="1531.65" y2="449.52"/><line class="d" x1="671.4" y1="477.39" x2="1531.65" y2="477.39"/><line class="d" x1="671.4" y1="505.26" x2="1531.65" y2="505.26"/><line class="d" x1="671.4" y1="533.13" x2="1531.65" y2="533.13"/><line class="d" x1="671.4" y1="561" x2="1531.65" y2="561"/><line class="d" x1="671.4" y1="588.87" x2="1531.65" y2="588.87"/><line class="d" x1="671.4" y1="616.74" x2="1531.65" y2="616.74"/><line class="d" x1="671.4" y1="449.52" x2="671.4" y2="616.74"/><line class="d" x1="780.06" y1="449.52" x2="780.06" y2="616.74"/><line class="d" x1="888.73" y1="449.52" x2="888.73" y2="616.74"/><line class="d" x1="997.39" y1="449.52" x2="997.39" y2="616.74"/><line class="d" x1="1105.65" y1="449.52" x2="1105.65" y2="616.74"/><line class="sl" x1="1244.29" y1="449.52" x2="1244.29" y2="616.74"/><line class="d" x1="1391.39" y1="449.52" x2="1391.39" y2="616.74"/><line class="d" x1="1531.65" y1="449.52" x2="1531.65" y2="616.74"/><rect x="671.4" y="672.48" width="217.33" height="195.09" fill="#fff2cc"/><rect x="888.73" y="672.48" width="216.92" height="195.09" fill="#ebecf0"/><rect x="1105.65" y="672.48" width="138.65" height="195.09" fill="#f2f3f4"/><rect x="1244.29" y="672.48" width="287.35" height="195.09" fill="#ffffff"/><rect x="1243.49" y="868.37" width="287.35" height="27.27" fill="#d6dae3"/><line class="d" x1="671.4" y1="672.48" x2="1531.65" y2="672.48"/><line class="d" x1="671.4" y1="700.35" x2="1531.65" y2="700.35"/><line class="d" x1="671.4" y1="728.22" x2="1531.65" y2="728.22"/><line class="d" x1="671.4" y1="756.09" x2="1531.65" y2="756.09"/><line class="d" x1="671.4" y1="783.96" x2="1531.65" y2="783.96"/><line class="d" x1="671.4" y1="811.83" x2="1531.65" y2="811.83"/><line class="d" x1="671.4" y1="839.7" x2="1531.65" y2="839.7"/><line class="d" x1="671.4" y1="867.57" x2="1531.65" y2="867.57"/><line class="d" x1="671.4" y1="672.48" x2="671.4" y2="867.57"/><line class="d" x1="780.06" y1="672.48" x2="780.06" y2="867.57"/><line class="d" x1="888.73" y1="672.48" x2="888.73" y2="867.57"/><line class="d" x1="997.39" y1="672.48" x2="997.39" y2="867.57"/><line class="d" x1="1105.65" y1="672.48" x2="1105.65" y2="867.57"/><line class="sl" x1="1244.29" y1="672.48" x2="1244.29" y2="867.57"/><line class="d" x1="1391.39" y1="672.48" x2="1391.39" y2="867.57"/><line class="d" x1="1531.65" y1="672.48" x2="1531.65" y2="867.57"/><rect x="12.8" y="923.31" width="1660.2" height="87.74" fill="#d6dae3"/></svg><div class="h" style="left:16.88px;top:4.2px;line-height:27.87px;font-size:19.12px;transform:scaleX(0.9022)">KITCHEN &amp; BATH</div><div class="t" style="left:16.38px;top:32.07px;line-height:27.87px;font-size:19.12px;letter-spacing:0.879px">Kitchen Cabinets</div><span class="m" style="left:1251.6px;top:32.07px;width:20px;line-height:27.87px;font-size:19.12px">$</span><span class="m" style="left:1346.48px;top:32.07px;width:20px;line-height:27.87px;font-size:19.12px">-</span><span class="m" style="left:1537.75px;top:32.07px;width:20px;line-height:27.87px;font-size:19.12px">$</span><span class="m" style="left:1628.1px;top:32.07px;width:20px;line-height:27.87px;font-size:19.12px">-</span><div class="t" style="left:16.38px;top:59.94px;line-height:27.87px;font-size:19.12px;letter-spacing:0.810px">Bath Cabinets</div><span class="m" style="left:1251.6px;top:59.94px;width:20px;line-height:27.87px;font-size:19.12px">$</span><span class="m" style="left:1346.48px;top:59.94px;width:20px;line-height:27.87px;font-size:19.12px">-</span><span class="m" style="left:1537.75px;top:59.94px;width:20px;line-height:27.87px;font-size:19.12px">$</span><span class="m" style="left:1628.1px;top:59.94px;width:20px;line-height:27.87px;font-size:19.12px">-</span><div class="t" style="left:16.95px;top:87.81px;line-height:27.87px;font-size:19.12px;letter-spacing:0.505px">Cabinet Pulls, Hardware</div><span class="m" style="left:1251.6px;top:87.81px;width:20px;line-height:27.87px;font-size:19.12px">$</span><span class="m" style="left:1346.48px;top:87.81px;width:20px;line-height:27.87px;font-size:19.12px">-</span><span class="m" style="left:1537.75px;top:87.81px;width:20px;line-height:27.87px;font-size:19.12px">$</span><span class="m" style="left:1628.1px;top:87.81px;width:20px;line-height:27.87px;font-size:19.12px">-</span><div class="t" style="left:16.95px;top:115.68px;line-height:27.87px;font-size:19.12px;letter-spacing:0.698px">Countertop, Backsplash</div><span class="m" style="left:1251.6px;top:115.68px;width:20px;line-height:27.87px;font-size:19.12px">$</span><span class="m" style="left:1346.48px;top:115.68px;width:20px;line-height:27.87px;font-size:19.12px">-</span><span class="m" style="left:1537.75px;top:115.68px;width:20px;line-height:27.87px;font-size:19.12px">$</span><span class="m" style="left:1628.1px;top:115.68px;width:20px;line-height:27.87px;font-size:19.12px">-</span><div class="t" style="left:16.95px;top:143.55px;line-height:27.87px;font-size:19.12px;letter-spacing:0.528px">Ceramic Tile, Stone</div><span class="m" style="left:1251.6px;top:143.55px;width:20px;line-height:27.87px;font-size:19.12px">$</span><span class="m" style="left:1346.48px;top:143.55px;width:20px;line-height:27.87px;font-size:19.12px">-</span><span class="m" style="left:1537.75px;top:143.55px;width:20px;line-height:27.87px;font-size:19.12px">$</span><span class="m" style="left:1628.1px;top:143.55px;width:20px;line-height:27.87px;font-size:19.12px">-</span><div class="t" style="left:16.38px;top:171.42px;line-height:27.87px;font-size:19.12px;letter-spacing:0.372px">Raised Tub Platform</div><span class="m" style="left:1251.6px;top:171.42px;width:20px;line-height:27.87px;font-size:19.12px">$</span><span class="m" style="left:1346.48px;top:171.42px;width:20px;line-height:27.87px;font-size:19.12px">-</span><span class="m" style="left:1537.75px;top:171.42px;width:20px;line-height:27.87px;font-size:19.12px">$</span><span class="m" style="left:1628.1px;top:171.42px;width:20px;line-height:27.87px;font-size:19.12px">-</span><div class="t" style="left:17.53px;top:199.29px;line-height:27.87px;font-size:19.12px;letter-spacing:-0.040px">Tub Enclosure</div><span class="m" style="left:1251.6px;top:199.29px;width:20px;line-height:27.87px;font-size:19.12px">$</span><span class="m" style="left:1346.48px;top:199.29px;width:20px;line-height:27.87px;font-size:19.12px">-</span><span class="m" style="left:1537.75px;top:199.29px;width:20px;line-height:27.87px;font-size:19.12px">$</span><span class="m" style="left:1628.1px;top:199.29px;width:20px;line-height:27.87px;font-size:19.12px">-</span><div class="t" style="left:17.15px;top:227.16px;line-height:27.87px;font-size:19.12px;letter-spacing:0.428px">Shower Enclosure/Doors</div><span class="m" style="left:1251.6px;top:227.16px;width:20px;line-height:27.87px;font-size:19.12px">$</span><span class="m" style="left:1346.48px;top:227.16px;width:20px;line-height:27.87px;font-size:19.12px">-</span><span class="m" style="left:1537.75px;top:227.16px;width:20px;line-height:27.87px;font-size:19.12px">$</span><span class="m" style="left:1628.1px;top:227.16px;width:20px;line-height:27.87px;font-size:19.12px">-</span><div class="t" style="left:16.38px;top:255.03px;line-height:27.87px;font-size:19.12px;letter-spacing:1.084px">Medicine Cabinets</div><span class="m" style="left:1251.6px;top:255.03px;width:20px;line-height:27.87px;font-size:19.12px">$</span><span class="m" style="left:1346.48px;top:255.03px;width:20px;line-height:27.87px;font-size:19.12px">-</span><span class="m" style="left:1537.75px;top:255.03px;width:20px;line-height:27.87px;font-size:19.12px">$</span><span class="m" style="left:1628.1px;top:255.03px;width:20px;line-height:27.87px;font-size:19.12px">-</span><div class="t" style="left:16.38px;top:282.9px;line-height:27.87px;font-size:19.12px;letter-spacing:0.407px">Mirrors</div><span class="m" style="left:1251.6px;top:282.9px;width:20px;line-height:27.87px;font-size:19.12px">$</span><span class="m" style="left:1346.48px;top:282.9px;width:20px;line-height:27.87px;font-size:19.12px">-</span><span class="m" style="left:1537.75px;top:282.9px;width:20px;line-height:27.87px;font-size:19.12px">$</span><span class="m" style="left:1628.1px;top:282.9px;width:20px;line-height:27.87px;font-size:19.12px">-</span><div class="t" style="left:17.53px;top:310.77px;line-height:27.87px;font-size:19.12px;letter-spacing:0.400px">Towel Hangers, Toilet Paper Holders, Accessories</div><span class="m" style="left:1251.6px;top:310.77px;width:20px;line-height:27.87px;font-size:19.12px">$</span><span class="m" style="left:1346.48px;top:310.77px;width:20px;line-height:27.87px;font-size:19.12px">-</span><span class="m" style="left:1537.75px;top:310.77px;width:20px;line-height:27.87px;font-size:19.12px">$</span><span class="m" style="left:1628.1px;top:310.77px;width:20px;line-height:27.87px;font-size:19.12px">-</span><div class="t" style="left:16.38px;top:338.64px;line-height:27.87px;font-size:19.12px;letter-spacing:0.104px">K&amp;B Labor Only</div><span class="m" style="left:1251.6px;top:338.64px;width:20px;line-height:27.87px;font-size:19.12px">$</span><span class="m" style="left:1346.48px;top:338.64px;width:20px;line-height:27.87px;font-size:19.12px">-</span><span class="m" style="left:1537.75px;top:338.64px;width:20px;line-height:27.87px;font-size:19.12px">$</span><span class="m" style="left:1628.1px;top:338.64px;width:20px;line-height:27.87px;font-size:19.12px">-</span><div class="t" style="left:17.15px;top:366.51px;line-height:27.87px;font-size:19.12px;letter-spacing:1.276px">Other</div><span class="m" style="left:1251.6px;top:366.51px;width:20px;line-height:27.87px;font-size:19.12px">$</span><span class="m" style="left:1346.48px;top:366.51px;width:20px;line-height:27.87px;font-size:19.12px">-</span><span class="m" style="left:1537.75px;top:366.51px;width:20px;line-height:27.87px;font-size:19.12px">$</span><span class="m" style="left:1628.1px;top:366.51px;width:20px;line-height:27.87px;font-size:19.12px">-</span><span class="m" style="left:1251.6px;top:394.68px;width:20px;line-height:27.87px;font-size:19.12px">$</span><span class="m" style="left:1346.98px;top:394.68px;width:20px;line-height:27.87px;font-size:19.12px">-</span><span class="m" style="left:1399px;top:394.68px;width:20px;line-height:27.87px;font-size:19.12px">$</span><span class="m" style="left:1486.33px;top:394.68px;width:20px;line-height:27.87px;font-size:19.12px">-</span><div class="h" style="left:16.92px;top:422.25px;line-height:27.87px;font-size:19.12px;transform:scaleX(0.8629)">PORCHES &amp; DECKS</div><div class="t" style="left:17.15px;top:450.12px;line-height:27.87px;font-size:19.12px;letter-spacing:0.769px">Open Porch</div><span class="m" style="left:1251.6px;top:450.12px;width:20px;line-height:27.87px;font-size:19.12px">$</span><span class="m" style="left:1346.48px;top:450.12px;width:20px;line-height:27.87px;font-size:19.12px">-</span><span class="m" style="left:1537.75px;top:450.12px;width:20px;line-height:27.87px;font-size:19.12px">$</span><span class="m" style="left:1628.1px;top:450.12px;width:20px;line-height:27.87px;font-size:19.12px">-</span><div class="t" style="left:17.15px;top:477.99px;line-height:27.87px;font-size:19.12px;letter-spacing:0.638px">Screen Porch</div><span class="m" style="left:1251.6px;top:477.99px;width:20px;line-height:27.87px;font-size:19.12px">$</span><span class="m" style="left:1346.48px;top:477.99px;width:20px;line-height:27.87px;font-size:19.12px">-</span><span class="m" style="left:1537.75px;top:477.99px;width:20px;line-height:27.87px;font-size:19.12px">$</span><span class="m" style="left:1628.1px;top:477.99px;width:20px;line-height:27.87px;font-size:19.12px">-</span><div class="t" style="left:17.91px;top:505.86px;line-height:27.87px;font-size:19.12px;letter-spacing:0.960px">Wood or Composite Deck</div><span class="m" style="left:1251.6px;top:505.86px;width:20px;line-height:27.87px;font-size:19.12px">$</span><span class="m" style="left:1346.48px;top:505.86px;width:20px;line-height:27.87px;font-size:19.12px">-</span><span class="m" style="left:1537.75px;top:505.86px;width:20px;line-height:27.87px;font-size:19.12px">$</span><span class="m" style="left:1628.1px;top:505.86px;width:20px;line-height:27.87px;font-size:19.12px">-</span><div class="t" style="left:16.38px;top:533.73px;line-height:27.87px;font-size:19.12px;letter-spacing:0.966px">Fencing</div><span class="m" style="left:1251.6px;top:533.73px;width:20px;line-height:27.87px;font-size:19.12px">$</span><span class="m" style="left:1346.48px;top:533.73px;width:20px;line-height:27.87px;font-size:19.12px">-</span><span class="m" style="left:1537.75px;top:533.73px;width:20px;line-height:27.87px;font-size:19.12px">$</span><span class="m" style="left:1628.1px;top:533.73px;width:20px;line-height:27.87px;font-size:19.12px">-</span><div class="t" style="left:17.15px;top:561.6px;line-height:27.87px;font-size:19.12px;letter-spacing:0.792px">Other Outdoor Structures</div><span class="m" style="left:1251.6px;top:561.6px;width:20px;line-height:27.87px;font-size:19.12px">$</span><span class="m" style="left:1346.48px;top:561.6px;width:20px;line-height:27.87px;font-size:19.12px">-</span><span class="m" style="left:1537.75px;top:561.6px;width:20px;line-height:27.87px;font-size:19.12px">$</span><span class="m" style="left:1628.1px;top:561.6px;width:20px;line-height:27.87px;font-size:19.12px">-</span><div class="t" style="left:17.15px;top:589.47px;line-height:27.87px;font-size:19.12px;letter-spacing:1.276px">Other</div><span class="m" style="left:1251.6px;top:589.47px;width:20px;line-height:27.87px;font-size:19.12px">$</span><span class="m" style="left:1346.48px;top:589.47px;width:20px;line-height:27.87px;font-size:19.12px">-</span><span class="m" style="left:1537.75px;top:589.47px;width:20px;line-height:27.87px;font-size:19.12px">$</span><span class="m" style="left:1628.1px;top:589.47px;width:20px;line-height:27.87px;font-size:19.12px">-</span><span class="m" style="left:1251.6px;top:617.64px;width:20px;line-height:27.87px;font-size:19.12px">$</span><span class="m" style="left:1346.98px;top:617.64px;width:20px;line-height:27.87px;font-size:19.12px">-</span><span class="m" style="left:1399px;top:617.64px;width:20px;line-height:27.87px;font-size:19.12px">$</span><span class="m" style="left:1486.33px;top:617.64px;width:20px;line-height:27.87px;font-size:19.12px">-</span><div class="h" style="left:17.57px;top:645.21px;line-height:27.87px;font-size:19.12px;transform:scaleX(0.8925)">APPLIANCES</div><div class="t" style="left:16.38px;top:673.08px;line-height:27.87px;font-size:19.12px;letter-spacing:0.895px">Refrigerator</div><span class="m" style="left:1251.6px;top:673.08px;width:20px;line-height:27.87px;font-size:19.12px">$</span><span class="m" style="left:1346.48px;top:673.08px;width:20px;line-height:27.87px;font-size:19.12px">-</span><span class="m" style="left:1537.75px;top:673.08px;width:20px;line-height:27.87px;font-size:19.12px">$</span><span class="m" style="left:1628.1px;top:673.08px;width:20px;line-height:27.87px;font-size:19.12px">-</span><div class="t" style="left:16.38px;top:700.95px;line-height:27.87px;font-size:19.12px;letter-spacing:0.897px">Range, Cooktop</div><span class="m" style="left:1251.6px;top:700.95px;width:20px;line-height:27.87px;font-size:19.12px">$</span><span class="m" style="left:1346.48px;top:700.95px;width:20px;line-height:27.87px;font-size:19.12px">-</span><span class="m" style="left:1537.75px;top:700.95px;width:20px;line-height:27.87px;font-size:19.12px">$</span><span class="m" style="left:1628.1px;top:700.95px;width:20px;line-height:27.87px;font-size:19.12px">-</span><div class="t" style="left:16.38px;top:728.82px;line-height:27.87px;font-size:19.12px;letter-spacing:1.871px">Microwave</div><span class="m" style="left:1251.6px;top:728.82px;width:20px;line-height:27.87px;font-size:19.12px">$</span><span class="m" style="left:1346.48px;top:728.82px;width:20px;line-height:27.87px;font-size:19.12px">-</span><span class="m" style="left:1537.75px;top:728.82px;width:20px;line-height:27.87px;font-size:19.12px">$</span><span class="m" style="left:1628.1px;top:728.82px;width:20px;line-height:27.87px;font-size:19.12px">-</span><div class="t" style="left:16.38px;top:756.69px;line-height:27.87px;font-size:19.12px;letter-spacing:0.751px">Range Hood</div><span class="m" style="left:1251.6px;top:756.69px;width:20px;line-height:27.87px;font-size:19.12px">$</span><span class="m" style="left:1346.48px;top:756.69px;width:20px;line-height:27.87px;font-size:19.12px">-</span><span class="m" style="left:1537.75px;top:756.69px;width:20px;line-height:27.87px;font-size:19.12px">$</span><span class="m" style="left:1628.1px;top:756.69px;width:20px;line-height:27.87px;font-size:19.12px">-</span><div class="t" style="left:16.38px;top:784.56px;line-height:27.87px;font-size:19.12px;letter-spacing:0.390px">Dishwasher</div><span class="m" style="left:1251.6px;top:784.56px;width:20px;line-height:27.87px;font-size:19.12px">$</span><span class="m" style="left:1346.48px;top:784.56px;width:20px;line-height:27.87px;font-size:19.12px">-</span><span class="m" style="left:1537.75px;top:784.56px;width:20px;line-height:27.87px;font-size:19.12px">$</span><span class="m" style="left:1628.1px;top:784.56px;width:20px;line-height:27.87px;font-size:19.12px">-</span><div class="t" style="left:17.91px;top:812.43px;line-height:27.87px;font-size:19.12px;letter-spacing:0.705px">Washer/Dryer</div><span class="m" style="left:1251.6px;top:812.43px;width:20px;line-height:27.87px;font-size:19.12px">$</span><span class="m" style="left:1346.48px;top:812.43px;width:20px;line-height:27.87px;font-size:19.12px">-</span><span class="m" style="left:1537.75px;top:812.43px;width:20px;line-height:27.87px;font-size:19.12px">$</span><span class="m" style="left:1628.1px;top:812.43px;width:20px;line-height:27.87px;font-size:19.12px">-</span><div class="t" style="left:17.15px;top:840.3px;line-height:27.87px;font-size:19.12px;letter-spacing:1.276px">Other</div><span class="m" style="left:1251.6px;top:840.3px;width:20px;line-height:27.87px;font-size:19.12px">$</span><span class="m" style="left:1346.48px;top:840.3px;width:20px;line-height:27.87px;font-size:19.12px">-</span><span class="m" style="left:1537.75px;top:840.3px;width:20px;line-height:27.87px;font-size:19.12px">$</span><span class="m" style="left:1628.1px;top:840.3px;width:20px;line-height:27.87px;font-size:19.12px">-</span><span class="m" style="left:1251.6px;top:868.47px;width:20px;line-height:27.87px;font-size:19.12px">$</span><span class="m" style="left:1346.98px;top:868.47px;width:20px;line-height:27.87px;font-size:19.12px">-</span><span class="m" style="left:1399px;top:868.47px;width:20px;line-height:27.87px;font-size:19.12px">$</span><span class="m" style="left:1486.33px;top:868.47px;width:20px;line-height:27.87px;font-size:19.12px">-</span><div class="h" style="left:17.74px;top:923.91px;line-height:57.74px;font-size:19.12px;transform:scaleX(0.8981)">TOTAL</div><span class="m b" style="left:1251.6px;top:924.21px;width:20px;line-height:57.74px;font-size:19.12px">$</span><span class="m b" style="left:1344.47px;top:924.21px;width:20px;line-height:57.74px;font-size:19.12px">-</span><span class="m b" style="left:1399px;top:924.21px;width:20px;line-height:57.74px;font-size:19.12px">$</span><span class="m b" style="left:1484.02px;top:924.21px;width:20px;line-height:57.74px;font-size:19.12px">-</span></div></div></body></html>
